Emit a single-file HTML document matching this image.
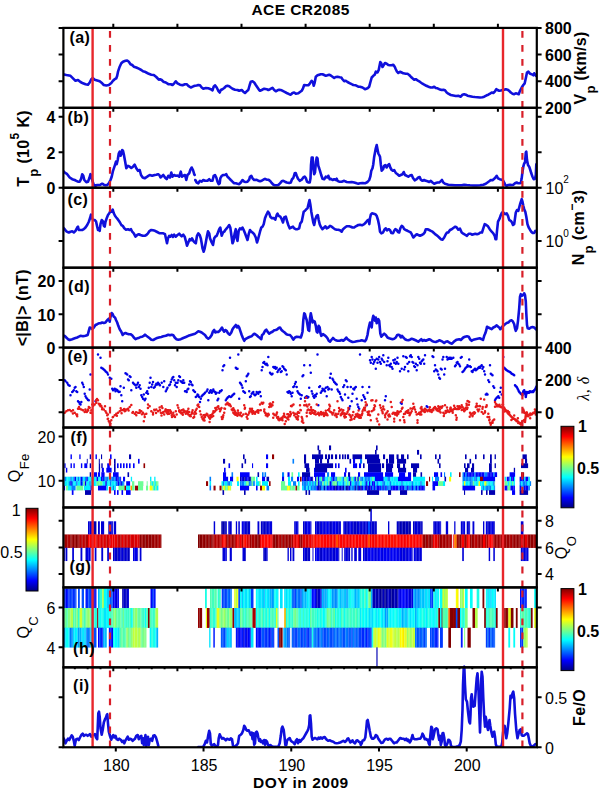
<!DOCTYPE html>
<html><head><meta charset="utf-8"><style>
html,body{margin:0;padding:0;background:#fff;width:600px;height:792px;overflow:hidden}
svg{display:block}
text{font-family:"Liberation Sans",sans-serif;fill:#000}
</style></head><body>
<svg width="600" height="792" viewBox="0 0 600 792">
<defs><linearGradient id="jet" x1="0" y1="0" x2="0" y2="1"><stop offset="0" stop-color="#800000"/><stop offset="0.125" stop-color="#ff0000"/><stop offset="0.375" stop-color="#ffff00"/><stop offset="0.625" stop-color="#00ffff"/><stop offset="0.875" stop-color="#0000ff"/><stop offset="1" stop-color="#000080"/></linearGradient>
<clipPath id="plot"><rect x="63.4" y="27.9" width="473.4" height="719.3700000000001"/></clipPath></defs>
<rect width="600" height="792" fill="#fff"/>
<g clip-path="url(#plot)"><rect x="370.30" y="508.20" width="1.55" height="13.35" fill="#0000d6"/><rect x="88.00" y="521.30" width="1.58" height="13.40" fill="#0000d4"/><rect x="89.46" y="521.30" width="1.58" height="13.40" fill="#0000d9"/><rect x="90.92" y="521.30" width="1.20" height="13.40" fill="#0000e8"/><rect x="92.00" y="521.30" width="1.58" height="13.40" fill="#0000b1"/><rect x="93.46" y="521.30" width="1.58" height="13.40" fill="#0000b3"/><rect x="94.92" y="521.30" width="1.50" height="13.40" fill="#0000b6"/><rect x="98.00" y="521.30" width="1.85" height="13.40" fill="#0000d6"/><rect x="101.00" y="521.30" width="3.15" height="13.40" fill="#0000d6"/><rect x="108.30" y="521.30" width="1.58" height="13.40" fill="#0000c9"/><rect x="109.76" y="521.30" width="1.58" height="13.40" fill="#0000d7"/><rect x="111.22" y="521.30" width="1.58" height="13.40" fill="#0000db"/><rect x="112.68" y="521.30" width="0.44" height="13.40" fill="#0000e2"/><rect x="113.80" y="521.30" width="2.35" height="13.40" fill="#0000d6"/><rect x="213.70" y="521.30" width="1.45" height="13.40" fill="#0000d6"/><rect x="221.30" y="521.30" width="1.58" height="13.40" fill="#0000ac"/><rect x="222.76" y="521.30" width="1.58" height="13.40" fill="#0000b5"/><rect x="224.22" y="521.30" width="1.58" height="13.40" fill="#0000ac"/><rect x="225.68" y="521.30" width="1.14" height="13.40" fill="#0000c9"/><rect x="228.30" y="521.30" width="1.58" height="13.40" fill="#0000de"/><rect x="229.76" y="521.30" width="1.58" height="13.40" fill="#0000c4"/><rect x="231.22" y="521.30" width="0.60" height="13.40" fill="#0000ea"/><rect x="235.80" y="521.30" width="1.35" height="13.40" fill="#0000d6"/><rect x="238.30" y="521.30" width="1.55" height="13.40" fill="#0000d6"/><rect x="241.70" y="521.30" width="1.58" height="13.40" fill="#0000e9"/><rect x="243.16" y="521.30" width="1.58" height="13.40" fill="#0000dc"/><rect x="244.62" y="521.30" width="1.58" height="13.40" fill="#0000db"/><rect x="246.08" y="521.30" width="1.58" height="13.40" fill="#0000c8"/><rect x="247.54" y="521.30" width="1.58" height="13.40" fill="#0000c2"/><rect x="249.00" y="521.30" width="1.12" height="13.40" fill="#0000d7"/><rect x="257.50" y="521.30" width="1.85" height="13.40" fill="#0000d6"/><rect x="260.80" y="521.30" width="1.58" height="13.40" fill="#0000c4"/><rect x="262.26" y="521.30" width="1.58" height="13.40" fill="#0000ca"/><rect x="263.72" y="521.30" width="1.58" height="13.40" fill="#0000cc"/><rect x="265.18" y="521.30" width="1.58" height="13.40" fill="#0000c3"/><rect x="266.64" y="521.30" width="1.58" height="13.40" fill="#0000d5"/><rect x="268.10" y="521.30" width="1.58" height="13.40" fill="#0000d4"/><rect x="269.56" y="521.30" width="1.58" height="13.40" fill="#0000e4"/><rect x="271.02" y="521.30" width="1.10" height="13.40" fill="#0000d7"/><rect x="294.20" y="521.30" width="1.58" height="13.40" fill="#0000dc"/><rect x="295.66" y="521.30" width="1.58" height="13.40" fill="#0000d6"/><rect x="297.12" y="521.30" width="1.30" height="13.40" fill="#0000dd"/><rect x="303.00" y="521.30" width="1.58" height="13.40" fill="#0000d4"/><rect x="304.46" y="521.30" width="1.58" height="13.40" fill="#0000cd"/><rect x="305.92" y="521.30" width="1.58" height="13.40" fill="#0000eb"/><rect x="307.38" y="521.30" width="1.58" height="13.40" fill="#0000ea"/><rect x="308.84" y="521.30" width="1.58" height="13.40" fill="#0000e4"/><rect x="310.30" y="521.30" width="1.12" height="13.40" fill="#0000df"/><rect x="315.00" y="521.30" width="1.58" height="13.40" fill="#0000d4"/><rect x="316.46" y="521.30" width="1.58" height="13.40" fill="#0000d0"/><rect x="317.92" y="521.30" width="1.58" height="13.40" fill="#0000d3"/><rect x="319.38" y="521.30" width="1.58" height="13.40" fill="#0000ca"/><rect x="320.84" y="521.30" width="1.58" height="13.40" fill="#0000e6"/><rect x="322.30" y="521.30" width="1.58" height="13.40" fill="#0000d7"/><rect x="323.76" y="521.30" width="1.58" height="13.40" fill="#0000e9"/><rect x="325.22" y="521.30" width="1.58" height="13.40" fill="#0000d7"/><rect x="326.68" y="521.30" width="1.58" height="13.40" fill="#0000ee"/><rect x="328.14" y="521.30" width="1.58" height="13.40" fill="#0000e9"/><rect x="329.60" y="521.30" width="1.58" height="13.40" fill="#0000c7"/><rect x="331.06" y="521.30" width="1.58" height="13.40" fill="#0000cf"/><rect x="332.52" y="521.30" width="1.58" height="13.40" fill="#0000ec"/><rect x="333.98" y="521.30" width="1.58" height="13.40" fill="#0000da"/><rect x="335.44" y="521.30" width="1.58" height="13.40" fill="#0000ef"/><rect x="336.90" y="521.30" width="1.58" height="13.40" fill="#0000d7"/><rect x="338.36" y="521.30" width="1.58" height="13.40" fill="#0000ca"/><rect x="339.82" y="521.30" width="1.10" height="13.40" fill="#0000e1"/><rect x="343.30" y="521.30" width="1.58" height="13.40" fill="#0000e2"/><rect x="344.76" y="521.30" width="1.58" height="13.40" fill="#0000cd"/><rect x="346.22" y="521.30" width="1.58" height="13.40" fill="#0000c5"/><rect x="347.68" y="521.30" width="1.58" height="13.40" fill="#0000cf"/><rect x="349.14" y="521.30" width="1.58" height="13.40" fill="#0000e9"/><rect x="350.60" y="521.30" width="1.58" height="13.40" fill="#0000e1"/><rect x="352.06" y="521.30" width="1.58" height="13.40" fill="#0000c7"/><rect x="353.52" y="521.30" width="1.58" height="13.40" fill="#0000cc"/><rect x="354.98" y="521.30" width="1.58" height="13.40" fill="#0000c6"/><rect x="356.44" y="521.30" width="1.58" height="13.40" fill="#0000c4"/><rect x="357.90" y="521.30" width="1.58" height="13.40" fill="#0000e2"/><rect x="359.36" y="521.30" width="1.58" height="13.40" fill="#0000c9"/><rect x="360.82" y="521.30" width="1.58" height="13.40" fill="#0000d9"/><rect x="362.28" y="521.30" width="1.58" height="13.40" fill="#0000d4"/><rect x="363.74" y="521.30" width="1.58" height="13.40" fill="#0000ca"/><rect x="365.20" y="521.30" width="1.58" height="13.40" fill="#0000e0"/><rect x="366.66" y="521.30" width="1.46" height="13.40" fill="#0000c7"/><rect x="368.00" y="521.30" width="2.15" height="13.40" fill="#004dff"/><rect x="370.00" y="521.30" width="1.58" height="13.40" fill="#0000dc"/><rect x="371.46" y="521.30" width="1.58" height="13.40" fill="#0000c7"/><rect x="372.92" y="521.30" width="1.58" height="13.40" fill="#0000d3"/><rect x="374.38" y="521.30" width="1.58" height="13.40" fill="#0000ca"/><rect x="375.84" y="521.30" width="0.98" height="13.40" fill="#0000cd"/><rect x="388.00" y="521.30" width="1.35" height="13.40" fill="#0000d6"/><rect x="396.70" y="521.30" width="1.58" height="13.40" fill="#0000c6"/><rect x="398.16" y="521.30" width="1.58" height="13.40" fill="#0000bf"/><rect x="399.62" y="521.30" width="1.58" height="13.40" fill="#0000ab"/><rect x="401.08" y="521.30" width="1.58" height="13.40" fill="#0000c2"/><rect x="402.54" y="521.30" width="1.58" height="13.40" fill="#0000a7"/><rect x="404.00" y="521.30" width="1.58" height="13.40" fill="#0000ae"/><rect x="405.46" y="521.30" width="1.58" height="13.40" fill="#0000c1"/><rect x="406.92" y="521.30" width="1.58" height="13.40" fill="#0000b8"/><rect x="408.38" y="521.30" width="1.58" height="13.40" fill="#0000a2"/><rect x="409.84" y="521.30" width="1.08" height="13.40" fill="#0000c6"/><rect x="413.00" y="521.30" width="1.58" height="13.40" fill="#0000cb"/><rect x="414.46" y="521.30" width="1.58" height="13.40" fill="#0000cc"/><rect x="415.92" y="521.30" width="1.58" height="13.40" fill="#0000e1"/><rect x="417.38" y="521.30" width="1.58" height="13.40" fill="#0000cf"/><rect x="418.84" y="521.30" width="1.58" height="13.40" fill="#0000ce"/><rect x="420.30" y="521.30" width="1.58" height="13.40" fill="#0000c5"/><rect x="421.76" y="521.30" width="0.86" height="13.40" fill="#0000c5"/><rect x="433.30" y="521.30" width="1.58" height="13.40" fill="#0000da"/><rect x="434.76" y="521.30" width="1.58" height="13.40" fill="#0000cc"/><rect x="436.22" y="521.30" width="1.58" height="13.40" fill="#0000da"/><rect x="437.68" y="521.30" width="1.58" height="13.40" fill="#0000d1"/><rect x="439.14" y="521.30" width="1.58" height="13.40" fill="#0000d4"/><rect x="440.60" y="521.30" width="0.52" height="13.40" fill="#0000e9"/><rect x="445.80" y="521.30" width="2.35" height="13.40" fill="#0000d6"/><rect x="454.20" y="521.30" width="1.25" height="13.40" fill="#0000d6"/><rect x="460.80" y="521.30" width="1.58" height="13.40" fill="#0000d6"/><rect x="462.26" y="521.30" width="1.58" height="13.40" fill="#0000d9"/><rect x="463.72" y="521.30" width="1.40" height="13.40" fill="#0000e5"/><rect x="466.70" y="521.30" width="1.58" height="13.40" fill="#0000c9"/><rect x="468.16" y="521.30" width="1.58" height="13.40" fill="#0000c8"/><rect x="469.62" y="521.30" width="0.50" height="13.40" fill="#0000e7"/><rect x="472.50" y="521.30" width="1.85" height="13.40" fill="#0000d6"/><rect x="483.00" y="521.30" width="1.35" height="13.40" fill="#0000d6"/><rect x="485.80" y="521.30" width="1.58" height="13.40" fill="#0000e3"/><rect x="487.26" y="521.30" width="1.58" height="13.40" fill="#0000cc"/><rect x="488.72" y="521.30" width="1.58" height="13.40" fill="#0000ca"/><rect x="490.18" y="521.30" width="1.58" height="13.40" fill="#0000e0"/><rect x="491.64" y="521.30" width="1.58" height="13.40" fill="#0000e8"/><rect x="493.10" y="521.30" width="1.58" height="13.40" fill="#0000ca"/><rect x="494.56" y="521.30" width="0.26" height="13.40" fill="#0000e9"/><rect x="520.80" y="521.30" width="2.65" height="13.40" fill="#0000d6"/><rect x="63.00" y="534.45" width="1.58" height="13.50" fill="#8f0000"/><rect x="64.46" y="534.45" width="1.58" height="13.50" fill="#9a0000"/><rect x="65.92" y="534.45" width="1.58" height="13.50" fill="#a10000"/><rect x="67.38" y="534.45" width="1.58" height="13.50" fill="#ae0000"/><rect x="68.84" y="534.45" width="1.58" height="13.50" fill="#b10000"/><rect x="70.30" y="534.45" width="1.12" height="13.50" fill="#8b0000"/><rect x="71.30" y="534.45" width="1.58" height="13.50" fill="#9f0000"/><rect x="72.76" y="534.45" width="1.58" height="13.50" fill="#8c0000"/><rect x="74.22" y="534.45" width="1.58" height="13.50" fill="#9e0000"/><rect x="75.68" y="534.45" width="1.58" height="13.50" fill="#870000"/><rect x="77.14" y="534.45" width="1.58" height="13.50" fill="#900000"/><rect x="78.60" y="534.45" width="1.22" height="13.50" fill="#9c0000"/><rect x="79.70" y="534.45" width="1.58" height="13.50" fill="#c00000"/><rect x="81.16" y="534.45" width="1.58" height="13.50" fill="#aa0000"/><rect x="82.62" y="534.45" width="1.58" height="13.50" fill="#c40000"/><rect x="84.08" y="534.45" width="1.58" height="13.50" fill="#be0000"/><rect x="85.54" y="534.45" width="1.58" height="13.50" fill="#b00000"/><rect x="87.00" y="534.45" width="1.12" height="13.50" fill="#a40000"/><rect x="88.00" y="534.45" width="1.58" height="13.50" fill="#f50000"/><rect x="89.46" y="534.45" width="1.58" height="13.50" fill="#ff0400"/><rect x="90.92" y="534.45" width="1.58" height="13.50" fill="#e90000"/><rect x="92.38" y="534.45" width="1.58" height="13.50" fill="#ff0700"/><rect x="93.84" y="534.45" width="1.58" height="13.50" fill="#ff0f00"/><rect x="95.30" y="534.45" width="1.12" height="13.50" fill="#ff0400"/><rect x="96.30" y="534.45" width="1.58" height="13.50" fill="#d30000"/><rect x="97.76" y="534.45" width="1.58" height="13.50" fill="#e30000"/><rect x="99.22" y="534.45" width="1.58" height="13.50" fill="#de0000"/><rect x="100.68" y="534.45" width="1.58" height="13.50" fill="#d60000"/><rect x="102.14" y="534.45" width="1.58" height="13.50" fill="#ce0000"/><rect x="103.60" y="534.45" width="1.58" height="13.50" fill="#e00000"/><rect x="105.06" y="534.45" width="1.58" height="13.50" fill="#d70000"/><rect x="106.52" y="534.45" width="1.58" height="13.50" fill="#c10000"/><rect x="108.00" y="534.45" width="1.58" height="13.50" fill="#e60000"/><rect x="109.46" y="534.45" width="1.58" height="13.50" fill="#f30000"/><rect x="110.92" y="534.45" width="1.58" height="13.50" fill="#f20000"/><rect x="112.38" y="534.45" width="0.74" height="13.50" fill="#f60000"/><rect x="113.00" y="534.45" width="1.58" height="13.50" fill="#e00000"/><rect x="114.46" y="534.45" width="1.58" height="13.50" fill="#e40000"/><rect x="115.92" y="534.45" width="1.58" height="13.50" fill="#e50000"/><rect x="117.38" y="534.45" width="1.58" height="13.50" fill="#c00000"/><rect x="118.84" y="534.45" width="1.58" height="13.50" fill="#c90000"/><rect x="120.30" y="534.45" width="1.58" height="13.50" fill="#be0000"/><rect x="121.76" y="534.45" width="1.58" height="13.50" fill="#e50000"/><rect x="123.22" y="534.45" width="1.58" height="13.50" fill="#cc0000"/><rect x="124.68" y="534.45" width="1.58" height="13.50" fill="#d20000"/><rect x="126.14" y="534.45" width="1.58" height="13.50" fill="#c80000"/><rect x="127.60" y="534.45" width="1.58" height="13.50" fill="#d80000"/><rect x="129.06" y="534.45" width="1.58" height="13.50" fill="#bd0000"/><rect x="130.52" y="534.45" width="1.58" height="13.50" fill="#e20000"/><rect x="131.98" y="534.45" width="1.14" height="13.50" fill="#cf0000"/><rect x="133.00" y="534.45" width="1.58" height="13.50" fill="#dc0000"/><rect x="134.46" y="534.45" width="1.58" height="13.50" fill="#d50000"/><rect x="135.92" y="534.45" width="1.58" height="13.50" fill="#dc0000"/><rect x="137.38" y="534.45" width="1.58" height="13.50" fill="#dd0000"/><rect x="138.84" y="534.45" width="0.98" height="13.50" fill="#da0000"/><rect x="139.70" y="534.45" width="1.58" height="13.50" fill="#8d0000"/><rect x="141.16" y="534.45" width="1.58" height="13.50" fill="#a40000"/><rect x="142.62" y="534.45" width="1.58" height="13.50" fill="#970000"/><rect x="144.08" y="534.45" width="1.58" height="13.50" fill="#8e0000"/><rect x="145.54" y="534.45" width="1.58" height="13.50" fill="#8f0000"/><rect x="147.00" y="534.45" width="1.58" height="13.50" fill="#a10000"/><rect x="148.46" y="534.45" width="1.58" height="13.50" fill="#920000"/><rect x="149.92" y="534.45" width="1.58" height="13.50" fill="#8f0000"/><rect x="151.38" y="534.45" width="1.58" height="13.50" fill="#9b0000"/><rect x="152.84" y="534.45" width="1.58" height="13.50" fill="#990000"/><rect x="154.30" y="534.45" width="1.58" height="13.50" fill="#a30000"/><rect x="155.76" y="534.45" width="1.58" height="13.50" fill="#9b0000"/><rect x="157.22" y="534.45" width="1.58" height="13.50" fill="#9a0000"/><rect x="158.68" y="534.45" width="1.58" height="13.50" fill="#af0000"/><rect x="160.14" y="534.45" width="1.28" height="13.50" fill="#980000"/><rect x="198.00" y="534.45" width="1.58" height="13.50" fill="#800000"/><rect x="199.46" y="534.45" width="1.58" height="13.50" fill="#840000"/><rect x="200.92" y="534.45" width="1.58" height="13.50" fill="#8b0000"/><rect x="202.38" y="534.45" width="1.58" height="13.50" fill="#980000"/><rect x="203.84" y="534.45" width="1.58" height="13.50" fill="#8a0000"/><rect x="205.30" y="534.45" width="1.58" height="13.50" fill="#910000"/><rect x="206.76" y="534.45" width="1.58" height="13.50" fill="#960000"/><rect x="208.22" y="534.45" width="1.58" height="13.50" fill="#860000"/><rect x="209.68" y="534.45" width="1.58" height="13.50" fill="#a50000"/><rect x="211.14" y="534.45" width="1.58" height="13.50" fill="#8a0000"/><rect x="212.60" y="534.45" width="0.82" height="13.50" fill="#a70000"/><rect x="213.30" y="534.45" width="1.58" height="13.50" fill="#ae0000"/><rect x="214.76" y="534.45" width="1.58" height="13.50" fill="#b30000"/><rect x="216.22" y="534.45" width="1.58" height="13.50" fill="#be0000"/><rect x="217.68" y="534.45" width="1.58" height="13.50" fill="#aa0000"/><rect x="219.14" y="534.45" width="1.58" height="13.50" fill="#b30000"/><rect x="220.60" y="534.45" width="1.22" height="13.50" fill="#ae0000"/><rect x="221.70" y="534.45" width="1.58" height="13.50" fill="#e90000"/><rect x="223.16" y="534.45" width="1.58" height="13.50" fill="#ff0500"/><rect x="224.62" y="534.45" width="1.30" height="13.50" fill="#ff0f00"/><rect x="225.80" y="534.45" width="1.58" height="13.50" fill="#b00000"/><rect x="227.26" y="534.45" width="1.58" height="13.50" fill="#a10000"/><rect x="228.72" y="534.45" width="1.58" height="13.50" fill="#b40000"/><rect x="230.18" y="534.45" width="1.58" height="13.50" fill="#b60000"/><rect x="231.64" y="534.45" width="1.58" height="13.50" fill="#980000"/><rect x="233.10" y="534.45" width="1.58" height="13.50" fill="#a20000"/><rect x="234.56" y="534.45" width="1.36" height="13.50" fill="#ab0000"/><rect x="235.80" y="534.45" width="1.58" height="13.50" fill="#d60000"/><rect x="237.26" y="534.45" width="1.58" height="13.50" fill="#ed0000"/><rect x="238.72" y="534.45" width="0.60" height="13.50" fill="#df0000"/><rect x="239.20" y="534.45" width="0.95" height="13.50" fill="#b30000"/><rect x="240.00" y="534.45" width="1.85" height="13.50" fill="#fa0000"/><rect x="241.70" y="534.45" width="1.75" height="13.50" fill="#b30000"/><rect x="243.30" y="534.45" width="1.58" height="13.50" fill="#ff1100"/><rect x="244.76" y="534.45" width="1.58" height="13.50" fill="#ff0800"/><rect x="246.22" y="534.45" width="0.60" height="13.50" fill="#f80000"/><rect x="246.70" y="534.45" width="1.58" height="13.50" fill="#d50000"/><rect x="248.16" y="534.45" width="1.58" height="13.50" fill="#d60000"/><rect x="249.62" y="534.45" width="0.50" height="13.50" fill="#ea0000"/><rect x="250.00" y="534.45" width="1.58" height="13.50" fill="#9b0000"/><rect x="251.46" y="534.45" width="1.58" height="13.50" fill="#a60000"/><rect x="252.92" y="534.45" width="1.58" height="13.50" fill="#ad0000"/><rect x="254.38" y="534.45" width="1.58" height="13.50" fill="#9e0000"/><rect x="255.84" y="534.45" width="1.58" height="13.50" fill="#900000"/><rect x="257.30" y="534.45" width="1.58" height="13.50" fill="#900000"/><rect x="258.76" y="534.45" width="1.36" height="13.50" fill="#950000"/><rect x="260.00" y="534.45" width="1.58" height="13.50" fill="#e80000"/><rect x="261.46" y="534.45" width="1.58" height="13.50" fill="#ff0400"/><rect x="262.92" y="534.45" width="1.58" height="13.50" fill="#ff0800"/><rect x="264.38" y="534.45" width="1.58" height="13.50" fill="#fc0000"/><rect x="265.84" y="534.45" width="1.58" height="13.50" fill="#ff0400"/><rect x="267.30" y="534.45" width="1.58" height="13.50" fill="#ff0700"/><rect x="268.76" y="534.45" width="1.58" height="13.50" fill="#fd0000"/><rect x="270.22" y="534.45" width="1.58" height="13.50" fill="#f50000"/><rect x="271.68" y="534.45" width="0.94" height="13.50" fill="#fa0000"/><rect x="272.50" y="534.45" width="1.58" height="13.50" fill="#a60000"/><rect x="273.96" y="534.45" width="1.58" height="13.50" fill="#900000"/><rect x="275.42" y="534.45" width="1.58" height="13.50" fill="#8a0000"/><rect x="276.88" y="534.45" width="1.58" height="13.50" fill="#a00000"/><rect x="278.34" y="534.45" width="1.58" height="13.50" fill="#af0000"/><rect x="279.80" y="534.45" width="1.58" height="13.50" fill="#b10000"/><rect x="281.26" y="534.45" width="1.58" height="13.50" fill="#8f0000"/><rect x="282.72" y="534.45" width="1.58" height="13.50" fill="#b10000"/><rect x="284.18" y="534.45" width="1.58" height="13.50" fill="#960000"/><rect x="285.64" y="534.45" width="1.58" height="13.50" fill="#9b0000"/><rect x="287.10" y="534.45" width="1.58" height="13.50" fill="#a60000"/><rect x="288.56" y="534.45" width="1.58" height="13.50" fill="#920000"/><rect x="290.02" y="534.45" width="1.58" height="13.50" fill="#b20000"/><rect x="291.48" y="534.45" width="1.58" height="13.50" fill="#ad0000"/><rect x="292.94" y="534.45" width="0.48" height="13.50" fill="#a00000"/><rect x="293.30" y="534.45" width="1.58" height="13.50" fill="#f90000"/><rect x="294.76" y="534.45" width="1.58" height="13.50" fill="#d80000"/><rect x="296.22" y="534.45" width="1.58" height="13.50" fill="#f00000"/><rect x="297.68" y="534.45" width="1.44" height="13.50" fill="#f40000"/><rect x="299.00" y="534.45" width="1.58" height="13.50" fill="#b10000"/><rect x="300.46" y="534.45" width="1.58" height="13.50" fill="#990000"/><rect x="301.92" y="534.45" width="0.70" height="13.50" fill="#a00000"/><rect x="302.50" y="534.45" width="1.58" height="13.50" fill="#e00000"/><rect x="303.96" y="534.45" width="1.58" height="13.50" fill="#df0000"/><rect x="305.42" y="534.45" width="1.58" height="13.50" fill="#d90000"/><rect x="306.88" y="534.45" width="1.58" height="13.50" fill="#d30000"/><rect x="308.34" y="534.45" width="1.58" height="13.50" fill="#de0000"/><rect x="309.80" y="534.45" width="1.58" height="13.50" fill="#f20000"/><rect x="311.26" y="534.45" width="1.58" height="13.50" fill="#e70000"/><rect x="312.72" y="534.45" width="0.70" height="13.50" fill="#f30000"/><rect x="313.30" y="534.45" width="1.58" height="13.50" fill="#ff1900"/><rect x="314.76" y="534.45" width="1.58" height="13.50" fill="#ff0600"/><rect x="316.22" y="534.45" width="1.58" height="13.50" fill="#fb0000"/><rect x="317.68" y="534.45" width="1.58" height="13.50" fill="#ff1200"/><rect x="319.14" y="534.45" width="1.58" height="13.50" fill="#ff0e00"/><rect x="320.60" y="534.45" width="1.58" height="13.50" fill="#ff0b00"/><rect x="322.06" y="534.45" width="1.58" height="13.50" fill="#fc0000"/><rect x="323.52" y="534.45" width="1.58" height="13.50" fill="#ff0400"/><rect x="324.98" y="534.45" width="1.58" height="13.50" fill="#ff0000"/><rect x="326.44" y="534.45" width="1.58" height="13.50" fill="#fa0000"/><rect x="327.90" y="534.45" width="1.58" height="13.50" fill="#ff0900"/><rect x="329.36" y="534.45" width="1.58" height="13.50" fill="#f80000"/><rect x="330.82" y="534.45" width="1.58" height="13.50" fill="#f40000"/><rect x="332.28" y="534.45" width="1.58" height="13.50" fill="#ff1600"/><rect x="333.74" y="534.45" width="1.58" height="13.50" fill="#f20000"/><rect x="335.20" y="534.45" width="0.92" height="13.50" fill="#fb0000"/><rect x="336.00" y="534.45" width="2.15" height="13.50" fill="#ff4c00"/><rect x="338.00" y="534.45" width="1.58" height="13.50" fill="#ff1400"/><rect x="339.46" y="534.45" width="1.58" height="13.50" fill="#ff0700"/><rect x="340.92" y="534.45" width="1.58" height="13.50" fill="#ff0000"/><rect x="342.38" y="534.45" width="1.58" height="13.50" fill="#f30000"/><rect x="343.84" y="534.45" width="1.58" height="13.50" fill="#ff0a00"/><rect x="345.30" y="534.45" width="1.58" height="13.50" fill="#ff0200"/><rect x="346.76" y="534.45" width="1.58" height="13.50" fill="#f50000"/><rect x="348.22" y="534.45" width="1.58" height="13.50" fill="#f80000"/><rect x="349.68" y="534.45" width="1.58" height="13.50" fill="#f20000"/><rect x="351.14" y="534.45" width="1.58" height="13.50" fill="#ff0700"/><rect x="352.60" y="534.45" width="1.58" height="13.50" fill="#fe0000"/><rect x="354.06" y="534.45" width="1.58" height="13.50" fill="#ff1100"/><rect x="355.52" y="534.45" width="1.58" height="13.50" fill="#fb0000"/><rect x="356.98" y="534.45" width="1.58" height="13.50" fill="#f70000"/><rect x="358.44" y="534.45" width="1.58" height="13.50" fill="#fe0000"/><rect x="359.90" y="534.45" width="1.58" height="13.50" fill="#fb0000"/><rect x="361.36" y="534.45" width="1.58" height="13.50" fill="#ff1100"/><rect x="362.82" y="534.45" width="1.58" height="13.50" fill="#f40000"/><rect x="364.28" y="534.45" width="1.58" height="13.50" fill="#f00000"/><rect x="365.74" y="534.45" width="1.58" height="13.50" fill="#f10000"/><rect x="367.20" y="534.45" width="0.92" height="13.50" fill="#ff0400"/><rect x="368.00" y="534.45" width="2.15" height="13.50" fill="#ff4c00"/><rect x="370.00" y="534.45" width="1.58" height="13.50" fill="#f80000"/><rect x="371.46" y="534.45" width="1.58" height="13.50" fill="#ff0c00"/><rect x="372.92" y="534.45" width="1.58" height="13.50" fill="#f30000"/><rect x="374.38" y="534.45" width="1.58" height="13.50" fill="#f60000"/><rect x="375.84" y="534.45" width="1.58" height="13.50" fill="#ff0b00"/><rect x="377.30" y="534.45" width="1.58" height="13.50" fill="#ff1600"/><rect x="378.76" y="534.45" width="1.58" height="13.50" fill="#ff0800"/><rect x="380.22" y="534.45" width="1.58" height="13.50" fill="#ff0300"/><rect x="381.68" y="534.45" width="1.58" height="13.50" fill="#f90000"/><rect x="383.14" y="534.45" width="1.58" height="13.50" fill="#ff0600"/><rect x="384.60" y="534.45" width="1.58" height="13.50" fill="#ff1800"/><rect x="386.06" y="534.45" width="1.58" height="13.50" fill="#f70000"/><rect x="387.52" y="534.45" width="1.58" height="13.50" fill="#ff1700"/><rect x="388.98" y="534.45" width="1.58" height="13.50" fill="#f80000"/><rect x="390.44" y="534.45" width="1.58" height="13.50" fill="#ff1200"/><rect x="391.90" y="534.45" width="1.58" height="13.50" fill="#ff0c00"/><rect x="393.36" y="534.45" width="1.58" height="13.50" fill="#f80000"/><rect x="394.82" y="534.45" width="1.58" height="13.50" fill="#ff1400"/><rect x="396.28" y="534.45" width="1.58" height="13.50" fill="#ff1300"/><rect x="397.74" y="534.45" width="1.58" height="13.50" fill="#ff0400"/><rect x="399.20" y="534.45" width="1.58" height="13.50" fill="#fb0000"/><rect x="400.66" y="534.45" width="1.58" height="13.50" fill="#f60000"/><rect x="402.12" y="534.45" width="1.58" height="13.50" fill="#fc0000"/><rect x="403.58" y="534.45" width="1.58" height="13.50" fill="#f20000"/><rect x="405.04" y="534.45" width="1.58" height="13.50" fill="#ff0500"/><rect x="406.50" y="534.45" width="1.58" height="13.50" fill="#f20000"/><rect x="407.96" y="534.45" width="1.58" height="13.50" fill="#ff1600"/><rect x="409.42" y="534.45" width="1.58" height="13.50" fill="#ff1000"/><rect x="410.88" y="534.45" width="1.58" height="13.50" fill="#ff0400"/><rect x="412.34" y="534.45" width="1.58" height="13.50" fill="#ff0e00"/><rect x="413.80" y="534.45" width="1.58" height="13.50" fill="#fb0000"/><rect x="415.26" y="534.45" width="1.58" height="13.50" fill="#fe0000"/><rect x="416.72" y="534.45" width="1.58" height="13.50" fill="#ff0400"/><rect x="418.18" y="534.45" width="1.58" height="13.50" fill="#f60000"/><rect x="419.64" y="534.45" width="1.58" height="13.50" fill="#ff0300"/><rect x="421.10" y="534.45" width="1.52" height="13.50" fill="#ff0d00"/><rect x="422.50" y="534.45" width="1.58" height="13.50" fill="#a30000"/><rect x="423.96" y="534.45" width="1.58" height="13.50" fill="#900000"/><rect x="425.42" y="534.45" width="1.58" height="13.50" fill="#8e0000"/><rect x="426.88" y="534.45" width="1.58" height="13.50" fill="#aa0000"/><rect x="428.34" y="534.45" width="1.58" height="13.50" fill="#900000"/><rect x="429.80" y="534.45" width="1.58" height="13.50" fill="#8b0000"/><rect x="431.26" y="534.45" width="1.58" height="13.50" fill="#9d0000"/><rect x="432.72" y="534.45" width="0.40" height="13.50" fill="#9b0000"/><rect x="433.00" y="534.45" width="1.58" height="13.50" fill="#f20000"/><rect x="434.46" y="534.45" width="1.58" height="13.50" fill="#e40000"/><rect x="435.92" y="534.45" width="1.58" height="13.50" fill="#e50000"/><rect x="437.38" y="534.45" width="0.74" height="13.50" fill="#e10000"/><rect x="438.00" y="534.45" width="1.58" height="13.50" fill="#bc0000"/><rect x="439.46" y="534.45" width="1.58" height="13.50" fill="#950000"/><rect x="440.92" y="534.45" width="1.58" height="13.50" fill="#a80000"/><rect x="442.38" y="534.45" width="1.58" height="13.50" fill="#ac0000"/><rect x="443.84" y="534.45" width="1.58" height="13.50" fill="#9c0000"/><rect x="445.30" y="534.45" width="1.58" height="13.50" fill="#a60000"/><rect x="446.76" y="534.45" width="1.58" height="13.50" fill="#a90000"/><rect x="448.22" y="534.45" width="1.58" height="13.50" fill="#a10000"/><rect x="449.68" y="534.45" width="1.58" height="13.50" fill="#ba0000"/><rect x="451.14" y="534.45" width="0.98" height="13.50" fill="#a70000"/><rect x="453.30" y="534.45" width="1.05" height="13.50" fill="#fa0000"/><rect x="454.20" y="534.45" width="2.65" height="13.50" fill="#ff8000"/><rect x="456.70" y="534.45" width="1.58" height="13.50" fill="#a20000"/><rect x="458.16" y="534.45" width="1.58" height="13.50" fill="#8b0000"/><rect x="459.62" y="534.45" width="1.58" height="13.50" fill="#8d0000"/><rect x="461.08" y="534.45" width="0.74" height="13.50" fill="#a80000"/><rect x="461.70" y="534.45" width="2.65" height="13.50" fill="#fa0000"/><rect x="464.20" y="534.45" width="2.65" height="13.50" fill="#9e0000"/><rect x="466.70" y="534.45" width="1.58" height="13.50" fill="#fb0000"/><rect x="468.16" y="534.45" width="1.58" height="13.50" fill="#ff0a00"/><rect x="469.62" y="534.45" width="0.50" height="13.50" fill="#fd0000"/><rect x="470.00" y="534.45" width="1.58" height="13.50" fill="#9b0000"/><rect x="471.46" y="534.45" width="1.58" height="13.50" fill="#980000"/><rect x="472.92" y="534.45" width="1.58" height="13.50" fill="#a90000"/><rect x="474.38" y="534.45" width="1.58" height="13.50" fill="#b00000"/><rect x="475.84" y="534.45" width="1.58" height="13.50" fill="#b50000"/><rect x="477.30" y="534.45" width="1.58" height="13.50" fill="#a30000"/><rect x="478.76" y="534.45" width="1.58" height="13.50" fill="#970000"/><rect x="480.22" y="534.45" width="1.58" height="13.50" fill="#b70000"/><rect x="481.68" y="534.45" width="1.44" height="13.50" fill="#9d0000"/><rect x="483.00" y="534.45" width="2.15" height="13.50" fill="#fa0000"/><rect x="485.00" y="534.45" width="1.58" height="13.50" fill="#bc0000"/><rect x="486.46" y="534.45" width="1.58" height="13.50" fill="#b50000"/><rect x="487.92" y="534.45" width="0.50" height="13.50" fill="#b30000"/><rect x="488.30" y="534.45" width="1.58" height="13.50" fill="#f20000"/><rect x="489.76" y="534.45" width="1.58" height="13.50" fill="#ff0200"/><rect x="491.22" y="534.45" width="1.58" height="13.50" fill="#ff0100"/><rect x="492.68" y="534.45" width="0.74" height="13.50" fill="#f50000"/><rect x="493.30" y="534.45" width="1.58" height="13.50" fill="#ae0000"/><rect x="494.76" y="534.45" width="1.58" height="13.50" fill="#950000"/><rect x="496.22" y="534.45" width="1.58" height="13.50" fill="#ad0000"/><rect x="497.68" y="534.45" width="1.58" height="13.50" fill="#9e0000"/><rect x="499.14" y="534.45" width="1.58" height="13.50" fill="#a80000"/><rect x="500.60" y="534.45" width="1.58" height="13.50" fill="#aa0000"/><rect x="502.06" y="534.45" width="1.58" height="13.50" fill="#9d0000"/><rect x="503.52" y="534.45" width="1.58" height="13.50" fill="#a10000"/><rect x="504.98" y="534.45" width="1.58" height="13.50" fill="#a30000"/><rect x="506.44" y="534.45" width="1.58" height="13.50" fill="#a20000"/><rect x="507.90" y="534.45" width="1.58" height="13.50" fill="#9d0000"/><rect x="509.36" y="534.45" width="1.58" height="13.50" fill="#ac0000"/><rect x="510.82" y="534.45" width="1.58" height="13.50" fill="#aa0000"/><rect x="512.28" y="534.45" width="1.58" height="13.50" fill="#990000"/><rect x="513.74" y="534.45" width="1.58" height="13.50" fill="#980000"/><rect x="515.20" y="534.45" width="1.58" height="13.50" fill="#9d0000"/><rect x="516.66" y="534.45" width="1.58" height="13.50" fill="#900000"/><rect x="518.12" y="534.45" width="1.58" height="13.50" fill="#9a0000"/><rect x="519.58" y="534.45" width="1.34" height="13.50" fill="#900000"/><rect x="520.80" y="534.45" width="2.65" height="13.50" fill="#fa0000"/><rect x="523.30" y="534.45" width="1.85" height="13.50" fill="#a80000"/><rect x="525.00" y="534.45" width="2.65" height="13.50" fill="#e50000"/><rect x="527.50" y="534.45" width="1.58" height="13.50" fill="#a90000"/><rect x="528.96" y="534.45" width="1.58" height="13.50" fill="#940000"/><rect x="530.42" y="534.45" width="1.58" height="13.50" fill="#910000"/><rect x="531.88" y="534.45" width="1.58" height="13.50" fill="#8e0000"/><rect x="533.34" y="534.45" width="1.58" height="13.50" fill="#a60000"/><rect x="534.80" y="534.45" width="1.58" height="13.50" fill="#a60000"/><rect x="536.26" y="534.45" width="0.86" height="13.50" fill="#8d0000"/><rect x="63.00" y="547.70" width="1.85" height="13.35" fill="#0000d6"/><rect x="65.50" y="547.70" width="1.85" height="13.35" fill="#0000d6"/><rect x="72.20" y="547.70" width="1.75" height="13.35" fill="#0000d6"/><rect x="80.50" y="547.70" width="1.85" height="13.35" fill="#0000d6"/><rect x="85.50" y="547.70" width="1.58" height="13.35" fill="#0000cb"/><rect x="86.96" y="547.70" width="1.58" height="13.35" fill="#0000eb"/><rect x="88.42" y="547.70" width="1.58" height="13.35" fill="#0000e6"/><rect x="89.88" y="547.70" width="0.74" height="13.35" fill="#0000c7"/><rect x="94.70" y="547.70" width="1.75" height="13.35" fill="#0000d6"/><rect x="101.30" y="547.70" width="1.85" height="13.35" fill="#0000d6"/><rect x="107.20" y="547.70" width="1.75" height="13.35" fill="#0000d6"/><rect x="113.00" y="547.70" width="1.58" height="13.35" fill="#0000c6"/><rect x="114.46" y="547.70" width="1.58" height="13.35" fill="#0000da"/><rect x="115.92" y="547.70" width="1.58" height="13.35" fill="#0000c7"/><rect x="117.38" y="547.70" width="1.58" height="13.35" fill="#0000c1"/><rect x="118.84" y="547.70" width="1.58" height="13.35" fill="#0000df"/><rect x="120.30" y="547.70" width="1.58" height="13.35" fill="#0000ce"/><rect x="121.76" y="547.70" width="1.58" height="13.35" fill="#0000dd"/><rect x="123.22" y="547.70" width="1.58" height="13.35" fill="#0000c2"/><rect x="124.68" y="547.70" width="1.58" height="13.35" fill="#0000cd"/><rect x="126.14" y="547.70" width="1.58" height="13.35" fill="#0000d9"/><rect x="127.60" y="547.70" width="1.58" height="13.35" fill="#0000bd"/><rect x="129.06" y="547.70" width="0.76" height="13.35" fill="#0000c5"/><rect x="133.00" y="547.70" width="1.58" height="13.35" fill="#0000de"/><rect x="134.46" y="547.70" width="1.58" height="13.35" fill="#0000e7"/><rect x="135.92" y="547.70" width="1.58" height="13.35" fill="#0000e9"/><rect x="137.38" y="547.70" width="0.74" height="13.35" fill="#0000c7"/><rect x="139.70" y="547.70" width="1.75" height="13.35" fill="#0000d6"/><rect x="222.50" y="547.70" width="1.58" height="13.35" fill="#0000d6"/><rect x="223.96" y="547.70" width="1.58" height="13.35" fill="#0000e1"/><rect x="225.42" y="547.70" width="1.40" height="13.35" fill="#0000d6"/><rect x="229.70" y="547.70" width="2.15" height="13.35" fill="#0000d6"/><rect x="242.50" y="547.70" width="1.58" height="13.35" fill="#0000de"/><rect x="243.96" y="547.70" width="1.58" height="13.35" fill="#0000ca"/><rect x="245.42" y="547.70" width="0.50" height="13.35" fill="#0000c5"/><rect x="263.30" y="547.70" width="1.58" height="13.35" fill="#0000c6"/><rect x="264.76" y="547.70" width="1.58" height="13.35" fill="#0000c3"/><rect x="266.22" y="547.70" width="1.40" height="13.35" fill="#0000d8"/><rect x="287.50" y="547.70" width="1.35" height="13.35" fill="#0000d6"/><rect x="290.00" y="547.70" width="1.45" height="13.35" fill="#0000d6"/><rect x="292.50" y="547.70" width="1.85" height="13.35" fill="#0000d6"/><rect x="303.00" y="547.70" width="1.58" height="13.35" fill="#0000d7"/><rect x="304.46" y="547.70" width="1.58" height="13.35" fill="#0000d9"/><rect x="305.92" y="547.70" width="1.58" height="13.35" fill="#0000c8"/><rect x="307.38" y="547.70" width="1.58" height="13.35" fill="#0000c9"/><rect x="308.84" y="547.70" width="1.28" height="13.35" fill="#0000ca"/><rect x="312.50" y="547.70" width="0.95" height="13.35" fill="#0000d6"/><rect x="315.00" y="547.70" width="1.58" height="13.35" fill="#0000e9"/><rect x="316.46" y="547.70" width="1.58" height="13.35" fill="#0000ef"/><rect x="317.92" y="547.70" width="1.58" height="13.35" fill="#0000ed"/><rect x="319.38" y="547.70" width="1.58" height="13.35" fill="#0000cb"/><rect x="320.84" y="547.70" width="1.58" height="13.35" fill="#0000c9"/><rect x="322.30" y="547.70" width="1.58" height="13.35" fill="#0000ee"/><rect x="323.76" y="547.70" width="1.58" height="13.35" fill="#0000da"/><rect x="325.22" y="547.70" width="1.58" height="13.35" fill="#0000e6"/><rect x="326.68" y="547.70" width="1.58" height="13.35" fill="#0000d4"/><rect x="328.14" y="547.70" width="1.58" height="13.35" fill="#0000da"/><rect x="329.60" y="547.70" width="1.58" height="13.35" fill="#0000dc"/><rect x="331.06" y="547.70" width="1.58" height="13.35" fill="#0000d8"/><rect x="332.52" y="547.70" width="1.58" height="13.35" fill="#0000df"/><rect x="333.98" y="547.70" width="1.58" height="13.35" fill="#0000c7"/><rect x="335.44" y="547.70" width="1.58" height="13.35" fill="#0000e4"/><rect x="336.90" y="547.70" width="1.58" height="13.35" fill="#0000e9"/><rect x="338.36" y="547.70" width="0.96" height="13.35" fill="#0000ce"/><rect x="341.70" y="547.70" width="0.95" height="13.35" fill="#0000d6"/><rect x="344.20" y="547.70" width="1.58" height="13.35" fill="#0000d4"/><rect x="345.66" y="547.70" width="1.58" height="13.35" fill="#0000e0"/><rect x="347.12" y="547.70" width="1.58" height="13.35" fill="#0000d2"/><rect x="348.58" y="547.70" width="1.54" height="13.35" fill="#0000ca"/><rect x="351.30" y="547.70" width="1.35" height="13.35" fill="#0000d6"/><rect x="354.20" y="547.70" width="2.65" height="13.35" fill="#0000d6"/><rect x="358.30" y="547.70" width="2.85" height="13.35" fill="#0000d6"/><rect x="363.00" y="547.70" width="1.58" height="13.35" fill="#0000d8"/><rect x="364.46" y="547.70" width="1.58" height="13.35" fill="#0000e6"/><rect x="365.92" y="547.70" width="1.58" height="13.35" fill="#0000d2"/><rect x="367.38" y="547.70" width="1.58" height="13.35" fill="#0000f6"/><rect x="368.84" y="547.70" width="1.58" height="13.35" fill="#0000f2"/><rect x="370.30" y="547.70" width="1.58" height="13.35" fill="#0000ee"/><rect x="371.76" y="547.70" width="1.58" height="13.35" fill="#0000f4"/><rect x="373.22" y="547.70" width="1.58" height="13.35" fill="#0000eb"/><rect x="374.68" y="547.70" width="1.58" height="13.35" fill="#0000e2"/><rect x="376.14" y="547.70" width="1.58" height="13.35" fill="#0000ea"/><rect x="377.60" y="547.70" width="1.58" height="13.35" fill="#0000e6"/><rect x="379.06" y="547.70" width="1.58" height="13.35" fill="#0000f9"/><rect x="380.52" y="547.70" width="1.58" height="13.35" fill="#0000f2"/><rect x="381.98" y="547.70" width="1.58" height="13.35" fill="#0000dc"/><rect x="383.44" y="547.70" width="1.58" height="13.35" fill="#0000f6"/><rect x="384.90" y="547.70" width="1.58" height="13.35" fill="#0000ef"/><rect x="386.36" y="547.70" width="1.58" height="13.35" fill="#0000f1"/><rect x="387.82" y="547.70" width="1.58" height="13.35" fill="#0000f2"/><rect x="389.28" y="547.70" width="1.58" height="13.35" fill="#0000e2"/><rect x="390.74" y="547.70" width="1.58" height="13.35" fill="#0000f6"/><rect x="392.20" y="547.70" width="1.58" height="13.35" fill="#0000f5"/><rect x="393.66" y="547.70" width="1.58" height="13.35" fill="#0000ed"/><rect x="395.12" y="547.70" width="1.58" height="13.35" fill="#0000f0"/><rect x="396.58" y="547.70" width="1.58" height="13.35" fill="#0000f0"/><rect x="398.04" y="547.70" width="1.58" height="13.35" fill="#0000e2"/><rect x="399.50" y="547.70" width="1.58" height="13.35" fill="#0000ef"/><rect x="400.96" y="547.70" width="1.58" height="13.35" fill="#0000d4"/><rect x="402.42" y="547.70" width="1.58" height="13.35" fill="#0000df"/><rect x="403.88" y="547.70" width="1.58" height="13.35" fill="#0000e4"/><rect x="405.34" y="547.70" width="1.58" height="13.35" fill="#0000d2"/><rect x="406.80" y="547.70" width="1.58" height="13.35" fill="#0000e0"/><rect x="408.26" y="547.70" width="1.58" height="13.35" fill="#0000eb"/><rect x="409.72" y="547.70" width="1.58" height="13.35" fill="#0000eb"/><rect x="411.18" y="547.70" width="1.44" height="13.35" fill="#0000db"/><rect x="413.70" y="547.70" width="1.58" height="13.35" fill="#0000e8"/><rect x="415.16" y="547.70" width="1.58" height="13.35" fill="#0000dd"/><rect x="416.62" y="547.70" width="1.58" height="13.35" fill="#0000d0"/><rect x="418.08" y="547.70" width="1.58" height="13.35" fill="#0000dd"/><rect x="419.54" y="547.70" width="1.58" height="13.35" fill="#0000d9"/><rect x="421.00" y="547.70" width="0.82" height="13.35" fill="#0000d8"/><rect x="462.20" y="547.70" width="1.65" height="13.35" fill="#0000d6"/><rect x="488.70" y="547.70" width="1.45" height="13.35" fill="#0000d6"/><rect x="493.30" y="547.70" width="1.55" height="13.35" fill="#0000d6"/><rect x="520.80" y="547.70" width="1.58" height="13.35" fill="#0000d2"/><rect x="522.26" y="547.70" width="1.58" height="13.35" fill="#0000eb"/><rect x="523.72" y="547.70" width="1.58" height="13.35" fill="#0000dc"/><rect x="525.18" y="547.70" width="1.58" height="13.35" fill="#0000de"/><rect x="526.64" y="547.70" width="1.58" height="13.35" fill="#0000e1"/><rect x="528.10" y="547.70" width="0.32" height="13.35" fill="#0000ea"/><rect x="63.00" y="588.40" width="2.65" height="19.85" fill="#0042ff"/><rect x="65.50" y="588.40" width="1.58" height="19.85" fill="#0000f6"/><rect x="66.96" y="588.40" width="1.58" height="19.85" fill="#0022ff"/><rect x="68.42" y="588.40" width="1.37" height="19.85" fill="#002bff"/><rect x="69.67" y="588.40" width="1.58" height="19.85" fill="#003bff"/><rect x="71.13" y="588.40" width="1.58" height="19.85" fill="#0045ff"/><rect x="72.59" y="588.40" width="1.58" height="19.85" fill="#002cff"/><rect x="74.05" y="588.40" width="1.58" height="19.85" fill="#0037ff"/><rect x="75.51" y="588.40" width="0.95" height="19.85" fill="#0044ff"/><rect x="78.00" y="588.40" width="1.82" height="19.85" fill="#004dff"/><rect x="81.67" y="588.40" width="2.32" height="19.85" fill="#004dff"/><rect x="85.50" y="588.40" width="1.58" height="19.85" fill="#001bff"/><rect x="86.96" y="588.40" width="1.58" height="19.85" fill="#0026ff"/><rect x="88.42" y="588.40" width="1.58" height="19.85" fill="#0055ff"/><rect x="89.88" y="588.40" width="1.57" height="19.85" fill="#003cff"/><rect x="91.33" y="588.40" width="1.58" height="19.85" fill="#0000e6"/><rect x="92.79" y="588.40" width="1.58" height="19.85" fill="#0008ff"/><rect x="94.25" y="588.40" width="1.58" height="19.85" fill="#0000ea"/><rect x="95.71" y="588.40" width="0.74" height="19.85" fill="#000aff"/><rect x="98.00" y="588.40" width="1.82" height="19.85" fill="#00b2ff"/><rect x="99.67" y="588.40" width="2.65" height="19.85" fill="#2effd1"/><rect x="102.17" y="588.40" width="1.82" height="19.85" fill="#b3ff4c"/><rect x="103.83" y="588.40" width="2.98" height="19.85" fill="#05fffa"/><rect x="106.67" y="588.40" width="3.15" height="19.85" fill="#00d1ff"/><rect x="109.67" y="588.40" width="1.58" height="19.85" fill="#0056ff"/><rect x="111.13" y="588.40" width="1.58" height="19.85" fill="#0063ff"/><rect x="112.59" y="588.40" width="0.53" height="19.85" fill="#002eff"/><rect x="113.00" y="588.40" width="1.58" height="19.85" fill="#0000ec"/><rect x="114.46" y="588.40" width="1.58" height="19.85" fill="#0000f8"/><rect x="115.92" y="588.40" width="1.58" height="19.85" fill="#0000c5"/><rect x="117.38" y="588.40" width="1.57" height="19.85" fill="#0005ff"/><rect x="122.17" y="588.40" width="1.58" height="19.85" fill="#0000b9"/><rect x="123.63" y="588.40" width="1.58" height="19.85" fill="#0000cf"/><rect x="125.09" y="588.40" width="1.58" height="19.85" fill="#0000b9"/><rect x="126.55" y="588.40" width="1.58" height="19.85" fill="#0000d1"/><rect x="128.01" y="588.40" width="0.95" height="19.85" fill="#0000d9"/><rect x="150.50" y="588.40" width="1.58" height="19.85" fill="#0000f9"/><rect x="151.96" y="588.40" width="1.58" height="19.85" fill="#0039ff"/><rect x="153.42" y="588.40" width="1.58" height="19.85" fill="#0014ff"/><rect x="154.88" y="588.40" width="0.74" height="19.85" fill="#001bff"/><rect x="205.00" y="588.40" width="1.82" height="19.85" fill="#1affe5"/><rect x="210.00" y="588.40" width="1.58" height="19.85" fill="#53ffac"/><rect x="211.46" y="588.40" width="1.58" height="19.85" fill="#43ffbc"/><rect x="212.92" y="588.40" width="1.58" height="19.85" fill="#3dffc2"/><rect x="214.38" y="588.40" width="1.58" height="19.85" fill="#58ffa7"/><rect x="215.84" y="588.40" width="0.95" height="19.85" fill="#51ffae"/><rect x="217.50" y="588.40" width="1.58" height="19.85" fill="#29ffd6"/><rect x="218.96" y="588.40" width="1.58" height="19.85" fill="#48ffb7"/><rect x="220.42" y="588.40" width="0.53" height="19.85" fill="#2affd5"/><rect x="221.67" y="588.40" width="1.58" height="19.85" fill="#003eff"/><rect x="223.13" y="588.40" width="1.58" height="19.85" fill="#004fff"/><rect x="224.59" y="588.40" width="1.58" height="19.85" fill="#0040ff"/><rect x="226.05" y="588.40" width="1.58" height="19.85" fill="#0048ff"/><rect x="227.51" y="588.40" width="1.58" height="19.85" fill="#0073ff"/><rect x="228.97" y="588.40" width="1.58" height="19.85" fill="#0059ff"/><rect x="230.43" y="588.40" width="1.36" height="19.85" fill="#007dff"/><rect x="234.17" y="588.40" width="1.58" height="19.85" fill="#e3ff1c"/><rect x="235.63" y="588.40" width="1.58" height="19.85" fill="#b1ff4e"/><rect x="237.09" y="588.40" width="1.37" height="19.85" fill="#f4ff0b"/><rect x="238.33" y="588.40" width="1.82" height="19.85" fill="#004dff"/><rect x="240.00" y="588.40" width="1.58" height="19.85" fill="#06fff9"/><rect x="241.46" y="588.40" width="1.58" height="19.85" fill="#00c7ff"/><rect x="242.92" y="588.40" width="1.58" height="19.85" fill="#03fffc"/><rect x="244.38" y="588.40" width="1.58" height="19.85" fill="#00e0ff"/><rect x="245.84" y="588.40" width="1.58" height="19.85" fill="#00e4ff"/><rect x="247.30" y="588.40" width="1.58" height="19.85" fill="#08fff7"/><rect x="248.76" y="588.40" width="1.58" height="19.85" fill="#00d3ff"/><rect x="250.22" y="588.40" width="0.73" height="19.85" fill="#00e7ff"/><rect x="250.83" y="588.40" width="2.65" height="19.85" fill="#0038ff"/><rect x="255.83" y="588.40" width="1.58" height="19.85" fill="#06fff9"/><rect x="257.29" y="588.40" width="1.58" height="19.85" fill="#00f5ff"/><rect x="258.75" y="588.40" width="1.37" height="19.85" fill="#00e3ff"/><rect x="260.00" y="588.40" width="1.58" height="19.85" fill="#00e9ff"/><rect x="261.46" y="588.40" width="1.58" height="19.85" fill="#00deff"/><rect x="262.92" y="588.40" width="1.58" height="19.85" fill="#00ceff"/><rect x="264.38" y="588.40" width="0.74" height="19.85" fill="#00abff"/><rect x="265.00" y="588.40" width="1.58" height="19.85" fill="#00f9ff"/><rect x="266.46" y="588.40" width="1.58" height="19.85" fill="#00edff"/><rect x="267.92" y="588.40" width="1.58" height="19.85" fill="#00dbff"/><rect x="269.38" y="588.40" width="0.74" height="19.85" fill="#00d0ff"/><rect x="270.00" y="588.40" width="1.58" height="19.85" fill="#00b5ff"/><rect x="271.46" y="588.40" width="1.58" height="19.85" fill="#0098ff"/><rect x="272.92" y="588.40" width="1.37" height="19.85" fill="#00aeff"/><rect x="274.17" y="588.40" width="1.58" height="19.85" fill="#11ffee"/><rect x="275.63" y="588.40" width="1.58" height="19.85" fill="#02fffd"/><rect x="277.09" y="588.40" width="1.37" height="19.85" fill="#00f3ff"/><rect x="280.00" y="588.40" width="2.65" height="19.85" fill="#00e5ff"/><rect x="284.17" y="588.40" width="1.58" height="19.85" fill="#00ebff"/><rect x="285.63" y="588.40" width="1.58" height="19.85" fill="#00e0ff"/><rect x="287.09" y="588.40" width="1.58" height="19.85" fill="#00f9ff"/><rect x="288.55" y="588.40" width="1.58" height="19.85" fill="#00e8ff"/><rect x="290.01" y="588.40" width="1.58" height="19.85" fill="#0afff5"/><rect x="291.47" y="588.40" width="0.32" height="19.85" fill="#07fff8"/><rect x="291.67" y="588.40" width="1.58" height="19.85" fill="#0072ff"/><rect x="293.13" y="588.40" width="1.58" height="19.85" fill="#004eff"/><rect x="294.59" y="588.40" width="1.58" height="19.85" fill="#0045ff"/><rect x="296.05" y="588.40" width="1.58" height="19.85" fill="#007dff"/><rect x="297.51" y="588.40" width="1.58" height="19.85" fill="#0075ff"/><rect x="298.97" y="588.40" width="1.58" height="19.85" fill="#006aff"/><rect x="300.43" y="588.40" width="1.36" height="19.85" fill="#0057ff"/><rect x="301.67" y="588.40" width="1.58" height="19.85" fill="#00a2ff"/><rect x="303.13" y="588.40" width="1.58" height="19.85" fill="#00c0ff"/><rect x="304.59" y="588.40" width="1.58" height="19.85" fill="#00b7ff"/><rect x="306.05" y="588.40" width="0.74" height="19.85" fill="#00b9ff"/><rect x="306.67" y="588.40" width="1.58" height="19.85" fill="#00e5ff"/><rect x="308.13" y="588.40" width="1.58" height="19.85" fill="#00edff"/><rect x="309.59" y="588.40" width="1.58" height="19.85" fill="#00c5ff"/><rect x="311.05" y="588.40" width="0.74" height="19.85" fill="#00c9ff"/><rect x="311.67" y="588.40" width="1.58" height="19.85" fill="#0009ff"/><rect x="313.13" y="588.40" width="1.58" height="19.85" fill="#0004ff"/><rect x="314.59" y="588.40" width="1.58" height="19.85" fill="#0002ff"/><rect x="316.05" y="588.40" width="1.58" height="19.85" fill="#0000c5"/><rect x="317.51" y="588.40" width="1.58" height="19.85" fill="#0000c6"/><rect x="318.97" y="588.40" width="1.58" height="19.85" fill="#0000d5"/><rect x="320.43" y="588.40" width="1.36" height="19.85" fill="#0000e0"/><rect x="321.67" y="588.40" width="1.58" height="19.85" fill="#00bbff"/><rect x="323.13" y="588.40" width="1.58" height="19.85" fill="#0096ff"/><rect x="324.59" y="588.40" width="1.58" height="19.85" fill="#00b5ff"/><rect x="326.05" y="588.40" width="0.74" height="19.85" fill="#0094ff"/><rect x="326.67" y="588.40" width="1.58" height="19.85" fill="#00d2ff"/><rect x="328.13" y="588.40" width="1.58" height="19.85" fill="#00fcff"/><rect x="329.59" y="588.40" width="1.58" height="19.85" fill="#00f3ff"/><rect x="331.05" y="588.40" width="0.74" height="19.85" fill="#00f9ff"/><rect x="331.67" y="588.40" width="1.58" height="19.85" fill="#0095ff"/><rect x="333.13" y="588.40" width="1.58" height="19.85" fill="#009dff"/><rect x="334.59" y="588.40" width="1.58" height="19.85" fill="#0089ff"/><rect x="336.05" y="588.40" width="1.58" height="19.85" fill="#0093ff"/><rect x="337.51" y="588.40" width="0.95" height="19.85" fill="#00b0ff"/><rect x="338.33" y="588.40" width="1.58" height="19.85" fill="#00f3ff"/><rect x="339.79" y="588.40" width="1.58" height="19.85" fill="#00bdff"/><rect x="341.25" y="588.40" width="1.58" height="19.85" fill="#00c0ff"/><rect x="342.71" y="588.40" width="0.74" height="19.85" fill="#00f1ff"/><rect x="343.33" y="588.40" width="1.58" height="19.85" fill="#00bbff"/><rect x="344.79" y="588.40" width="1.58" height="19.85" fill="#00c6ff"/><rect x="346.25" y="588.40" width="1.58" height="19.85" fill="#009eff"/><rect x="347.71" y="588.40" width="0.74" height="19.85" fill="#00adff"/><rect x="348.33" y="588.40" width="1.58" height="19.85" fill="#00e9ff"/><rect x="349.79" y="588.40" width="1.58" height="19.85" fill="#11ffee"/><rect x="351.25" y="588.40" width="1.58" height="19.85" fill="#00f1ff"/><rect x="352.71" y="588.40" width="0.74" height="19.85" fill="#06fff9"/><rect x="353.33" y="588.40" width="1.58" height="19.85" fill="#00e0ff"/><rect x="354.79" y="588.40" width="1.58" height="19.85" fill="#00b0ff"/><rect x="356.25" y="588.40" width="1.58" height="19.85" fill="#00c0ff"/><rect x="357.71" y="588.40" width="1.58" height="19.85" fill="#00ceff"/><rect x="359.17" y="588.40" width="0.95" height="19.85" fill="#00dbff"/><rect x="360.00" y="588.40" width="1.58" height="19.85" fill="#29ffd6"/><rect x="361.46" y="588.40" width="1.58" height="19.85" fill="#25ffda"/><rect x="362.92" y="588.40" width="1.58" height="19.85" fill="#11ffee"/><rect x="364.38" y="588.40" width="1.58" height="19.85" fill="#49ffb6"/><rect x="365.84" y="588.40" width="1.58" height="19.85" fill="#10ffef"/><rect x="367.30" y="588.40" width="1.15" height="19.85" fill="#10ffef"/><rect x="368.33" y="588.40" width="2.65" height="19.85" fill="#80ff80"/><rect x="370.83" y="588.40" width="1.82" height="19.85" fill="#00b2ff"/><rect x="372.50" y="588.40" width="1.58" height="19.85" fill="#0000b7"/><rect x="373.96" y="588.40" width="1.58" height="19.85" fill="#0000b1"/><rect x="375.42" y="588.40" width="1.58" height="19.85" fill="#0000c0"/><rect x="376.88" y="588.40" width="1.58" height="19.85" fill="#0000a4"/><rect x="378.34" y="588.40" width="1.58" height="19.85" fill="#0000c6"/><rect x="379.80" y="588.40" width="1.58" height="19.85" fill="#000094"/><rect x="381.26" y="588.40" width="1.58" height="19.85" fill="#00009e"/><rect x="382.72" y="588.40" width="1.58" height="19.85" fill="#0000be"/><rect x="384.18" y="588.40" width="1.58" height="19.85" fill="#000095"/><rect x="385.64" y="588.40" width="1.58" height="19.85" fill="#0000a4"/><rect x="387.10" y="588.40" width="1.58" height="19.85" fill="#0000c3"/><rect x="388.56" y="588.40" width="1.58" height="19.85" fill="#0000c0"/><rect x="390.02" y="588.40" width="1.58" height="19.85" fill="#0000a3"/><rect x="391.48" y="588.40" width="1.58" height="19.85" fill="#000099"/><rect x="392.94" y="588.40" width="1.58" height="19.85" fill="#0000a8"/><rect x="394.40" y="588.40" width="1.58" height="19.85" fill="#0000c3"/><rect x="395.86" y="588.40" width="1.58" height="19.85" fill="#0000a9"/><rect x="397.32" y="588.40" width="1.13" height="19.85" fill="#000097"/><rect x="398.33" y="588.40" width="1.58" height="19.85" fill="#0000f4"/><rect x="399.79" y="588.40" width="1.58" height="19.85" fill="#0000ea"/><rect x="401.25" y="588.40" width="1.58" height="19.85" fill="#0004ff"/><rect x="402.71" y="588.40" width="1.58" height="19.85" fill="#0006ff"/><rect x="404.17" y="588.40" width="1.58" height="19.85" fill="#0004ff"/><rect x="405.63" y="588.40" width="1.58" height="19.85" fill="#0000e1"/><rect x="407.09" y="588.40" width="1.58" height="19.85" fill="#0000fb"/><rect x="408.55" y="588.40" width="1.58" height="19.85" fill="#0000d8"/><rect x="410.01" y="588.40" width="1.58" height="19.85" fill="#0000d8"/><rect x="411.47" y="588.40" width="1.58" height="19.85" fill="#0000de"/><rect x="412.93" y="588.40" width="0.52" height="19.85" fill="#0006ff"/><rect x="413.33" y="588.40" width="1.58" height="19.85" fill="#00baff"/><rect x="414.79" y="588.40" width="1.58" height="19.85" fill="#008cff"/><rect x="416.25" y="588.40" width="1.58" height="19.85" fill="#0094ff"/><rect x="417.71" y="588.40" width="1.58" height="19.85" fill="#0095ff"/><rect x="419.17" y="588.40" width="0.95" height="19.85" fill="#0094ff"/><rect x="420.00" y="588.40" width="1.58" height="19.85" fill="#00caff"/><rect x="421.46" y="588.40" width="1.58" height="19.85" fill="#00c9ff"/><rect x="422.92" y="588.40" width="1.58" height="19.85" fill="#00bbff"/><rect x="424.38" y="588.40" width="1.58" height="19.85" fill="#00d6ff"/><rect x="425.84" y="588.40" width="1.58" height="19.85" fill="#00e6ff"/><rect x="427.30" y="588.40" width="1.58" height="19.85" fill="#00d4ff"/><rect x="428.76" y="588.40" width="1.36" height="19.85" fill="#00e9ff"/><rect x="430.00" y="588.40" width="1.58" height="19.85" fill="#0051ff"/><rect x="431.46" y="588.40" width="1.58" height="19.85" fill="#0035ff"/><rect x="432.92" y="588.40" width="0.53" height="19.85" fill="#005fff"/><rect x="433.33" y="588.40" width="1.58" height="19.85" fill="#20ffdf"/><rect x="434.79" y="588.40" width="1.58" height="19.85" fill="#00f4ff"/><rect x="436.25" y="588.40" width="1.58" height="19.85" fill="#00e2ff"/><rect x="437.71" y="588.40" width="1.57" height="19.85" fill="#06fff9"/><rect x="441.67" y="588.40" width="1.58" height="19.85" fill="#b6ff49"/><rect x="443.13" y="588.40" width="1.58" height="19.85" fill="#b7ff48"/><rect x="444.59" y="588.40" width="1.58" height="19.85" fill="#d4ff2b"/><rect x="446.05" y="588.40" width="1.57" height="19.85" fill="#bdff42"/><rect x="456.67" y="588.40" width="1.82" height="19.85" fill="#ffe500"/><rect x="440.00" y="588.40" width="2.65" height="19.85" fill="#05fffa"/><rect x="442.50" y="588.40" width="1.58" height="19.85" fill="#c8ff37"/><rect x="443.96" y="588.40" width="1.58" height="19.85" fill="#93ff6c"/><rect x="445.42" y="588.40" width="1.58" height="19.85" fill="#b6ff49"/><rect x="446.88" y="588.40" width="0.74" height="19.85" fill="#c7ff38"/><rect x="455.83" y="588.40" width="1.82" height="19.85" fill="#faff05"/><rect x="460.00" y="588.40" width="1.58" height="19.85" fill="#95ff6a"/><rect x="461.46" y="588.40" width="1.58" height="19.85" fill="#95ff6a"/><rect x="462.92" y="588.40" width="1.37" height="19.85" fill="#c3ff3c"/><rect x="465.00" y="588.40" width="2.65" height="19.85" fill="#05fffa"/><rect x="470.00" y="588.40" width="2.65" height="19.85" fill="#05fffa"/><rect x="476.67" y="588.40" width="2.65" height="19.85" fill="#1affe5"/><rect x="482.50" y="588.40" width="1.82" height="19.85" fill="#800000"/><rect x="485.83" y="588.40" width="1.58" height="19.85" fill="#0dfff2"/><rect x="487.29" y="588.40" width="1.58" height="19.85" fill="#00d2ff"/><rect x="488.75" y="588.40" width="1.58" height="19.85" fill="#00f9ff"/><rect x="490.21" y="588.40" width="1.58" height="19.85" fill="#00d6ff"/><rect x="491.67" y="588.40" width="1.58" height="19.85" fill="#02fffd"/><rect x="493.13" y="588.40" width="1.58" height="19.85" fill="#00faff"/><rect x="494.59" y="588.40" width="1.36" height="19.85" fill="#00deff"/><rect x="520.00" y="588.40" width="1.58" height="19.85" fill="#0006ff"/><rect x="521.46" y="588.40" width="1.58" height="19.85" fill="#002cff"/><rect x="522.92" y="588.40" width="1.58" height="19.85" fill="#001bff"/><rect x="524.38" y="588.40" width="1.58" height="19.85" fill="#002cff"/><rect x="525.84" y="588.40" width="0.95" height="19.85" fill="#0012ff"/><rect x="534.17" y="588.40" width="1.82" height="19.85" fill="#05fffa"/><rect x="63.00" y="608.00" width="1.58" height="19.95" fill="#41ffbe"/><rect x="64.46" y="608.00" width="1.58" height="19.95" fill="#6eff91"/><rect x="65.92" y="608.00" width="1.58" height="19.95" fill="#59ffa6"/><rect x="67.38" y="608.00" width="0.74" height="19.95" fill="#4cffb3"/><rect x="68.00" y="608.00" width="2.65" height="19.95" fill="#80ff80"/><rect x="70.50" y="608.00" width="2.65" height="19.95" fill="#b3ff4c"/><rect x="73.00" y="608.00" width="1.58" height="19.95" fill="#4fffb0"/><rect x="74.46" y="608.00" width="1.58" height="19.95" fill="#5cffa3"/><rect x="75.92" y="608.00" width="0.53" height="19.95" fill="#5bffa4"/><rect x="76.33" y="608.00" width="1.82" height="19.95" fill="#80ff80"/><rect x="78.00" y="608.00" width="1.82" height="19.95" fill="#2effd1"/><rect x="79.67" y="608.00" width="2.65" height="19.95" fill="#d1ff2e"/><rect x="82.17" y="608.00" width="1.58" height="19.95" fill="#6aff95"/><rect x="83.63" y="608.00" width="1.58" height="19.95" fill="#46ffb9"/><rect x="85.09" y="608.00" width="1.37" height="19.95" fill="#64ff9b"/><rect x="86.33" y="608.00" width="1.58" height="19.95" fill="#8bff74"/><rect x="87.79" y="608.00" width="1.58" height="19.95" fill="#99ff66"/><rect x="89.25" y="608.00" width="1.37" height="19.95" fill="#95ff6a"/><rect x="90.50" y="608.00" width="2.65" height="19.95" fill="#2effd1"/><rect x="93.00" y="608.00" width="1.58" height="19.95" fill="#1dffe2"/><rect x="94.46" y="608.00" width="1.58" height="19.95" fill="#21ffde"/><rect x="95.92" y="608.00" width="1.37" height="19.95" fill="#26ffd9"/><rect x="97.17" y="608.00" width="1.32" height="19.95" fill="#800000"/><rect x="98.33" y="608.00" width="1.58" height="19.95" fill="#0ffff0"/><rect x="99.79" y="608.00" width="1.58" height="19.95" fill="#07fff8"/><rect x="101.25" y="608.00" width="1.58" height="19.95" fill="#14ffeb"/><rect x="102.71" y="608.00" width="1.24" height="19.95" fill="#1bffe4"/><rect x="103.83" y="608.00" width="2.98" height="19.95" fill="#00e5ff"/><rect x="106.67" y="608.00" width="3.15" height="19.95" fill="#05fffa"/><rect x="109.67" y="608.00" width="1.58" height="19.95" fill="#47ffb8"/><rect x="111.13" y="608.00" width="1.58" height="19.95" fill="#47ffb8"/><rect x="112.59" y="608.00" width="0.53" height="19.95" fill="#33ffcc"/><rect x="113.00" y="608.00" width="1.58" height="19.95" fill="#7cff83"/><rect x="114.46" y="608.00" width="1.58" height="19.95" fill="#8eff71"/><rect x="115.92" y="608.00" width="1.58" height="19.95" fill="#62ff9d"/><rect x="117.38" y="608.00" width="1.58" height="19.95" fill="#53ffac"/><rect x="118.84" y="608.00" width="1.58" height="19.95" fill="#56ffa9"/><rect x="120.30" y="608.00" width="1.15" height="19.95" fill="#66ff99"/><rect x="121.33" y="608.00" width="1.58" height="19.95" fill="#3effc1"/><rect x="122.79" y="608.00" width="1.58" height="19.95" fill="#6eff91"/><rect x="124.25" y="608.00" width="1.58" height="19.95" fill="#2dffd2"/><rect x="125.71" y="608.00" width="1.58" height="19.95" fill="#3fffc0"/><rect x="127.17" y="608.00" width="0.95" height="19.95" fill="#31ffce"/><rect x="128.00" y="608.00" width="1.58" height="19.95" fill="#38ffc7"/><rect x="129.46" y="608.00" width="1.58" height="19.95" fill="#42ffbd"/><rect x="130.92" y="608.00" width="1.58" height="19.95" fill="#17ffe8"/><rect x="132.38" y="608.00" width="0.74" height="19.95" fill="#0ffff0"/><rect x="133.00" y="608.00" width="1.58" height="19.95" fill="#7dff82"/><rect x="134.46" y="608.00" width="1.58" height="19.95" fill="#86ff79"/><rect x="135.92" y="608.00" width="1.58" height="19.95" fill="#9dff62"/><rect x="137.38" y="608.00" width="1.58" height="19.95" fill="#5effa1"/><rect x="138.84" y="608.00" width="1.58" height="19.95" fill="#64ff9b"/><rect x="140.30" y="608.00" width="1.15" height="19.95" fill="#69ff96"/><rect x="141.33" y="608.00" width="1.58" height="19.95" fill="#38ffc7"/><rect x="142.79" y="608.00" width="1.58" height="19.95" fill="#3affc5"/><rect x="144.25" y="608.00" width="0.53" height="19.95" fill="#5cffa3"/><rect x="144.67" y="608.00" width="1.82" height="19.95" fill="#05fffa"/><rect x="146.33" y="608.00" width="1.82" height="19.95" fill="#4dffb2"/><rect x="148.00" y="608.00" width="1.82" height="19.95" fill="#800000"/><rect x="149.67" y="608.00" width="1.58" height="19.95" fill="#53ffac"/><rect x="151.13" y="608.00" width="1.58" height="19.95" fill="#39ffc6"/><rect x="152.59" y="608.00" width="1.58" height="19.95" fill="#36ffc9"/><rect x="154.05" y="608.00" width="1.57" height="19.95" fill="#3dffc2"/><rect x="155.50" y="608.00" width="2.65" height="19.95" fill="#b3ff4c"/><rect x="198.00" y="608.00" width="1.58" height="19.95" fill="#970000"/><rect x="199.46" y="608.00" width="1.58" height="19.95" fill="#800000"/><rect x="200.92" y="608.00" width="1.20" height="19.95" fill="#8d0000"/><rect x="205.83" y="608.00" width="1.32" height="19.95" fill="#e5ff1a"/><rect x="207.00" y="608.00" width="2.82" height="19.95" fill="#9e0000"/><rect x="209.67" y="608.00" width="1.58" height="19.95" fill="#31ffce"/><rect x="211.13" y="608.00" width="1.58" height="19.95" fill="#45ffba"/><rect x="212.59" y="608.00" width="1.58" height="19.95" fill="#2cffd3"/><rect x="214.05" y="608.00" width="1.58" height="19.95" fill="#1dffe2"/><rect x="215.51" y="608.00" width="1.28" height="19.95" fill="#4affb5"/><rect x="216.67" y="608.00" width="2.65" height="19.95" fill="#e5ff1a"/><rect x="219.17" y="608.00" width="1.58" height="19.95" fill="#9dff62"/><rect x="220.63" y="608.00" width="1.58" height="19.95" fill="#74ff8b"/><rect x="222.09" y="608.00" width="1.58" height="19.95" fill="#83ff7c"/><rect x="223.55" y="608.00" width="1.58" height="19.95" fill="#a0ff5f"/><rect x="225.01" y="608.00" width="1.58" height="19.95" fill="#7eff81"/><rect x="226.47" y="608.00" width="1.58" height="19.95" fill="#6cff93"/><rect x="227.93" y="608.00" width="1.58" height="19.95" fill="#5fffa0"/><rect x="229.39" y="608.00" width="1.58" height="19.95" fill="#9fff60"/><rect x="230.85" y="608.00" width="1.58" height="19.95" fill="#95ff6a"/><rect x="232.31" y="608.00" width="0.31" height="19.95" fill="#77ff88"/><rect x="232.50" y="608.00" width="1.82" height="19.95" fill="#940000"/><rect x="234.17" y="608.00" width="1.82" height="19.95" fill="#00b2ff"/><rect x="235.83" y="608.00" width="1.58" height="19.95" fill="#00d3ff"/><rect x="237.29" y="608.00" width="1.58" height="19.95" fill="#00d2ff"/><rect x="238.75" y="608.00" width="1.37" height="19.95" fill="#00c1ff"/><rect x="240.00" y="608.00" width="1.58" height="19.95" fill="#70ff8f"/><rect x="241.46" y="608.00" width="1.58" height="19.95" fill="#58ffa7"/><rect x="242.92" y="608.00" width="1.58" height="19.95" fill="#3affc5"/><rect x="244.38" y="608.00" width="1.58" height="19.95" fill="#2affd5"/><rect x="245.84" y="608.00" width="1.58" height="19.95" fill="#4bffb4"/><rect x="247.30" y="608.00" width="1.58" height="19.95" fill="#43ffbc"/><rect x="248.76" y="608.00" width="1.58" height="19.95" fill="#62ff9d"/><rect x="250.22" y="608.00" width="1.58" height="19.95" fill="#5cffa3"/><rect x="251.68" y="608.00" width="0.94" height="19.95" fill="#54ffab"/><rect x="252.50" y="608.00" width="1.58" height="19.95" fill="#ac0000"/><rect x="253.96" y="608.00" width="1.58" height="19.95" fill="#ac0000"/><rect x="255.42" y="608.00" width="0.53" height="19.95" fill="#a10000"/><rect x="255.83" y="608.00" width="1.58" height="19.95" fill="#08fff7"/><rect x="257.29" y="608.00" width="1.58" height="19.95" fill="#34ffcb"/><rect x="258.75" y="608.00" width="1.37" height="19.95" fill="#1bffe4"/><rect x="260.00" y="608.00" width="1.58" height="19.95" fill="#38ffc7"/><rect x="261.46" y="608.00" width="1.58" height="19.95" fill="#51ffae"/><rect x="262.92" y="608.00" width="1.58" height="19.95" fill="#1dffe2"/><rect x="264.38" y="608.00" width="1.58" height="19.95" fill="#30ffcf"/><rect x="265.84" y="608.00" width="1.58" height="19.95" fill="#15ffea"/><rect x="267.30" y="608.00" width="1.58" height="19.95" fill="#41ffbe"/><rect x="268.76" y="608.00" width="1.58" height="19.95" fill="#0afff5"/><rect x="270.22" y="608.00" width="1.58" height="19.95" fill="#45ffba"/><rect x="271.68" y="608.00" width="1.58" height="19.95" fill="#47ffb8"/><rect x="273.14" y="608.00" width="1.58" height="19.95" fill="#45ffba"/><rect x="274.60" y="608.00" width="1.35" height="19.95" fill="#10ffef"/><rect x="275.83" y="608.00" width="1.82" height="19.95" fill="#e5ff1a"/><rect x="277.50" y="608.00" width="0.98" height="19.95" fill="#4dffb2"/><rect x="284.17" y="608.00" width="1.82" height="19.95" fill="#ffb300"/><rect x="285.83" y="608.00" width="1.58" height="19.95" fill="#1dffe2"/><rect x="287.29" y="608.00" width="1.58" height="19.95" fill="#3dffc2"/><rect x="288.75" y="608.00" width="1.58" height="19.95" fill="#11ffee"/><rect x="290.21" y="608.00" width="1.58" height="19.95" fill="#2cffd3"/><rect x="291.67" y="608.00" width="1.58" height="19.95" fill="#2cffd3"/><rect x="293.13" y="608.00" width="0.32" height="19.95" fill="#4effb1"/><rect x="293.33" y="608.00" width="1.58" height="19.95" fill="#67ff98"/><rect x="294.79" y="608.00" width="1.58" height="19.95" fill="#7aff85"/><rect x="296.25" y="608.00" width="1.58" height="19.95" fill="#53ffac"/><rect x="297.71" y="608.00" width="0.74" height="19.95" fill="#76ff89"/><rect x="298.33" y="608.00" width="1.58" height="19.95" fill="#1effe1"/><rect x="299.79" y="608.00" width="1.58" height="19.95" fill="#41ffbe"/><rect x="301.25" y="608.00" width="1.58" height="19.95" fill="#06fff9"/><rect x="302.71" y="608.00" width="1.58" height="19.95" fill="#3bffc4"/><rect x="304.17" y="608.00" width="1.58" height="19.95" fill="#0ffff0"/><rect x="305.63" y="608.00" width="1.58" height="19.95" fill="#27ffd8"/><rect x="307.09" y="608.00" width="1.58" height="19.95" fill="#26ffd9"/><rect x="308.55" y="608.00" width="1.57" height="19.95" fill="#0bfff4"/><rect x="310.00" y="608.00" width="1.58" height="19.95" fill="#64ff9b"/><rect x="311.46" y="608.00" width="1.58" height="19.95" fill="#3fffc0"/><rect x="312.92" y="608.00" width="1.58" height="19.95" fill="#3fffc0"/><rect x="314.38" y="608.00" width="1.58" height="19.95" fill="#2effd1"/><rect x="315.84" y="608.00" width="0.95" height="19.95" fill="#3fffc0"/><rect x="316.67" y="608.00" width="1.58" height="19.95" fill="#17ffe8"/><rect x="318.13" y="608.00" width="1.58" height="19.95" fill="#29ffd6"/><rect x="319.59" y="608.00" width="1.58" height="19.95" fill="#0ffff0"/><rect x="321.05" y="608.00" width="1.58" height="19.95" fill="#27ffd8"/><rect x="322.51" y="608.00" width="1.58" height="19.95" fill="#00fcff"/><rect x="323.97" y="608.00" width="1.58" height="19.95" fill="#12ffed"/><rect x="325.43" y="608.00" width="1.36" height="19.95" fill="#17ffe8"/><rect x="326.67" y="608.00" width="1.58" height="19.95" fill="#78ff87"/><rect x="328.13" y="608.00" width="1.58" height="19.95" fill="#6eff91"/><rect x="329.59" y="608.00" width="1.58" height="19.95" fill="#62ff9d"/><rect x="331.05" y="608.00" width="1.58" height="19.95" fill="#34ffcb"/><rect x="332.51" y="608.00" width="1.58" height="19.95" fill="#4effb1"/><rect x="333.97" y="608.00" width="1.15" height="19.95" fill="#66ff99"/><rect x="335.00" y="608.00" width="1.58" height="19.95" fill="#11ffee"/><rect x="336.46" y="608.00" width="1.58" height="19.95" fill="#28ffd7"/><rect x="337.92" y="608.00" width="1.58" height="19.95" fill="#21ffde"/><rect x="339.38" y="608.00" width="1.58" height="19.95" fill="#01fffe"/><rect x="340.84" y="608.00" width="1.58" height="19.95" fill="#47ffb8"/><rect x="342.30" y="608.00" width="1.58" height="19.95" fill="#39ffc6"/><rect x="343.76" y="608.00" width="1.58" height="19.95" fill="#0ffff0"/><rect x="345.22" y="608.00" width="1.57" height="19.95" fill="#2cffd3"/><rect x="346.67" y="608.00" width="1.58" height="19.95" fill="#33ffcc"/><rect x="348.13" y="608.00" width="1.58" height="19.95" fill="#39ffc6"/><rect x="349.59" y="608.00" width="1.58" height="19.95" fill="#45ffba"/><rect x="351.05" y="608.00" width="1.58" height="19.95" fill="#34ffcb"/><rect x="352.51" y="608.00" width="1.58" height="19.95" fill="#37ffc8"/><rect x="353.97" y="608.00" width="1.58" height="19.95" fill="#3bffc4"/><rect x="355.43" y="608.00" width="1.58" height="19.95" fill="#4effb1"/><rect x="356.89" y="608.00" width="1.58" height="19.95" fill="#31ffce"/><rect x="358.35" y="608.00" width="1.58" height="19.95" fill="#2dffd2"/><rect x="359.81" y="608.00" width="0.31" height="19.95" fill="#53ffac"/><rect x="360.00" y="608.00" width="1.58" height="19.95" fill="#00eeff"/><rect x="361.46" y="608.00" width="1.58" height="19.95" fill="#1bffe4"/><rect x="362.92" y="608.00" width="1.58" height="19.95" fill="#00feff"/><rect x="364.38" y="608.00" width="1.58" height="19.95" fill="#0bfff4"/><rect x="365.84" y="608.00" width="1.58" height="19.95" fill="#00eeff"/><rect x="367.30" y="608.00" width="1.58" height="19.95" fill="#12ffed"/><rect x="368.76" y="608.00" width="1.58" height="19.95" fill="#00ddff"/><rect x="370.22" y="608.00" width="1.58" height="19.95" fill="#00e0ff"/><rect x="371.68" y="608.00" width="1.58" height="19.95" fill="#00ddff"/><rect x="373.14" y="608.00" width="1.58" height="19.95" fill="#08fff7"/><rect x="374.60" y="608.00" width="1.58" height="19.95" fill="#0afff5"/><rect x="376.06" y="608.00" width="1.58" height="19.95" fill="#00e3ff"/><rect x="377.52" y="608.00" width="1.58" height="19.95" fill="#00f3ff"/><rect x="378.98" y="608.00" width="1.58" height="19.95" fill="#13ffec"/><rect x="380.44" y="608.00" width="1.58" height="19.95" fill="#02fffd"/><rect x="381.90" y="608.00" width="1.58" height="19.95" fill="#00ddff"/><rect x="383.36" y="608.00" width="1.58" height="19.95" fill="#00e6ff"/><rect x="384.82" y="608.00" width="0.30" height="19.95" fill="#00e1ff"/><rect x="385.00" y="608.00" width="1.58" height="19.95" fill="#0098ff"/><rect x="386.46" y="608.00" width="1.58" height="19.95" fill="#00acff"/><rect x="387.92" y="608.00" width="0.53" height="19.95" fill="#0094ff"/><rect x="388.33" y="608.00" width="1.58" height="19.95" fill="#19ffe6"/><rect x="389.79" y="608.00" width="1.58" height="19.95" fill="#00f5ff"/><rect x="391.25" y="608.00" width="1.58" height="19.95" fill="#00fbff"/><rect x="392.71" y="608.00" width="1.58" height="19.95" fill="#05fffa"/><rect x="394.17" y="608.00" width="1.58" height="19.95" fill="#0efff1"/><rect x="395.63" y="608.00" width="1.58" height="19.95" fill="#12ffed"/><rect x="397.09" y="608.00" width="1.58" height="19.95" fill="#00f2ff"/><rect x="398.55" y="608.00" width="1.58" height="19.95" fill="#00eeff"/><rect x="400.01" y="608.00" width="1.58" height="19.95" fill="#00f4ff"/><rect x="401.47" y="608.00" width="0.31" height="19.95" fill="#00d7ff"/><rect x="401.67" y="608.00" width="1.58" height="19.95" fill="#00abff"/><rect x="403.13" y="608.00" width="1.58" height="19.95" fill="#00c1ff"/><rect x="404.59" y="608.00" width="1.58" height="19.95" fill="#00d5ff"/><rect x="406.05" y="608.00" width="1.58" height="19.95" fill="#00c7ff"/><rect x="407.51" y="608.00" width="0.95" height="19.95" fill="#00beff"/><rect x="408.33" y="608.00" width="1.58" height="19.95" fill="#0dfff2"/><rect x="409.79" y="608.00" width="1.58" height="19.95" fill="#00e2ff"/><rect x="411.25" y="608.00" width="1.58" height="19.95" fill="#00f8ff"/><rect x="412.71" y="608.00" width="1.58" height="19.95" fill="#00f9ff"/><rect x="414.17" y="608.00" width="0.95" height="19.95" fill="#10ffef"/><rect x="415.00" y="608.00" width="1.82" height="19.95" fill="#00b2ff"/><rect x="416.67" y="608.00" width="1.58" height="19.95" fill="#00e8ff"/><rect x="418.13" y="608.00" width="1.58" height="19.95" fill="#00fbff"/><rect x="419.59" y="608.00" width="1.58" height="19.95" fill="#06fff9"/><rect x="421.05" y="608.00" width="1.58" height="19.95" fill="#1affe5"/><rect x="422.51" y="608.00" width="1.58" height="19.95" fill="#1cffe3"/><rect x="423.97" y="608.00" width="1.58" height="19.95" fill="#0dfff2"/><rect x="425.43" y="608.00" width="1.58" height="19.95" fill="#00ecff"/><rect x="426.89" y="608.00" width="1.58" height="19.95" fill="#18ffe7"/><rect x="428.35" y="608.00" width="1.58" height="19.95" fill="#22ffdd"/><rect x="429.81" y="608.00" width="1.58" height="19.95" fill="#09fff6"/><rect x="431.27" y="608.00" width="1.58" height="19.95" fill="#00faff"/><rect x="432.73" y="608.00" width="1.58" height="19.95" fill="#05fffa"/><rect x="434.19" y="608.00" width="1.58" height="19.95" fill="#00ebff"/><rect x="435.65" y="608.00" width="1.58" height="19.95" fill="#14ffeb"/><rect x="437.11" y="608.00" width="1.35" height="19.95" fill="#28ffd7"/><rect x="438.33" y="608.00" width="1.82" height="19.95" fill="#800000"/><rect x="440.00" y="608.00" width="1.82" height="19.95" fill="#004dff"/><rect x="441.67" y="608.00" width="1.58" height="19.95" fill="#4effb1"/><rect x="443.13" y="608.00" width="1.58" height="19.95" fill="#5cffa3"/><rect x="444.59" y="608.00" width="1.58" height="19.95" fill="#64ff9b"/><rect x="446.05" y="608.00" width="1.58" height="19.95" fill="#37ffc8"/><rect x="447.51" y="608.00" width="0.95" height="19.95" fill="#6cff93"/><rect x="448.33" y="608.00" width="2.65" height="19.95" fill="#ff6100"/><rect x="450.83" y="608.00" width="1.58" height="19.95" fill="#800000"/><rect x="452.29" y="608.00" width="1.58" height="19.95" fill="#950000"/><rect x="453.75" y="608.00" width="1.58" height="19.95" fill="#9d0000"/><rect x="455.21" y="608.00" width="0.74" height="19.95" fill="#920000"/><rect x="455.83" y="608.00" width="1.82" height="19.95" fill="#004dff"/><rect x="457.50" y="608.00" width="2.65" height="19.95" fill="#800000"/><rect x="440.00" y="608.00" width="1.82" height="19.95" fill="#05fffa"/><rect x="441.67" y="608.00" width="0.98" height="19.95" fill="#800000"/><rect x="442.50" y="608.00" width="1.58" height="19.95" fill="#52ffad"/><rect x="443.96" y="608.00" width="1.58" height="19.95" fill="#5bffa4"/><rect x="445.42" y="608.00" width="1.58" height="19.95" fill="#40ffbf"/><rect x="446.88" y="608.00" width="0.74" height="19.95" fill="#6bff94"/><rect x="450.00" y="608.00" width="1.58" height="19.95" fill="#890000"/><rect x="451.46" y="608.00" width="1.58" height="19.95" fill="#820000"/><rect x="452.92" y="608.00" width="1.58" height="19.95" fill="#9a0000"/><rect x="454.38" y="608.00" width="1.57" height="19.95" fill="#800000"/><rect x="455.83" y="608.00" width="1.82" height="19.95" fill="#004dff"/><rect x="457.50" y="608.00" width="2.65" height="19.95" fill="#800000"/><rect x="460.00" y="608.00" width="1.58" height="19.95" fill="#00feff"/><rect x="461.46" y="608.00" width="1.58" height="19.95" fill="#36ffc9"/><rect x="462.92" y="608.00" width="1.58" height="19.95" fill="#1dffe2"/><rect x="464.38" y="608.00" width="0.74" height="19.95" fill="#1effe1"/><rect x="465.00" y="608.00" width="2.65" height="19.95" fill="#80ff80"/><rect x="472.50" y="608.00" width="2.65" height="19.95" fill="#800000"/><rect x="475.00" y="608.00" width="2.65" height="19.95" fill="#b3ff4c"/><rect x="484.17" y="608.00" width="1.82" height="19.95" fill="#800000"/><rect x="485.83" y="608.00" width="1.58" height="19.95" fill="#32ffcd"/><rect x="487.29" y="608.00" width="1.58" height="19.95" fill="#1dffe2"/><rect x="488.75" y="608.00" width="1.58" height="19.95" fill="#4bffb4"/><rect x="490.21" y="608.00" width="1.58" height="19.95" fill="#51ffae"/><rect x="491.67" y="608.00" width="1.58" height="19.95" fill="#45ffba"/><rect x="493.13" y="608.00" width="1.58" height="19.95" fill="#35ffca"/><rect x="494.59" y="608.00" width="1.36" height="19.95" fill="#13ffec"/><rect x="495.83" y="608.00" width="1.82" height="19.95" fill="#800000"/><rect x="504.17" y="608.00" width="1.58" height="19.95" fill="#800000"/><rect x="505.63" y="608.00" width="1.58" height="19.95" fill="#8f0000"/><rect x="507.09" y="608.00" width="1.37" height="19.95" fill="#800000"/><rect x="508.33" y="608.00" width="2.65" height="19.95" fill="#e5ff1a"/><rect x="510.83" y="608.00" width="2.65" height="19.95" fill="#800000"/><rect x="515.83" y="608.00" width="1.82" height="19.95" fill="#800000"/><rect x="520.00" y="608.00" width="1.58" height="19.95" fill="#3affc5"/><rect x="521.46" y="608.00" width="1.58" height="19.95" fill="#52ffad"/><rect x="522.92" y="608.00" width="1.58" height="19.95" fill="#64ff9b"/><rect x="524.38" y="608.00" width="1.58" height="19.95" fill="#36ffc9"/><rect x="525.84" y="608.00" width="1.58" height="19.95" fill="#50ffaf"/><rect x="527.30" y="608.00" width="1.58" height="19.95" fill="#2effd1"/><rect x="528.76" y="608.00" width="1.58" height="19.95" fill="#2bffd4"/><rect x="530.22" y="608.00" width="0.73" height="19.95" fill="#36ffc9"/><rect x="530.83" y="608.00" width="1.82" height="19.95" fill="#800000"/><rect x="534.17" y="608.00" width="1.82" height="19.95" fill="#e5ff1a"/><rect x="63.00" y="627.70" width="2.65" height="19.85" fill="#00b2ff"/><rect x="65.50" y="627.70" width="1.58" height="19.85" fill="#09fff6"/><rect x="66.96" y="627.70" width="1.58" height="19.85" fill="#06fff9"/><rect x="68.42" y="627.70" width="1.37" height="19.85" fill="#00f1ff"/><rect x="69.67" y="627.70" width="1.58" height="19.85" fill="#0072ff"/><rect x="71.13" y="627.70" width="1.58" height="19.85" fill="#008cff"/><rect x="72.59" y="627.70" width="0.53" height="19.85" fill="#0090ff"/><rect x="73.00" y="627.70" width="1.58" height="19.85" fill="#00ddff"/><rect x="74.46" y="627.70" width="1.58" height="19.85" fill="#00ecff"/><rect x="75.92" y="627.70" width="1.58" height="19.85" fill="#00fbff"/><rect x="77.38" y="627.70" width="0.74" height="19.85" fill="#00c3ff"/><rect x="78.00" y="627.70" width="1.58" height="19.85" fill="#009dff"/><rect x="79.46" y="627.70" width="1.58" height="19.85" fill="#00b0ff"/><rect x="80.92" y="627.70" width="0.53" height="19.85" fill="#0099ff"/><rect x="81.33" y="627.70" width="1.58" height="19.85" fill="#00ddff"/><rect x="82.79" y="627.70" width="1.58" height="19.85" fill="#00eaff"/><rect x="84.25" y="627.70" width="1.58" height="19.85" fill="#00ceff"/><rect x="85.71" y="627.70" width="0.74" height="19.85" fill="#00e7ff"/><rect x="86.33" y="627.70" width="1.58" height="19.85" fill="#006fff"/><rect x="87.79" y="627.70" width="1.58" height="19.85" fill="#0084ff"/><rect x="89.25" y="627.70" width="1.37" height="19.85" fill="#0074ff"/><rect x="90.50" y="627.70" width="1.58" height="19.85" fill="#00f0ff"/><rect x="91.96" y="627.70" width="1.58" height="19.85" fill="#00c5ff"/><rect x="93.42" y="627.70" width="0.53" height="19.85" fill="#00f2ff"/><rect x="93.83" y="627.70" width="2.65" height="19.85" fill="#004dff"/><rect x="98.00" y="627.70" width="1.58" height="19.85" fill="#0000ff"/><rect x="99.46" y="627.70" width="1.58" height="19.85" fill="#003aff"/><rect x="100.92" y="627.70" width="1.58" height="19.85" fill="#0021ff"/><rect x="102.38" y="627.70" width="0.74" height="19.85" fill="#0017ff"/><rect x="103.00" y="627.70" width="1.58" height="19.85" fill="#00acff"/><rect x="104.46" y="627.70" width="1.58" height="19.85" fill="#00bbff"/><rect x="105.92" y="627.70" width="0.87" height="19.85" fill="#00c0ff"/><rect x="108.83" y="627.70" width="1.58" height="19.85" fill="#000dff"/><rect x="110.29" y="627.70" width="1.58" height="19.85" fill="#000dff"/><rect x="111.75" y="627.70" width="1.37" height="19.85" fill="#0000f9"/><rect x="113.00" y="627.70" width="1.58" height="19.85" fill="#0afff5"/><rect x="114.46" y="627.70" width="1.58" height="19.85" fill="#00feff"/><rect x="115.92" y="627.70" width="1.58" height="19.85" fill="#00ffff"/><rect x="117.38" y="627.70" width="1.58" height="19.85" fill="#00dfff"/><rect x="118.84" y="627.70" width="0.95" height="19.85" fill="#00e1ff"/><rect x="119.67" y="627.70" width="1.58" height="19.85" fill="#51ffae"/><rect x="121.13" y="627.70" width="1.58" height="19.85" fill="#69ff96"/><rect x="122.59" y="627.70" width="1.58" height="19.85" fill="#4effb1"/><rect x="124.05" y="627.70" width="1.58" height="19.85" fill="#4effb1"/><rect x="125.51" y="627.70" width="0.95" height="19.85" fill="#48ffb7"/><rect x="126.33" y="627.70" width="1.58" height="19.85" fill="#9cff63"/><rect x="127.79" y="627.70" width="1.58" height="19.85" fill="#73ff8c"/><rect x="129.25" y="627.70" width="1.58" height="19.85" fill="#60ff9f"/><rect x="130.71" y="627.70" width="1.58" height="19.85" fill="#90ff6f"/><rect x="132.17" y="627.70" width="0.95" height="19.85" fill="#9cff63"/><rect x="133.00" y="627.70" width="1.58" height="19.85" fill="#c3ff3c"/><rect x="134.46" y="627.70" width="1.58" height="19.85" fill="#b9ff46"/><rect x="135.92" y="627.70" width="1.58" height="19.85" fill="#c4ff3b"/><rect x="137.38" y="627.70" width="1.58" height="19.85" fill="#a5ff5a"/><rect x="138.84" y="627.70" width="1.58" height="19.85" fill="#b9ff46"/><rect x="140.30" y="627.70" width="1.15" height="19.85" fill="#94ff6b"/><rect x="141.33" y="627.70" width="1.58" height="19.85" fill="#65ff9a"/><rect x="142.79" y="627.70" width="1.58" height="19.85" fill="#7cff83"/><rect x="144.25" y="627.70" width="1.58" height="19.85" fill="#80ff7f"/><rect x="145.71" y="627.70" width="0.74" height="19.85" fill="#78ff87"/><rect x="149.67" y="627.70" width="1.58" height="19.85" fill="#00f9ff"/><rect x="151.13" y="627.70" width="1.58" height="19.85" fill="#27ffd8"/><rect x="152.59" y="627.70" width="1.58" height="19.85" fill="#1bffe4"/><rect x="154.05" y="627.70" width="1.58" height="19.85" fill="#07fff8"/><rect x="155.51" y="627.70" width="0.95" height="19.85" fill="#0cfff3"/><rect x="156.33" y="627.70" width="1.82" height="19.85" fill="#00b2ff"/><rect x="209.17" y="627.70" width="1.32" height="19.85" fill="#00e5ff"/><rect x="213.33" y="627.70" width="1.48" height="19.85" fill="#001aff"/><rect x="220.83" y="627.70" width="1.58" height="19.85" fill="#0059ff"/><rect x="222.29" y="627.70" width="1.58" height="19.85" fill="#004eff"/><rect x="223.75" y="627.70" width="1.58" height="19.85" fill="#0042ff"/><rect x="225.21" y="627.70" width="1.57" height="19.85" fill="#007eff"/><rect x="226.67" y="627.70" width="1.58" height="19.85" fill="#00d4ff"/><rect x="228.13" y="627.70" width="1.58" height="19.85" fill="#00beff"/><rect x="229.59" y="627.70" width="1.58" height="19.85" fill="#00cdff"/><rect x="231.05" y="627.70" width="0.74" height="19.85" fill="#00adff"/><rect x="235.83" y="627.70" width="1.58" height="19.85" fill="#0011ff"/><rect x="237.29" y="627.70" width="1.58" height="19.85" fill="#0000e6"/><rect x="238.75" y="627.70" width="1.58" height="19.85" fill="#000dff"/><rect x="240.21" y="627.70" width="1.58" height="19.85" fill="#0000ff"/><rect x="241.67" y="627.70" width="1.58" height="19.85" fill="#0018ff"/><rect x="243.13" y="627.70" width="1.58" height="19.85" fill="#0000dd"/><rect x="244.59" y="627.70" width="1.58" height="19.85" fill="#0010ff"/><rect x="246.05" y="627.70" width="1.58" height="19.85" fill="#0000df"/><rect x="247.51" y="627.70" width="1.58" height="19.85" fill="#0000fd"/><rect x="248.97" y="627.70" width="1.58" height="19.85" fill="#001bff"/><rect x="250.43" y="627.70" width="0.52" height="19.85" fill="#0000d6"/><rect x="250.83" y="627.70" width="2.65" height="19.85" fill="#00e5ff"/><rect x="255.83" y="627.70" width="1.58" height="19.85" fill="#0007ff"/><rect x="257.29" y="627.70" width="1.58" height="19.85" fill="#000bff"/><rect x="258.75" y="627.70" width="1.37" height="19.85" fill="#000dff"/><rect x="260.00" y="627.70" width="1.58" height="19.85" fill="#0019ff"/><rect x="261.46" y="627.70" width="1.58" height="19.85" fill="#0054ff"/><rect x="262.92" y="627.70" width="1.58" height="19.85" fill="#004fff"/><rect x="264.38" y="627.70" width="1.58" height="19.85" fill="#0031ff"/><rect x="265.84" y="627.70" width="1.58" height="19.85" fill="#002eff"/><rect x="267.30" y="627.70" width="1.58" height="19.85" fill="#003eff"/><rect x="268.76" y="627.70" width="1.58" height="19.85" fill="#0018ff"/><rect x="270.22" y="627.70" width="1.58" height="19.85" fill="#0017ff"/><rect x="271.68" y="627.70" width="1.58" height="19.85" fill="#0055ff"/><rect x="273.14" y="627.70" width="1.15" height="19.85" fill="#002aff"/><rect x="277.50" y="627.70" width="1.82" height="19.85" fill="#004dff"/><rect x="279.17" y="627.70" width="1.58" height="19.85" fill="#800000"/><rect x="280.63" y="627.70" width="1.58" height="19.85" fill="#800000"/><rect x="282.09" y="627.70" width="0.53" height="19.85" fill="#800000"/><rect x="283.33" y="627.70" width="1.58" height="19.85" fill="#00b1ff"/><rect x="284.79" y="627.70" width="1.58" height="19.85" fill="#009eff"/><rect x="286.25" y="627.70" width="0.53" height="19.85" fill="#00a4ff"/><rect x="286.67" y="627.70" width="1.58" height="19.85" fill="#006bff"/><rect x="288.13" y="627.70" width="1.58" height="19.85" fill="#0069ff"/><rect x="289.59" y="627.70" width="0.53" height="19.85" fill="#0037ff"/><rect x="291.67" y="627.70" width="1.58" height="19.85" fill="#0065ff"/><rect x="293.13" y="627.70" width="1.58" height="19.85" fill="#0042ff"/><rect x="294.59" y="627.70" width="1.58" height="19.85" fill="#004bff"/><rect x="296.05" y="627.70" width="1.58" height="19.85" fill="#0035ff"/><rect x="297.51" y="627.70" width="1.58" height="19.85" fill="#0068ff"/><rect x="298.97" y="627.70" width="1.58" height="19.85" fill="#0070ff"/><rect x="300.43" y="627.70" width="1.58" height="19.85" fill="#0037ff"/><rect x="301.89" y="627.70" width="1.58" height="19.85" fill="#0056ff"/><rect x="303.35" y="627.70" width="1.58" height="19.85" fill="#0036ff"/><rect x="304.81" y="627.70" width="1.58" height="19.85" fill="#0068ff"/><rect x="306.27" y="627.70" width="1.58" height="19.85" fill="#002cff"/><rect x="307.73" y="627.70" width="1.58" height="19.85" fill="#0030ff"/><rect x="309.19" y="627.70" width="1.58" height="19.85" fill="#005dff"/><rect x="310.65" y="627.70" width="1.14" height="19.85" fill="#003fff"/><rect x="311.67" y="627.70" width="1.82" height="19.85" fill="#1affe5"/><rect x="313.33" y="627.70" width="1.58" height="19.85" fill="#007dff"/><rect x="314.79" y="627.70" width="1.58" height="19.85" fill="#007bff"/><rect x="316.25" y="627.70" width="1.58" height="19.85" fill="#0070ff"/><rect x="317.71" y="627.70" width="1.58" height="19.85" fill="#0047ff"/><rect x="319.17" y="627.70" width="1.58" height="19.85" fill="#006fff"/><rect x="320.63" y="627.70" width="1.58" height="19.85" fill="#0080ff"/><rect x="322.09" y="627.70" width="1.58" height="19.85" fill="#005dff"/><rect x="323.55" y="627.70" width="1.58" height="19.85" fill="#0043ff"/><rect x="325.01" y="627.70" width="1.58" height="19.85" fill="#004dff"/><rect x="326.47" y="627.70" width="1.58" height="19.85" fill="#0053ff"/><rect x="327.93" y="627.70" width="1.58" height="19.85" fill="#0070ff"/><rect x="329.39" y="627.70" width="1.58" height="19.85" fill="#004bff"/><rect x="330.85" y="627.70" width="1.58" height="19.85" fill="#004aff"/><rect x="332.31" y="627.70" width="1.58" height="19.85" fill="#004eff"/><rect x="333.77" y="627.70" width="1.58" height="19.85" fill="#006dff"/><rect x="335.23" y="627.70" width="1.58" height="19.85" fill="#0076ff"/><rect x="336.69" y="627.70" width="1.58" height="19.85" fill="#0058ff"/><rect x="338.15" y="627.70" width="1.58" height="19.85" fill="#006cff"/><rect x="339.61" y="627.70" width="1.58" height="19.85" fill="#007cff"/><rect x="341.07" y="627.70" width="1.58" height="19.85" fill="#0067ff"/><rect x="342.53" y="627.70" width="1.58" height="19.85" fill="#004eff"/><rect x="343.99" y="627.70" width="1.58" height="19.85" fill="#0053ff"/><rect x="345.45" y="627.70" width="1.58" height="19.85" fill="#007fff"/><rect x="346.91" y="627.70" width="1.58" height="19.85" fill="#006dff"/><rect x="348.37" y="627.70" width="1.58" height="19.85" fill="#0051ff"/><rect x="349.83" y="627.70" width="1.58" height="19.85" fill="#006bff"/><rect x="351.29" y="627.70" width="1.58" height="19.85" fill="#0044ff"/><rect x="352.75" y="627.70" width="1.58" height="19.85" fill="#0083ff"/><rect x="354.21" y="627.70" width="1.58" height="19.85" fill="#005dff"/><rect x="355.67" y="627.70" width="1.58" height="19.85" fill="#0063ff"/><rect x="357.13" y="627.70" width="1.58" height="19.85" fill="#0063ff"/><rect x="358.59" y="627.70" width="1.53" height="19.85" fill="#0040ff"/><rect x="360.00" y="627.70" width="1.58" height="19.85" fill="#003fff"/><rect x="361.46" y="627.70" width="1.58" height="19.85" fill="#0029ff"/><rect x="362.92" y="627.70" width="1.58" height="19.85" fill="#0026ff"/><rect x="364.38" y="627.70" width="1.58" height="19.85" fill="#004eff"/><rect x="365.84" y="627.70" width="1.58" height="19.85" fill="#001bff"/><rect x="367.30" y="627.70" width="1.58" height="19.85" fill="#0029ff"/><rect x="368.76" y="627.70" width="1.58" height="19.85" fill="#004aff"/><rect x="370.22" y="627.70" width="1.57" height="19.85" fill="#0026ff"/><rect x="371.67" y="627.70" width="1.82" height="19.85" fill="#1affe5"/><rect x="373.33" y="627.70" width="1.58" height="19.85" fill="#c1ff3e"/><rect x="374.79" y="627.70" width="1.58" height="19.85" fill="#d5ff2a"/><rect x="376.25" y="627.70" width="1.58" height="19.85" fill="#bbff44"/><rect x="377.71" y="627.70" width="1.58" height="19.85" fill="#edff12"/><rect x="379.17" y="627.70" width="1.58" height="19.85" fill="#f4ff0b"/><rect x="380.63" y="627.70" width="1.15" height="19.85" fill="#b0ff4f"/><rect x="381.67" y="627.70" width="1.58" height="19.85" fill="#7dff82"/><rect x="383.13" y="627.70" width="1.58" height="19.85" fill="#91ff6e"/><rect x="384.59" y="627.70" width="1.58" height="19.85" fill="#77ff88"/><rect x="386.05" y="627.70" width="0.74" height="19.85" fill="#9eff61"/><rect x="386.67" y="627.70" width="1.58" height="19.85" fill="#e5ff1a"/><rect x="388.13" y="627.70" width="1.58" height="19.85" fill="#cfff30"/><rect x="389.59" y="627.70" width="1.58" height="19.85" fill="#e9ff16"/><rect x="391.05" y="627.70" width="1.58" height="19.85" fill="#f0ff0f"/><rect x="392.51" y="627.70" width="0.95" height="19.85" fill="#dbff24"/><rect x="393.33" y="627.70" width="1.58" height="19.85" fill="#beff41"/><rect x="394.79" y="627.70" width="1.58" height="19.85" fill="#c7ff38"/><rect x="396.25" y="627.70" width="1.58" height="19.85" fill="#b4ff4b"/><rect x="397.71" y="627.70" width="1.58" height="19.85" fill="#b3ff4c"/><rect x="399.17" y="627.70" width="0.95" height="19.85" fill="#cbff34"/><rect x="400.00" y="627.70" width="1.58" height="19.85" fill="#fff700"/><rect x="401.46" y="627.70" width="1.58" height="19.85" fill="#fbff04"/><rect x="402.92" y="627.70" width="1.58" height="19.85" fill="#ffe400"/><rect x="404.38" y="627.70" width="1.58" height="19.85" fill="#e3ff1c"/><rect x="405.84" y="627.70" width="0.95" height="19.85" fill="#fff000"/><rect x="406.67" y="627.70" width="1.58" height="19.85" fill="#9bff64"/><rect x="408.13" y="627.70" width="1.58" height="19.85" fill="#baff45"/><rect x="409.59" y="627.70" width="1.58" height="19.85" fill="#a0ff5f"/><rect x="411.05" y="627.70" width="1.58" height="19.85" fill="#aeff51"/><rect x="412.51" y="627.70" width="1.58" height="19.85" fill="#c6ff39"/><rect x="413.97" y="627.70" width="1.15" height="19.85" fill="#c7ff38"/><rect x="415.00" y="627.70" width="1.58" height="19.85" fill="#0076ff"/><rect x="416.46" y="627.70" width="1.58" height="19.85" fill="#004eff"/><rect x="417.92" y="627.70" width="1.58" height="19.85" fill="#0060ff"/><rect x="419.38" y="627.70" width="1.58" height="19.85" fill="#004dff"/><rect x="420.84" y="627.70" width="1.58" height="19.85" fill="#0067ff"/><rect x="422.30" y="627.70" width="1.58" height="19.85" fill="#0061ff"/><rect x="423.76" y="627.70" width="1.58" height="19.85" fill="#0040ff"/><rect x="425.22" y="627.70" width="1.57" height="19.85" fill="#0068ff"/><rect x="430.00" y="627.70" width="1.58" height="19.85" fill="#0047ff"/><rect x="431.46" y="627.70" width="1.58" height="19.85" fill="#003dff"/><rect x="432.92" y="627.70" width="1.58" height="19.85" fill="#0053ff"/><rect x="434.38" y="627.70" width="1.58" height="19.85" fill="#0021ff"/><rect x="435.84" y="627.70" width="1.58" height="19.85" fill="#001fff"/><rect x="437.30" y="627.70" width="1.15" height="19.85" fill="#0016ff"/><rect x="440.00" y="627.70" width="2.65" height="19.85" fill="#0038ff"/><rect x="448.33" y="627.70" width="2.65" height="19.85" fill="#800000"/><rect x="440.00" y="627.70" width="2.65" height="19.85" fill="#0038ff"/><rect x="449.17" y="627.70" width="1.82" height="19.85" fill="#800000"/><rect x="460.83" y="627.70" width="1.82" height="19.85" fill="#001aff"/><rect x="464.17" y="627.70" width="0.98" height="19.85" fill="#80ff80"/><rect x="467.50" y="627.70" width="1.58" height="19.85" fill="#800000"/><rect x="468.96" y="627.70" width="1.58" height="19.85" fill="#840000"/><rect x="470.42" y="627.70" width="0.53" height="19.85" fill="#840000"/><rect x="485.83" y="627.70" width="1.58" height="19.85" fill="#003cff"/><rect x="487.29" y="627.70" width="1.58" height="19.85" fill="#0062ff"/><rect x="488.75" y="627.70" width="1.58" height="19.85" fill="#002eff"/><rect x="490.21" y="627.70" width="1.58" height="19.85" fill="#006aff"/><rect x="491.67" y="627.70" width="1.58" height="19.85" fill="#0051ff"/><rect x="493.13" y="627.70" width="1.58" height="19.85" fill="#0050ff"/><rect x="494.59" y="627.70" width="0.53" height="19.85" fill="#0061ff"/><rect x="508.33" y="627.70" width="1.82" height="19.85" fill="#05fffa"/><rect x="513.33" y="627.70" width="1.82" height="19.85" fill="#05fffa"/><rect x="520.00" y="627.70" width="1.58" height="19.85" fill="#003aff"/><rect x="521.46" y="627.70" width="1.58" height="19.85" fill="#0033ff"/><rect x="522.92" y="627.70" width="0.53" height="19.85" fill="#003fff"/><rect x="523.33" y="627.70" width="1.58" height="19.85" fill="#92ff6d"/><rect x="524.79" y="627.70" width="1.58" height="19.85" fill="#a5ff5a"/><rect x="526.25" y="627.70" width="1.37" height="19.85" fill="#bbff44"/><rect x="376.40" y="647.30" width="1.15" height="20.35" fill="#0000b2"/><rect x="317.50" y="445.44" width="1.60" height="4.77" fill="#0000b2"/><rect x="329.00" y="445.44" width="2.10" height="4.77" fill="#0000b2"/><rect x="376.00" y="445.44" width="1.60" height="4.77" fill="#0000b2"/><rect x="318.50" y="449.91" width="2.10" height="4.77" fill="#0000b2"/><rect x="375.00" y="449.91" width="1.60" height="4.77" fill="#0000b2"/><rect x="417.00" y="449.91" width="2.10" height="4.77" fill="#0000b2"/><rect x="70.50" y="454.38" width="1.40" height="4.77" fill="#0000fa"/><rect x="79.30" y="454.38" width="1.30" height="4.77" fill="#0000fa"/><rect x="89.70" y="454.38" width="1.40" height="4.77" fill="#0000b2"/><rect x="95.50" y="454.38" width="1.40" height="4.77" fill="#0000fa"/><rect x="101.00" y="454.38" width="1.10" height="4.77" fill="#0000b2"/><rect x="110.00" y="454.38" width="1.60" height="4.77" fill="#0000fa"/><rect x="129.00" y="454.38" width="2.10" height="4.77" fill="#0000b2"/><rect x="243.00" y="454.38" width="1.60" height="4.77" fill="#0000b2"/><rect x="266.00" y="454.38" width="2.10" height="4.77" fill="#0000fa"/><rect x="272.00" y="454.38" width="2.10" height="4.77" fill="#940000"/><rect x="304.00" y="454.38" width="2.10" height="4.77" fill="#0000b2"/><rect x="312.00" y="454.38" width="11.10" height="4.77" fill="#0000b2"/><rect x="325.00" y="454.38" width="2.10" height="4.77" fill="#0000b2"/><rect x="328.00" y="454.38" width="2.10" height="4.77" fill="#0000b2"/><rect x="331.00" y="454.38" width="2.10" height="4.77" fill="#0000b2"/><rect x="335.00" y="454.38" width="2.10" height="4.77" fill="#0000b2"/><rect x="339.00" y="454.38" width="1.60" height="4.77" fill="#0000b2"/><rect x="342.00" y="454.38" width="1.60" height="4.77" fill="#0000b2"/><rect x="344.50" y="454.38" width="1.60" height="4.77" fill="#0000b2"/><rect x="347.00" y="454.38" width="2.10" height="4.77" fill="#0000b2"/><rect x="352.50" y="454.38" width="9.60" height="4.77" fill="#0000b2"/><rect x="365.00" y="454.38" width="14.10" height="4.77" fill="#0000b2"/><rect x="383.00" y="454.38" width="2.10" height="4.77" fill="#0000b2"/><rect x="389.00" y="454.38" width="5.10" height="4.77" fill="#0000b2"/><rect x="396.50" y="454.38" width="2.10" height="4.77" fill="#0000b2"/><rect x="401.00" y="454.38" width="3.10" height="4.77" fill="#0000b2"/><rect x="407.00" y="454.38" width="1.60" height="4.77" fill="#0000b2"/><rect x="420.00" y="454.38" width="1.60" height="4.77" fill="#0000b2"/><rect x="435.00" y="454.38" width="1.60" height="4.77" fill="#0000b2"/><rect x="439.00" y="454.38" width="1.60" height="4.77" fill="#0000b2"/><rect x="465.00" y="454.38" width="1.60" height="4.77" fill="#0000b2"/><rect x="475.00" y="454.38" width="1.60" height="4.77" fill="#0000b2"/><rect x="483.00" y="454.38" width="1.60" height="4.77" fill="#0000b2"/><rect x="490.00" y="454.38" width="1.80" height="4.77" fill="#0000b2"/><rect x="494.60" y="454.38" width="1.30" height="4.77" fill="#0000b2"/><rect x="522.50" y="454.38" width="4.30" height="4.77" fill="#0000b2"/><rect x="86.80" y="458.85" width="0.90" height="4.77" fill="#0000b2"/><rect x="98.80" y="458.85" width="1.00" height="4.77" fill="#0000b2"/><rect x="114.00" y="458.85" width="1.60" height="4.77" fill="#0000b2"/><rect x="138.00" y="458.85" width="1.60" height="4.77" fill="#0000fa"/><rect x="223.00" y="458.85" width="2.10" height="4.77" fill="#0000b2"/><rect x="244.50" y="458.85" width="1.60" height="4.77" fill="#0000b2"/><rect x="292.50" y="458.85" width="1.60" height="4.77" fill="#0080ff"/><rect x="304.00" y="458.85" width="2.10" height="4.77" fill="#0000b2"/><rect x="315.00" y="458.85" width="4.10" height="4.77" fill="#0000b2"/><rect x="320.00" y="458.85" width="2.10" height="4.77" fill="#0000b2"/><rect x="327.00" y="458.85" width="2.10" height="4.77" fill="#0000b2"/><rect x="349.50" y="458.85" width="1.60" height="4.77" fill="#0000b2"/><rect x="353.00" y="458.85" width="2.10" height="4.77" fill="#0000fa"/><rect x="360.00" y="458.85" width="2.10" height="4.77" fill="#0080ff"/><rect x="367.00" y="458.85" width="13.10" height="4.77" fill="#0000b2"/><rect x="386.00" y="458.85" width="2.10" height="4.77" fill="#0000b2"/><rect x="389.00" y="458.85" width="5.10" height="4.77" fill="#0000b2"/><rect x="397.00" y="458.85" width="9.10" height="4.77" fill="#0000b2"/><rect x="437.50" y="458.85" width="1.60" height="4.77" fill="#0000b2"/><rect x="469.50" y="458.85" width="1.60" height="4.77" fill="#0000b2"/><rect x="490.00" y="458.85" width="1.80" height="4.77" fill="#0000b2"/><rect x="525.00" y="458.85" width="2.10" height="4.77" fill="#0000b2"/><rect x="64.30" y="463.32" width="1.30" height="4.77" fill="#0000fa"/><rect x="70.50" y="463.32" width="1.40" height="4.77" fill="#0000fa"/><rect x="73.40" y="463.32" width="1.40" height="4.77" fill="#0000fa"/><rect x="80.90" y="463.32" width="1.40" height="4.77" fill="#0000fa"/><rect x="84.30" y="463.32" width="3.00" height="4.77" fill="#0000fa"/><rect x="89.70" y="463.32" width="1.40" height="4.77" fill="#0000b2"/><rect x="98.80" y="463.32" width="1.30" height="4.77" fill="#0000b2"/><rect x="101.30" y="463.32" width="1.40" height="4.77" fill="#0000b2"/><rect x="107.20" y="463.32" width="2.60" height="4.77" fill="#0000fa"/><rect x="114.00" y="463.32" width="1.60" height="4.77" fill="#0000b2"/><rect x="117.00" y="463.32" width="1.60" height="4.77" fill="#0000fa"/><rect x="120.00" y="463.32" width="1.60" height="4.77" fill="#0000fa"/><rect x="123.00" y="463.32" width="1.60" height="4.77" fill="#0000fa"/><rect x="126.00" y="463.32" width="1.60" height="4.77" fill="#0000fa"/><rect x="129.00" y="463.32" width="1.60" height="4.77" fill="#0000fa"/><rect x="133.00" y="463.32" width="1.60" height="4.77" fill="#0000fa"/><rect x="143.50" y="463.32" width="1.60" height="4.77" fill="#940000"/><rect x="228.50" y="463.32" width="1.60" height="4.77" fill="#0000fa"/><rect x="241.50" y="463.32" width="1.60" height="4.77" fill="#0000b2"/><rect x="252.00" y="463.32" width="1.10" height="4.77" fill="#0000fa"/><rect x="266.00" y="463.32" width="2.10" height="4.77" fill="#0000fa"/><rect x="304.50" y="463.32" width="4.60" height="4.77" fill="#0000b2"/><rect x="315.00" y="463.32" width="18.10" height="4.77" fill="#0000b2"/><rect x="335.00" y="463.32" width="1.60" height="4.77" fill="#0000fa"/><rect x="338.00" y="463.32" width="1.60" height="4.77" fill="#0000fa"/><rect x="353.00" y="463.32" width="4.10" height="4.77" fill="#0000fa"/><rect x="359.00" y="463.32" width="2.10" height="4.77" fill="#0000fa"/><rect x="363.00" y="463.32" width="1.60" height="4.77" fill="#0000b2"/><rect x="368.00" y="463.32" width="13.10" height="4.77" fill="#0000b2"/><rect x="382.00" y="463.32" width="2.10" height="4.77" fill="#0000b2"/><rect x="386.00" y="463.32" width="7.10" height="4.77" fill="#0000b2"/><rect x="397.00" y="463.32" width="3.10" height="4.77" fill="#0000b2"/><rect x="403.00" y="463.32" width="2.10" height="4.77" fill="#0000b2"/><rect x="411.00" y="463.32" width="8.10" height="4.77" fill="#0000b2"/><rect x="439.00" y="463.32" width="1.60" height="4.77" fill="#0000b2"/><rect x="464.00" y="463.32" width="1.60" height="4.77" fill="#0000b2"/><rect x="467.00" y="463.32" width="2.60" height="4.77" fill="#0000b2"/><rect x="472.00" y="463.32" width="2.10" height="4.77" fill="#0000b2"/><rect x="489.00" y="463.32" width="2.80" height="4.77" fill="#0000b2"/><rect x="494.60" y="463.32" width="1.30" height="4.77" fill="#0000b2"/><rect x="521.00" y="463.32" width="7.10" height="4.77" fill="#0000b2"/><rect x="65.90" y="467.79" width="1.40" height="4.77" fill="#0000fa"/><rect x="98.80" y="467.79" width="1.30" height="4.77" fill="#0000b2"/><rect x="101.80" y="467.79" width="2.10" height="4.77" fill="#0000fa"/><rect x="106.30" y="467.79" width="5.30" height="4.77" fill="#0000fa"/><rect x="114.00" y="467.79" width="1.60" height="4.77" fill="#0000b2"/><rect x="224.00" y="467.79" width="1.60" height="4.77" fill="#0000fa"/><rect x="306.00" y="467.79" width="3.60" height="4.77" fill="#0000b2"/><rect x="314.00" y="467.79" width="1.10" height="4.77" fill="#0000fa"/><rect x="315.00" y="467.79" width="12.10" height="4.77" fill="#0000b2"/><rect x="345.00" y="467.79" width="1.60" height="4.77" fill="#0000fa"/><rect x="368.00" y="467.79" width="13.10" height="4.77" fill="#0000b2"/><rect x="386.00" y="467.79" width="6.10" height="4.77" fill="#0000b2"/><rect x="398.00" y="467.79" width="8.10" height="4.77" fill="#0000b2"/><rect x="413.00" y="467.79" width="4.10" height="4.77" fill="#0000b2"/><rect x="465.00" y="467.79" width="3.10" height="4.77" fill="#0000b2"/><rect x="471.00" y="467.79" width="3.10" height="4.77" fill="#0000b2"/><rect x="489.00" y="467.79" width="2.80" height="4.77" fill="#0000b2"/><rect x="513.80" y="467.79" width="1.30" height="4.77" fill="#0000b2"/><rect x="89.70" y="472.26" width="1.40" height="4.77" fill="#0000b2"/><rect x="94.00" y="472.26" width="3.10" height="4.77" fill="#0000fa"/><rect x="98.00" y="472.26" width="2.10" height="4.77" fill="#0000fa"/><rect x="101.30" y="472.26" width="3.30" height="4.77" fill="#0000fa"/><rect x="113.00" y="472.26" width="5.60" height="4.77" fill="#0000fa"/><rect x="127.50" y="472.26" width="1.60" height="4.77" fill="#0000b2"/><rect x="223.00" y="472.26" width="3.10" height="4.77" fill="#0000fa"/><rect x="231.50" y="472.26" width="1.60" height="4.77" fill="#0080ff"/><rect x="240.00" y="472.26" width="9.60" height="4.77" fill="#0000fa"/><rect x="257.50" y="472.26" width="1.60" height="4.77" fill="#0000b2"/><rect x="262.00" y="472.26" width="1.60" height="4.77" fill="#0080ff"/><rect x="264.50" y="472.26" width="1.60" height="4.77" fill="#0080ff"/><rect x="282.00" y="472.26" width="2.10" height="4.77" fill="#0080ff"/><rect x="287.50" y="472.26" width="2.10" height="4.77" fill="#0000fa"/><rect x="291.50" y="472.26" width="1.60" height="4.77" fill="#6bff94"/><rect x="298.00" y="472.26" width="1.60" height="4.77" fill="#00f0ff"/><rect x="302.00" y="472.26" width="8.10" height="4.77" fill="#0000b2"/><rect x="314.00" y="472.26" width="11.10" height="4.77" fill="#0000fa"/><rect x="327.00" y="472.26" width="2.10" height="4.77" fill="#0080ff"/><rect x="331.00" y="472.26" width="4.10" height="4.77" fill="#0000fa"/><rect x="344.00" y="472.26" width="2.10" height="4.77" fill="#0000fa"/><rect x="348.00" y="472.26" width="2.10" height="4.77" fill="#0000b2"/><rect x="358.00" y="472.26" width="2.10" height="4.77" fill="#0000fa"/><rect x="364.00" y="472.26" width="19.10" height="4.77" fill="#0000fa"/><rect x="385.00" y="472.26" width="8.10" height="4.77" fill="#0000fa"/><rect x="399.00" y="472.26" width="6.10" height="4.77" fill="#0000fa"/><rect x="408.00" y="472.26" width="3.10" height="4.77" fill="#0000fa"/><rect x="413.00" y="472.26" width="3.10" height="4.77" fill="#0000b2"/><rect x="420.50" y="472.26" width="1.60" height="4.77" fill="#0000b2"/><rect x="434.00" y="472.26" width="4.10" height="4.77" fill="#0000fa"/><rect x="440.50" y="472.26" width="1.60" height="4.77" fill="#0000fa"/><rect x="444.00" y="472.26" width="1.10" height="4.77" fill="#0080ff"/><rect x="450.00" y="472.26" width="1.60" height="4.77" fill="#00f0ff"/><rect x="459.00" y="472.26" width="1.60" height="4.77" fill="#940000"/><rect x="462.50" y="472.26" width="1.56" height="4.77" fill="#0080ff"/><rect x="463.96" y="472.26" width="1.56" height="4.77" fill="#0000fa"/><rect x="465.42" y="472.26" width="1.56" height="4.77" fill="#0080ff"/><rect x="466.88" y="472.26" width="1.56" height="4.77" fill="#0000fa"/><rect x="468.34" y="472.26" width="1.56" height="4.77" fill="#0000fa"/><rect x="469.80" y="472.26" width="1.56" height="4.77" fill="#0000fa"/><rect x="471.26" y="472.26" width="1.56" height="4.77" fill="#0000fa"/><rect x="472.72" y="472.26" width="1.56" height="4.77" fill="#0000fa"/><rect x="474.18" y="472.26" width="1.56" height="4.77" fill="#0080ff"/><rect x="475.64" y="472.26" width="1.56" height="4.77" fill="#0000fa"/><rect x="477.10" y="472.26" width="1.56" height="4.77" fill="#0000fa"/><rect x="478.56" y="472.26" width="1.56" height="4.77" fill="#0000fa"/><rect x="480.02" y="472.26" width="1.56" height="4.77" fill="#0000fa"/><rect x="481.48" y="472.26" width="1.56" height="4.77" fill="#0000fa"/><rect x="482.94" y="472.26" width="1.56" height="4.77" fill="#0000fa"/><rect x="484.40" y="472.26" width="1.56" height="4.77" fill="#0080ff"/><rect x="485.86" y="472.26" width="1.56" height="4.77" fill="#0080ff"/><rect x="487.32" y="472.26" width="1.56" height="4.77" fill="#0000fa"/><rect x="488.78" y="472.26" width="1.56" height="4.77" fill="#0000fa"/><rect x="490.24" y="472.26" width="1.56" height="4.77" fill="#0000fa"/><rect x="491.70" y="472.26" width="1.56" height="4.77" fill="#0000fa"/><rect x="493.16" y="472.26" width="1.56" height="4.77" fill="#0080ff"/><rect x="494.62" y="472.26" width="0.48" height="4.77" fill="#0000fa"/><rect x="495.00" y="472.26" width="2.10" height="4.77" fill="#0000fa"/><rect x="509.60" y="472.26" width="5.50" height="4.77" fill="#0000fa"/><rect x="521.00" y="472.26" width="3.10" height="4.77" fill="#940000"/><rect x="63.00" y="476.73" width="1.56" height="4.77" fill="#00f0ff"/><rect x="64.46" y="476.73" width="1.56" height="4.77" fill="#0080ff"/><rect x="65.92" y="476.73" width="1.56" height="4.77" fill="#00f0ff"/><rect x="67.38" y="476.73" width="1.56" height="4.77" fill="#00f0ff"/><rect x="68.84" y="476.73" width="1.56" height="4.77" fill="#00f0ff"/><rect x="70.30" y="476.73" width="1.56" height="4.77" fill="#0080ff"/><rect x="71.76" y="476.73" width="1.56" height="4.77" fill="#00f0ff"/><rect x="73.22" y="476.73" width="1.56" height="4.77" fill="#0080ff"/><rect x="74.68" y="476.73" width="1.56" height="4.77" fill="#0000fa"/><rect x="76.14" y="476.73" width="1.56" height="4.77" fill="#00f0ff"/><rect x="77.60" y="476.73" width="1.56" height="4.77" fill="#0080ff"/><rect x="79.06" y="476.73" width="1.56" height="4.77" fill="#00f0ff"/><rect x="80.52" y="476.73" width="1.56" height="4.77" fill="#0000fa"/><rect x="81.98" y="476.73" width="1.56" height="4.77" fill="#0080ff"/><rect x="83.44" y="476.73" width="1.56" height="4.77" fill="#00f0ff"/><rect x="84.90" y="476.73" width="1.56" height="4.77" fill="#0080ff"/><rect x="86.36" y="476.73" width="1.56" height="4.77" fill="#0000fa"/><rect x="87.82" y="476.73" width="1.56" height="4.77" fill="#00f0ff"/><rect x="89.28" y="476.73" width="1.56" height="4.77" fill="#00f0ff"/><rect x="90.74" y="476.73" width="1.56" height="4.77" fill="#00f0ff"/><rect x="92.20" y="476.73" width="1.56" height="4.77" fill="#0080ff"/><rect x="93.66" y="476.73" width="1.56" height="4.77" fill="#00f0ff"/><rect x="95.12" y="476.73" width="1.56" height="4.77" fill="#00f0ff"/><rect x="96.58" y="476.73" width="1.56" height="4.77" fill="#0000fa"/><rect x="98.04" y="476.73" width="1.56" height="4.77" fill="#00f0ff"/><rect x="99.50" y="476.73" width="1.56" height="4.77" fill="#00f0ff"/><rect x="100.96" y="476.73" width="1.56" height="4.77" fill="#0000fa"/><rect x="102.42" y="476.73" width="1.56" height="4.77" fill="#0000fa"/><rect x="103.88" y="476.73" width="1.56" height="4.77" fill="#0080ff"/><rect x="105.34" y="476.73" width="1.56" height="4.77" fill="#0080ff"/><rect x="106.80" y="476.73" width="1.56" height="4.77" fill="#0080ff"/><rect x="108.26" y="476.73" width="1.56" height="4.77" fill="#00f0ff"/><rect x="109.72" y="476.73" width="0.38" height="4.77" fill="#0000fa"/><rect x="110.00" y="476.73" width="1.56" height="4.77" fill="#0080ff"/><rect x="111.46" y="476.73" width="1.56" height="4.77" fill="#0080ff"/><rect x="112.92" y="476.73" width="1.56" height="4.77" fill="#0080ff"/><rect x="114.38" y="476.73" width="1.56" height="4.77" fill="#0080ff"/><rect x="115.84" y="476.73" width="1.56" height="4.77" fill="#0000fa"/><rect x="117.30" y="476.73" width="1.56" height="4.77" fill="#0000fa"/><rect x="118.76" y="476.73" width="1.56" height="4.77" fill="#0080ff"/><rect x="120.22" y="476.73" width="0.88" height="4.77" fill="#0000fa"/><rect x="123.00" y="476.73" width="2.10" height="4.77" fill="#0000fa"/><rect x="130.80" y="476.73" width="1.30" height="4.77" fill="#00f0ff"/><rect x="150.00" y="476.73" width="1.40" height="4.77" fill="#00f0ff"/><rect x="154.20" y="476.73" width="1.30" height="4.77" fill="#00f0ff"/><rect x="209.50" y="476.73" width="1.60" height="4.77" fill="#0080ff"/><rect x="223.00" y="476.73" width="5.10" height="4.77" fill="#0000fa"/><rect x="230.00" y="476.73" width="3.10" height="4.77" fill="#0000fa"/><rect x="236.50" y="476.73" width="2.10" height="4.77" fill="#faff05"/><rect x="240.00" y="476.73" width="1.56" height="4.77" fill="#0000b2"/><rect x="241.46" y="476.73" width="1.56" height="4.77" fill="#0000fa"/><rect x="242.92" y="476.73" width="1.56" height="4.77" fill="#0000b2"/><rect x="244.38" y="476.73" width="1.56" height="4.77" fill="#0000b2"/><rect x="245.84" y="476.73" width="1.56" height="4.77" fill="#0000fa"/><rect x="247.30" y="476.73" width="1.56" height="4.77" fill="#0000fa"/><rect x="248.76" y="476.73" width="1.56" height="4.77" fill="#0000b2"/><rect x="250.22" y="476.73" width="0.88" height="4.77" fill="#0000b2"/><rect x="251.00" y="476.73" width="1.56" height="4.77" fill="#6bff94"/><rect x="252.46" y="476.73" width="1.56" height="4.77" fill="#6bff94"/><rect x="253.92" y="476.73" width="1.18" height="4.77" fill="#6bff94"/><rect x="256.00" y="476.73" width="1.60" height="4.77" fill="#00f0ff"/><rect x="262.00" y="476.73" width="3.10" height="4.77" fill="#0000fa"/><rect x="266.50" y="476.73" width="2.60" height="4.77" fill="#0000b2"/><rect x="282.00" y="476.73" width="2.10" height="4.77" fill="#0000fa"/><rect x="288.00" y="476.73" width="2.10" height="4.77" fill="#00f0ff"/><rect x="291.00" y="476.73" width="2.10" height="4.77" fill="#0080ff"/><rect x="297.00" y="476.73" width="2.10" height="4.77" fill="#0000fa"/><rect x="300.00" y="476.73" width="1.60" height="4.77" fill="#940000"/><rect x="302.00" y="476.73" width="1.56" height="4.77" fill="#0000fa"/><rect x="303.46" y="476.73" width="1.56" height="4.77" fill="#0000fa"/><rect x="304.92" y="476.73" width="1.56" height="4.77" fill="#0000b2"/><rect x="306.38" y="476.73" width="1.56" height="4.77" fill="#0000b2"/><rect x="307.84" y="476.73" width="1.56" height="4.77" fill="#0000fa"/><rect x="309.30" y="476.73" width="1.56" height="4.77" fill="#0000fa"/><rect x="310.76" y="476.73" width="1.56" height="4.77" fill="#0000b2"/><rect x="312.22" y="476.73" width="0.88" height="4.77" fill="#0000b2"/><rect x="315.00" y="476.73" width="1.56" height="4.77" fill="#0000fa"/><rect x="316.46" y="476.73" width="1.56" height="4.77" fill="#6bff94"/><rect x="317.92" y="476.73" width="1.56" height="4.77" fill="#0000fa"/><rect x="319.38" y="476.73" width="1.56" height="4.77" fill="#00f0ff"/><rect x="320.84" y="476.73" width="1.56" height="4.77" fill="#6bff94"/><rect x="322.30" y="476.73" width="1.56" height="4.77" fill="#0000fa"/><rect x="323.76" y="476.73" width="1.56" height="4.77" fill="#0080ff"/><rect x="325.22" y="476.73" width="1.56" height="4.77" fill="#00f0ff"/><rect x="326.68" y="476.73" width="1.56" height="4.77" fill="#00f0ff"/><rect x="328.14" y="476.73" width="1.56" height="4.77" fill="#6bff94"/><rect x="329.60" y="476.73" width="1.56" height="4.77" fill="#00f0ff"/><rect x="331.06" y="476.73" width="1.56" height="4.77" fill="#0080ff"/><rect x="332.52" y="476.73" width="1.56" height="4.77" fill="#0000fa"/><rect x="333.98" y="476.73" width="1.56" height="4.77" fill="#0080ff"/><rect x="335.44" y="476.73" width="1.56" height="4.77" fill="#0080ff"/><rect x="336.90" y="476.73" width="1.56" height="4.77" fill="#6bff94"/><rect x="338.36" y="476.73" width="1.56" height="4.77" fill="#6bff94"/><rect x="339.82" y="476.73" width="1.56" height="4.77" fill="#6bff94"/><rect x="341.28" y="476.73" width="1.56" height="4.77" fill="#00f0ff"/><rect x="342.74" y="476.73" width="1.56" height="4.77" fill="#0080ff"/><rect x="344.20" y="476.73" width="1.56" height="4.77" fill="#6bff94"/><rect x="345.66" y="476.73" width="1.56" height="4.77" fill="#6bff94"/><rect x="347.12" y="476.73" width="1.56" height="4.77" fill="#00f0ff"/><rect x="348.58" y="476.73" width="1.56" height="4.77" fill="#0000fa"/><rect x="350.04" y="476.73" width="1.56" height="4.77" fill="#0080ff"/><rect x="351.50" y="476.73" width="1.56" height="4.77" fill="#6bff94"/><rect x="352.96" y="476.73" width="1.56" height="4.77" fill="#00f0ff"/><rect x="354.42" y="476.73" width="1.56" height="4.77" fill="#0000fa"/><rect x="355.88" y="476.73" width="1.56" height="4.77" fill="#6bff94"/><rect x="357.34" y="476.73" width="1.56" height="4.77" fill="#0000fa"/><rect x="358.80" y="476.73" width="1.56" height="4.77" fill="#6bff94"/><rect x="360.26" y="476.73" width="1.56" height="4.77" fill="#0080ff"/><rect x="361.72" y="476.73" width="1.56" height="4.77" fill="#0080ff"/><rect x="363.18" y="476.73" width="1.56" height="4.77" fill="#00f0ff"/><rect x="364.64" y="476.73" width="1.56" height="4.77" fill="#0080ff"/><rect x="366.10" y="476.73" width="1.56" height="4.77" fill="#0080ff"/><rect x="367.56" y="476.73" width="1.56" height="4.77" fill="#0080ff"/><rect x="369.02" y="476.73" width="1.56" height="4.77" fill="#0080ff"/><rect x="370.48" y="476.73" width="1.56" height="4.77" fill="#00f0ff"/><rect x="371.94" y="476.73" width="1.56" height="4.77" fill="#6bff94"/><rect x="373.40" y="476.73" width="1.56" height="4.77" fill="#00f0ff"/><rect x="375.00" y="476.73" width="8.10" height="4.77" fill="#0000fa"/><rect x="383.00" y="476.73" width="1.56" height="4.77" fill="#0080ff"/><rect x="384.46" y="476.73" width="1.56" height="4.77" fill="#00f0ff"/><rect x="385.92" y="476.73" width="1.56" height="4.77" fill="#00f0ff"/><rect x="387.38" y="476.73" width="1.56" height="4.77" fill="#0080ff"/><rect x="388.84" y="476.73" width="1.56" height="4.77" fill="#0080ff"/><rect x="390.30" y="476.73" width="1.56" height="4.77" fill="#00f0ff"/><rect x="391.76" y="476.73" width="1.56" height="4.77" fill="#00f0ff"/><rect x="393.22" y="476.73" width="1.56" height="4.77" fill="#00f0ff"/><rect x="394.68" y="476.73" width="0.42" height="4.77" fill="#0080ff"/><rect x="395.00" y="476.73" width="3.10" height="4.77" fill="#00f0ff"/><rect x="398.00" y="476.73" width="13.10" height="4.77" fill="#0000fa"/><rect x="413.00" y="476.73" width="12.10" height="4.77" fill="#00f0ff"/><rect x="429.00" y="476.73" width="1.10" height="4.77" fill="#940000"/><rect x="432.00" y="476.73" width="1.10" height="4.77" fill="#00f0ff"/><rect x="435.00" y="476.73" width="4.10" height="4.77" fill="#0080ff"/><rect x="444.50" y="476.73" width="1.60" height="4.77" fill="#0000b2"/><rect x="449.00" y="476.73" width="2.10" height="4.77" fill="#faff05"/><rect x="462.50" y="476.73" width="1.56" height="4.77" fill="#0080ff"/><rect x="463.96" y="476.73" width="1.56" height="4.77" fill="#0080ff"/><rect x="465.42" y="476.73" width="1.56" height="4.77" fill="#0080ff"/><rect x="466.88" y="476.73" width="1.56" height="4.77" fill="#0080ff"/><rect x="468.34" y="476.73" width="1.56" height="4.77" fill="#0080ff"/><rect x="469.80" y="476.73" width="1.56" height="4.77" fill="#0080ff"/><rect x="471.26" y="476.73" width="1.56" height="4.77" fill="#0080ff"/><rect x="472.72" y="476.73" width="1.56" height="4.77" fill="#00f0ff"/><rect x="474.18" y="476.73" width="1.56" height="4.77" fill="#0080ff"/><rect x="475.64" y="476.73" width="1.56" height="4.77" fill="#0080ff"/><rect x="477.10" y="476.73" width="1.56" height="4.77" fill="#00f0ff"/><rect x="478.56" y="476.73" width="1.54" height="4.77" fill="#00f0ff"/><rect x="480.00" y="476.73" width="3.10" height="4.77" fill="#940000"/><rect x="483.00" y="476.73" width="12.10" height="4.77" fill="#0000fa"/><rect x="504.60" y="476.73" width="1.50" height="4.77" fill="#00f0ff"/><rect x="506.70" y="476.73" width="1.56" height="4.77" fill="#0000fa"/><rect x="508.16" y="476.73" width="1.56" height="4.77" fill="#0000fa"/><rect x="509.62" y="476.73" width="1.56" height="4.77" fill="#00f0ff"/><rect x="511.08" y="476.73" width="1.56" height="4.77" fill="#0000fa"/><rect x="512.54" y="476.73" width="1.56" height="4.77" fill="#0000fa"/><rect x="514.00" y="476.73" width="1.10" height="4.77" fill="#00f0ff"/><rect x="519.60" y="476.73" width="1.56" height="4.77" fill="#0000fa"/><rect x="521.06" y="476.73" width="1.56" height="4.77" fill="#0000fa"/><rect x="522.52" y="476.73" width="1.56" height="4.77" fill="#0000fa"/><rect x="523.98" y="476.73" width="1.56" height="4.77" fill="#00f0ff"/><rect x="525.44" y="476.73" width="1.56" height="4.77" fill="#0000fa"/><rect x="526.90" y="476.73" width="1.56" height="4.77" fill="#0000fa"/><rect x="528.36" y="476.73" width="1.56" height="4.77" fill="#00f0ff"/><rect x="63.00" y="481.20" width="1.56" height="4.77" fill="#0080ff"/><rect x="64.46" y="481.20" width="1.56" height="4.77" fill="#00f0ff"/><rect x="65.92" y="481.20" width="1.56" height="4.77" fill="#00f0ff"/><rect x="67.38" y="481.20" width="1.56" height="4.77" fill="#00f0ff"/><rect x="68.84" y="481.20" width="1.56" height="4.77" fill="#0080ff"/><rect x="70.30" y="481.20" width="1.56" height="4.77" fill="#0000fa"/><rect x="71.76" y="481.20" width="1.56" height="4.77" fill="#0080ff"/><rect x="73.22" y="481.20" width="1.56" height="4.77" fill="#00f0ff"/><rect x="74.68" y="481.20" width="1.56" height="4.77" fill="#00f0ff"/><rect x="76.14" y="481.20" width="1.56" height="4.77" fill="#0080ff"/><rect x="77.60" y="481.20" width="1.56" height="4.77" fill="#00f0ff"/><rect x="79.06" y="481.20" width="1.56" height="4.77" fill="#00f0ff"/><rect x="80.52" y="481.20" width="1.56" height="4.77" fill="#0000fa"/><rect x="81.98" y="481.20" width="1.56" height="4.77" fill="#0080ff"/><rect x="83.44" y="481.20" width="1.56" height="4.77" fill="#6bff94"/><rect x="84.90" y="481.20" width="1.56" height="4.77" fill="#0000fa"/><rect x="86.36" y="481.20" width="1.56" height="4.77" fill="#00f0ff"/><rect x="87.82" y="481.20" width="1.56" height="4.77" fill="#00f0ff"/><rect x="89.28" y="481.20" width="1.56" height="4.77" fill="#0080ff"/><rect x="90.74" y="481.20" width="1.56" height="4.77" fill="#00f0ff"/><rect x="92.20" y="481.20" width="1.56" height="4.77" fill="#6bff94"/><rect x="93.66" y="481.20" width="1.56" height="4.77" fill="#00f0ff"/><rect x="95.12" y="481.20" width="1.56" height="4.77" fill="#00f0ff"/><rect x="96.58" y="481.20" width="1.56" height="4.77" fill="#6bff94"/><rect x="98.04" y="481.20" width="1.56" height="4.77" fill="#6bff94"/><rect x="99.50" y="481.20" width="1.56" height="4.77" fill="#6bff94"/><rect x="100.96" y="481.20" width="1.56" height="4.77" fill="#6bff94"/><rect x="102.42" y="481.20" width="1.56" height="4.77" fill="#00f0ff"/><rect x="103.88" y="481.20" width="1.56" height="4.77" fill="#00f0ff"/><rect x="105.34" y="481.20" width="1.56" height="4.77" fill="#0000fa"/><rect x="106.80" y="481.20" width="1.56" height="4.77" fill="#00f0ff"/><rect x="108.26" y="481.20" width="1.56" height="4.77" fill="#00f0ff"/><rect x="109.72" y="481.20" width="0.38" height="4.77" fill="#00f0ff"/><rect x="110.00" y="481.20" width="1.56" height="4.77" fill="#0080ff"/><rect x="111.46" y="481.20" width="1.56" height="4.77" fill="#00f0ff"/><rect x="112.92" y="481.20" width="1.56" height="4.77" fill="#00f0ff"/><rect x="114.38" y="481.20" width="1.56" height="4.77" fill="#00f0ff"/><rect x="115.84" y="481.20" width="1.56" height="4.77" fill="#0080ff"/><rect x="117.30" y="481.20" width="0.30" height="4.77" fill="#00f0ff"/><rect x="117.50" y="481.20" width="1.56" height="4.77" fill="#0000fa"/><rect x="118.96" y="481.20" width="1.56" height="4.77" fill="#0080ff"/><rect x="120.42" y="481.20" width="1.56" height="4.77" fill="#0000fa"/><rect x="121.88" y="481.20" width="1.56" height="4.77" fill="#0080ff"/><rect x="123.34" y="481.20" width="0.96" height="4.77" fill="#0080ff"/><rect x="126.20" y="481.20" width="3.90" height="4.77" fill="#0000fa"/><rect x="132.00" y="481.20" width="2.30" height="4.77" fill="#6bff94"/><rect x="138.00" y="481.20" width="5.40" height="4.77" fill="#6bff94"/><rect x="146.70" y="481.20" width="0.90" height="4.77" fill="#6bff94"/><rect x="150.00" y="481.20" width="1.56" height="4.77" fill="#6bff94"/><rect x="151.46" y="481.20" width="1.56" height="4.77" fill="#00f0ff"/><rect x="152.92" y="481.20" width="1.56" height="4.77" fill="#6bff94"/><rect x="154.38" y="481.20" width="1.56" height="4.77" fill="#00f0ff"/><rect x="155.84" y="481.20" width="1.56" height="4.77" fill="#6bff94"/><rect x="157.30" y="481.20" width="1.10" height="4.77" fill="#6bff94"/><rect x="206.00" y="481.20" width="2.10" height="4.77" fill="#940000"/><rect x="209.50" y="481.20" width="1.60" height="4.77" fill="#00f0ff"/><rect x="221.50" y="481.20" width="1.56" height="4.77" fill="#00f0ff"/><rect x="222.96" y="481.20" width="1.56" height="4.77" fill="#0080ff"/><rect x="224.42" y="481.20" width="1.56" height="4.77" fill="#00f0ff"/><rect x="225.88" y="481.20" width="1.56" height="4.77" fill="#00f0ff"/><rect x="227.34" y="481.20" width="1.56" height="4.77" fill="#0080ff"/><rect x="228.80" y="481.20" width="1.56" height="4.77" fill="#0080ff"/><rect x="230.26" y="481.20" width="1.56" height="4.77" fill="#00f0ff"/><rect x="231.72" y="481.20" width="0.38" height="4.77" fill="#00f0ff"/><rect x="237.00" y="481.20" width="2.10" height="4.77" fill="#00f0ff"/><rect x="240.00" y="481.20" width="1.56" height="4.77" fill="#0080ff"/><rect x="241.46" y="481.20" width="1.56" height="4.77" fill="#0080ff"/><rect x="242.92" y="481.20" width="1.56" height="4.77" fill="#0080ff"/><rect x="244.38" y="481.20" width="1.56" height="4.77" fill="#00f0ff"/><rect x="245.84" y="481.20" width="1.56" height="4.77" fill="#6bff94"/><rect x="247.30" y="481.20" width="1.56" height="4.77" fill="#6bff94"/><rect x="248.76" y="481.20" width="1.56" height="4.77" fill="#0080ff"/><rect x="250.22" y="481.20" width="1.56" height="4.77" fill="#0080ff"/><rect x="251.68" y="481.20" width="1.56" height="4.77" fill="#6bff94"/><rect x="253.14" y="481.20" width="1.56" height="4.77" fill="#0080ff"/><rect x="254.60" y="481.20" width="0.50" height="4.77" fill="#0080ff"/><rect x="256.00" y="481.20" width="3.10" height="4.77" fill="#00f0ff"/><rect x="259.00" y="481.20" width="1.60" height="4.77" fill="#6bff94"/><rect x="262.00" y="481.20" width="6.10" height="4.77" fill="#00f0ff"/><rect x="269.00" y="481.20" width="1.60" height="4.77" fill="#940000"/><rect x="281.00" y="481.20" width="4.10" height="4.77" fill="#6bff94"/><rect x="288.00" y="481.20" width="3.10" height="4.77" fill="#00f0ff"/><rect x="293.00" y="481.20" width="3.10" height="4.77" fill="#0080ff"/><rect x="298.00" y="481.20" width="1.60" height="4.77" fill="#00f0ff"/><rect x="302.00" y="481.20" width="1.56" height="4.77" fill="#0080ff"/><rect x="303.46" y="481.20" width="1.56" height="4.77" fill="#0080ff"/><rect x="304.92" y="481.20" width="1.56" height="4.77" fill="#0080ff"/><rect x="306.38" y="481.20" width="1.56" height="4.77" fill="#0080ff"/><rect x="307.84" y="481.20" width="1.56" height="4.77" fill="#00f0ff"/><rect x="309.30" y="481.20" width="1.56" height="4.77" fill="#0080ff"/><rect x="310.76" y="481.20" width="1.56" height="4.77" fill="#00f0ff"/><rect x="312.22" y="481.20" width="1.56" height="4.77" fill="#0080ff"/><rect x="313.68" y="481.20" width="1.42" height="4.77" fill="#00f0ff"/><rect x="315.00" y="481.20" width="1.56" height="4.77" fill="#0080ff"/><rect x="316.46" y="481.20" width="1.56" height="4.77" fill="#6bff94"/><rect x="317.92" y="481.20" width="1.56" height="4.77" fill="#0000fa"/><rect x="319.38" y="481.20" width="1.56" height="4.77" fill="#0080ff"/><rect x="320.84" y="481.20" width="1.56" height="4.77" fill="#0080ff"/><rect x="322.30" y="481.20" width="1.56" height="4.77" fill="#6bff94"/><rect x="323.76" y="481.20" width="1.56" height="4.77" fill="#00f0ff"/><rect x="325.22" y="481.20" width="1.56" height="4.77" fill="#6bff94"/><rect x="326.68" y="481.20" width="1.56" height="4.77" fill="#00f0ff"/><rect x="328.14" y="481.20" width="1.56" height="4.77" fill="#6bff94"/><rect x="329.60" y="481.20" width="1.56" height="4.77" fill="#0000fa"/><rect x="331.06" y="481.20" width="1.56" height="4.77" fill="#0080ff"/><rect x="332.52" y="481.20" width="1.56" height="4.77" fill="#6bff94"/><rect x="333.98" y="481.20" width="1.56" height="4.77" fill="#6bff94"/><rect x="335.44" y="481.20" width="1.56" height="4.77" fill="#6bff94"/><rect x="336.90" y="481.20" width="1.56" height="4.77" fill="#0080ff"/><rect x="338.36" y="481.20" width="1.56" height="4.77" fill="#00f0ff"/><rect x="339.82" y="481.20" width="1.56" height="4.77" fill="#00f0ff"/><rect x="341.28" y="481.20" width="1.56" height="4.77" fill="#00f0ff"/><rect x="342.74" y="481.20" width="1.56" height="4.77" fill="#0080ff"/><rect x="344.20" y="481.20" width="1.56" height="4.77" fill="#00f0ff"/><rect x="345.66" y="481.20" width="1.56" height="4.77" fill="#6bff94"/><rect x="347.12" y="481.20" width="1.56" height="4.77" fill="#00f0ff"/><rect x="348.58" y="481.20" width="1.56" height="4.77" fill="#6bff94"/><rect x="350.04" y="481.20" width="1.56" height="4.77" fill="#0000fa"/><rect x="351.50" y="481.20" width="1.56" height="4.77" fill="#00f0ff"/><rect x="352.96" y="481.20" width="1.56" height="4.77" fill="#00f0ff"/><rect x="354.42" y="481.20" width="1.56" height="4.77" fill="#0080ff"/><rect x="355.88" y="481.20" width="1.56" height="4.77" fill="#0080ff"/><rect x="357.34" y="481.20" width="1.56" height="4.77" fill="#0080ff"/><rect x="358.80" y="481.20" width="1.56" height="4.77" fill="#00f0ff"/><rect x="360.26" y="481.20" width="1.56" height="4.77" fill="#6bff94"/><rect x="361.72" y="481.20" width="1.56" height="4.77" fill="#00f0ff"/><rect x="363.18" y="481.20" width="1.56" height="4.77" fill="#00f0ff"/><rect x="364.64" y="481.20" width="1.56" height="4.77" fill="#0080ff"/><rect x="366.10" y="481.20" width="1.56" height="4.77" fill="#0000fa"/><rect x="367.56" y="481.20" width="1.56" height="4.77" fill="#00f0ff"/><rect x="369.02" y="481.20" width="1.56" height="4.77" fill="#0000fa"/><rect x="370.48" y="481.20" width="1.56" height="4.77" fill="#00f0ff"/><rect x="371.94" y="481.20" width="1.56" height="4.77" fill="#0000fa"/><rect x="373.40" y="481.20" width="1.56" height="4.77" fill="#0000fa"/><rect x="375.00" y="481.20" width="1.56" height="4.77" fill="#00f0ff"/><rect x="376.46" y="481.20" width="1.56" height="4.77" fill="#0080ff"/><rect x="377.92" y="481.20" width="1.56" height="4.77" fill="#00f0ff"/><rect x="379.38" y="481.20" width="1.56" height="4.77" fill="#00f0ff"/><rect x="380.84" y="481.20" width="1.56" height="4.77" fill="#00f0ff"/><rect x="382.30" y="481.20" width="1.56" height="4.77" fill="#0080ff"/><rect x="383.76" y="481.20" width="1.56" height="4.77" fill="#0080ff"/><rect x="385.22" y="481.20" width="1.56" height="4.77" fill="#00f0ff"/><rect x="386.68" y="481.20" width="1.56" height="4.77" fill="#00f0ff"/><rect x="388.14" y="481.20" width="1.56" height="4.77" fill="#00f0ff"/><rect x="389.60" y="481.20" width="1.56" height="4.77" fill="#0080ff"/><rect x="391.06" y="481.20" width="1.56" height="4.77" fill="#00f0ff"/><rect x="392.52" y="481.20" width="1.56" height="4.77" fill="#00f0ff"/><rect x="393.98" y="481.20" width="1.56" height="4.77" fill="#00f0ff"/><rect x="395.44" y="481.20" width="1.56" height="4.77" fill="#00f0ff"/><rect x="396.90" y="481.20" width="1.56" height="4.77" fill="#00f0ff"/><rect x="398.36" y="481.20" width="1.56" height="4.77" fill="#00f0ff"/><rect x="399.82" y="481.20" width="1.56" height="4.77" fill="#00f0ff"/><rect x="401.28" y="481.20" width="1.56" height="4.77" fill="#0080ff"/><rect x="402.74" y="481.20" width="1.56" height="4.77" fill="#00f0ff"/><rect x="404.20" y="481.20" width="1.56" height="4.77" fill="#00f0ff"/><rect x="405.66" y="481.20" width="1.56" height="4.77" fill="#00f0ff"/><rect x="407.12" y="481.20" width="1.56" height="4.77" fill="#00f0ff"/><rect x="408.58" y="481.20" width="1.56" height="4.77" fill="#00f0ff"/><rect x="410.04" y="481.20" width="1.56" height="4.77" fill="#00f0ff"/><rect x="411.50" y="481.20" width="1.56" height="4.77" fill="#0080ff"/><rect x="412.96" y="481.20" width="1.56" height="4.77" fill="#00f0ff"/><rect x="414.42" y="481.20" width="1.56" height="4.77" fill="#00f0ff"/><rect x="415.88" y="481.20" width="1.56" height="4.77" fill="#00f0ff"/><rect x="417.34" y="481.20" width="1.56" height="4.77" fill="#00f0ff"/><rect x="418.80" y="481.20" width="1.56" height="4.77" fill="#00f0ff"/><rect x="420.26" y="481.20" width="1.56" height="4.77" fill="#0080ff"/><rect x="421.72" y="481.20" width="1.56" height="4.77" fill="#00f0ff"/><rect x="423.18" y="481.20" width="1.56" height="4.77" fill="#00f0ff"/><rect x="424.64" y="481.20" width="0.46" height="4.77" fill="#00f0ff"/><rect x="426.00" y="481.20" width="2.10" height="4.77" fill="#940000"/><rect x="432.50" y="481.20" width="5.60" height="4.77" fill="#0000fa"/><rect x="438.00" y="481.20" width="5.10" height="4.77" fill="#6bff94"/><rect x="443.00" y="481.20" width="2.10" height="4.77" fill="#00f0ff"/><rect x="462.50" y="481.20" width="1.56" height="4.77" fill="#00f0ff"/><rect x="463.96" y="481.20" width="1.56" height="4.77" fill="#faff05"/><rect x="465.42" y="481.20" width="1.56" height="4.77" fill="#00f0ff"/><rect x="466.88" y="481.20" width="1.56" height="4.77" fill="#00f0ff"/><rect x="468.34" y="481.20" width="1.56" height="4.77" fill="#00f0ff"/><rect x="469.80" y="481.20" width="1.56" height="4.77" fill="#0080ff"/><rect x="471.26" y="481.20" width="1.56" height="4.77" fill="#0080ff"/><rect x="472.72" y="481.20" width="1.56" height="4.77" fill="#6bff94"/><rect x="474.18" y="481.20" width="1.56" height="4.77" fill="#00f0ff"/><rect x="475.64" y="481.20" width="1.56" height="4.77" fill="#00f0ff"/><rect x="477.10" y="481.20" width="1.56" height="4.77" fill="#00f0ff"/><rect x="478.56" y="481.20" width="1.56" height="4.77" fill="#faff05"/><rect x="480.02" y="481.20" width="1.56" height="4.77" fill="#00f0ff"/><rect x="481.48" y="481.20" width="1.56" height="4.77" fill="#00f0ff"/><rect x="482.94" y="481.20" width="1.56" height="4.77" fill="#00f0ff"/><rect x="484.40" y="481.20" width="1.56" height="4.77" fill="#faff05"/><rect x="485.86" y="481.20" width="1.56" height="4.77" fill="#6bff94"/><rect x="487.32" y="481.20" width="1.56" height="4.77" fill="#00f0ff"/><rect x="488.78" y="481.20" width="1.56" height="4.77" fill="#00f0ff"/><rect x="490.24" y="481.20" width="1.56" height="4.77" fill="#00f0ff"/><rect x="491.70" y="481.20" width="1.56" height="4.77" fill="#00f0ff"/><rect x="493.16" y="481.20" width="1.56" height="4.77" fill="#0080ff"/><rect x="494.62" y="481.20" width="0.48" height="4.77" fill="#6bff94"/><rect x="504.60" y="481.20" width="1.56" height="4.77" fill="#6bff94"/><rect x="506.06" y="481.20" width="1.56" height="4.77" fill="#6bff94"/><rect x="507.52" y="481.20" width="1.56" height="4.77" fill="#00f0ff"/><rect x="508.98" y="481.20" width="1.56" height="4.77" fill="#6bff94"/><rect x="510.44" y="481.20" width="1.56" height="4.77" fill="#00f0ff"/><rect x="511.90" y="481.20" width="1.56" height="4.77" fill="#6bff94"/><rect x="513.36" y="481.20" width="1.56" height="4.77" fill="#00f0ff"/><rect x="519.60" y="481.20" width="1.56" height="4.77" fill="#0080ff"/><rect x="521.06" y="481.20" width="1.56" height="4.77" fill="#00f0ff"/><rect x="522.52" y="481.20" width="1.56" height="4.77" fill="#0080ff"/><rect x="523.98" y="481.20" width="1.56" height="4.77" fill="#0080ff"/><rect x="525.44" y="481.20" width="1.56" height="4.77" fill="#0080ff"/><rect x="526.90" y="481.20" width="1.56" height="4.77" fill="#00f0ff"/><rect x="528.36" y="481.20" width="1.56" height="4.77" fill="#00f0ff"/><rect x="529.82" y="481.20" width="1.28" height="4.77" fill="#0080ff"/><rect x="63.00" y="485.67" width="2.10" height="4.77" fill="#0000fa"/><rect x="66.00" y="485.67" width="2.10" height="4.77" fill="#6bff94"/><rect x="68.00" y="485.67" width="3.40" height="4.77" fill="#00f0ff"/><rect x="71.30" y="485.67" width="4.30" height="4.77" fill="#0080ff"/><rect x="76.30" y="485.67" width="6.80" height="4.77" fill="#6bff94"/><rect x="83.80" y="485.67" width="6.80" height="4.77" fill="#00f0ff"/><rect x="90.50" y="485.67" width="1.30" height="4.77" fill="#0000fa"/><rect x="98.00" y="485.67" width="8.60" height="4.77" fill="#0000fa"/><rect x="106.50" y="485.67" width="1.60" height="4.77" fill="#00f0ff"/><rect x="110.00" y="485.67" width="1.56" height="4.77" fill="#00f0ff"/><rect x="111.46" y="485.67" width="1.56" height="4.77" fill="#00f0ff"/><rect x="112.92" y="485.67" width="1.56" height="4.77" fill="#0080ff"/><rect x="114.38" y="485.67" width="1.56" height="4.77" fill="#00f0ff"/><rect x="118.50" y="485.67" width="6.10" height="4.77" fill="#6bff94"/><rect x="124.50" y="485.67" width="1.60" height="4.77" fill="#940000"/><rect x="126.00" y="485.67" width="4.10" height="4.77" fill="#00f0ff"/><rect x="130.50" y="485.67" width="1.60" height="4.77" fill="#ff9e00"/><rect x="132.00" y="485.67" width="2.60" height="4.77" fill="#6bff94"/><rect x="135.00" y="485.67" width="3.10" height="4.77" fill="#940000"/><rect x="138.00" y="485.67" width="5.10" height="4.77" fill="#6bff94"/><rect x="146.00" y="485.67" width="2.10" height="4.77" fill="#6bff94"/><rect x="149.60" y="485.67" width="3.00" height="4.77" fill="#faff05"/><rect x="152.50" y="485.67" width="1.56" height="4.77" fill="#6bff94"/><rect x="153.96" y="485.67" width="1.56" height="4.77" fill="#00f0ff"/><rect x="155.42" y="485.67" width="1.56" height="4.77" fill="#6bff94"/><rect x="156.88" y="485.67" width="1.52" height="4.77" fill="#00f0ff"/><rect x="209.50" y="485.67" width="1.60" height="4.77" fill="#0080ff"/><rect x="213.50" y="485.67" width="2.10" height="4.77" fill="#940000"/><rect x="219.50" y="485.67" width="2.10" height="4.77" fill="#940000"/><rect x="222.00" y="485.67" width="1.56" height="4.77" fill="#6bff94"/><rect x="223.46" y="485.67" width="1.56" height="4.77" fill="#faff05"/><rect x="224.92" y="485.67" width="1.56" height="4.77" fill="#6bff94"/><rect x="226.38" y="485.67" width="1.56" height="4.77" fill="#6bff94"/><rect x="227.84" y="485.67" width="1.56" height="4.77" fill="#faff05"/><rect x="229.30" y="485.67" width="1.56" height="4.77" fill="#faff05"/><rect x="230.76" y="485.67" width="0.34" height="4.77" fill="#6bff94"/><rect x="240.00" y="485.67" width="9.10" height="4.77" fill="#0000fa"/><rect x="256.00" y="485.67" width="1.60" height="4.77" fill="#0000fa"/><rect x="260.00" y="485.67" width="2.10" height="4.77" fill="#940000"/><rect x="262.00" y="485.67" width="3.10" height="4.77" fill="#faff05"/><rect x="266.50" y="485.67" width="2.60" height="4.77" fill="#0080ff"/><rect x="281.00" y="485.67" width="6.10" height="4.77" fill="#6bff94"/><rect x="287.00" y="485.67" width="1.56" height="4.77" fill="#faff05"/><rect x="288.46" y="485.67" width="1.56" height="4.77" fill="#faff05"/><rect x="289.92" y="485.67" width="1.56" height="4.77" fill="#6bff94"/><rect x="291.38" y="485.67" width="1.56" height="4.77" fill="#6bff94"/><rect x="292.84" y="485.67" width="1.56" height="4.77" fill="#6bff94"/><rect x="294.30" y="485.67" width="0.80" height="4.77" fill="#6bff94"/><rect x="295.50" y="485.67" width="1.60" height="4.77" fill="#940000"/><rect x="297.00" y="485.67" width="2.60" height="4.77" fill="#6bff94"/><rect x="302.00" y="485.67" width="1.56" height="4.77" fill="#00f0ff"/><rect x="303.46" y="485.67" width="1.56" height="4.77" fill="#0080ff"/><rect x="304.92" y="485.67" width="1.56" height="4.77" fill="#0080ff"/><rect x="306.38" y="485.67" width="1.56" height="4.77" fill="#00f0ff"/><rect x="307.84" y="485.67" width="1.56" height="4.77" fill="#0080ff"/><rect x="309.30" y="485.67" width="1.56" height="4.77" fill="#00f0ff"/><rect x="310.76" y="485.67" width="1.56" height="4.77" fill="#0080ff"/><rect x="312.22" y="485.67" width="1.56" height="4.77" fill="#0080ff"/><rect x="313.68" y="485.67" width="1.42" height="4.77" fill="#0080ff"/><rect x="315.00" y="485.67" width="1.56" height="4.77" fill="#0080ff"/><rect x="316.46" y="485.67" width="1.56" height="4.77" fill="#0000fa"/><rect x="317.92" y="485.67" width="1.56" height="4.77" fill="#0000b2"/><rect x="319.38" y="485.67" width="1.56" height="4.77" fill="#0000b2"/><rect x="320.84" y="485.67" width="1.56" height="4.77" fill="#0080ff"/><rect x="322.30" y="485.67" width="1.56" height="4.77" fill="#0080ff"/><rect x="323.76" y="485.67" width="1.56" height="4.77" fill="#0000b2"/><rect x="325.22" y="485.67" width="1.56" height="4.77" fill="#0080ff"/><rect x="326.68" y="485.67" width="1.56" height="4.77" fill="#0000fa"/><rect x="328.14" y="485.67" width="1.56" height="4.77" fill="#0000fa"/><rect x="329.60" y="485.67" width="1.56" height="4.77" fill="#0000fa"/><rect x="331.06" y="485.67" width="1.56" height="4.77" fill="#0000fa"/><rect x="332.52" y="485.67" width="1.56" height="4.77" fill="#0000fa"/><rect x="333.98" y="485.67" width="1.56" height="4.77" fill="#0000b2"/><rect x="335.44" y="485.67" width="1.56" height="4.77" fill="#0000b2"/><rect x="336.90" y="485.67" width="1.56" height="4.77" fill="#0000fa"/><rect x="338.36" y="485.67" width="1.56" height="4.77" fill="#0000fa"/><rect x="339.82" y="485.67" width="1.56" height="4.77" fill="#0000b2"/><rect x="341.28" y="485.67" width="1.56" height="4.77" fill="#0000fa"/><rect x="342.74" y="485.67" width="1.56" height="4.77" fill="#0000b2"/><rect x="344.20" y="485.67" width="1.56" height="4.77" fill="#0080ff"/><rect x="345.66" y="485.67" width="1.56" height="4.77" fill="#0000b2"/><rect x="347.12" y="485.67" width="1.56" height="4.77" fill="#0000b2"/><rect x="348.58" y="485.67" width="1.56" height="4.77" fill="#0000fa"/><rect x="350.04" y="485.67" width="1.56" height="4.77" fill="#0080ff"/><rect x="351.50" y="485.67" width="1.56" height="4.77" fill="#0080ff"/><rect x="352.96" y="485.67" width="1.56" height="4.77" fill="#0080ff"/><rect x="354.42" y="485.67" width="1.56" height="4.77" fill="#0000b2"/><rect x="355.88" y="485.67" width="1.56" height="4.77" fill="#0080ff"/><rect x="357.34" y="485.67" width="1.56" height="4.77" fill="#0000b2"/><rect x="358.80" y="485.67" width="1.56" height="4.77" fill="#0000fa"/><rect x="360.26" y="485.67" width="1.56" height="4.77" fill="#0000b2"/><rect x="361.72" y="485.67" width="1.56" height="4.77" fill="#0000fa"/><rect x="363.18" y="485.67" width="1.56" height="4.77" fill="#0080ff"/><rect x="364.64" y="485.67" width="1.56" height="4.77" fill="#0000fa"/><rect x="366.10" y="485.67" width="1.56" height="4.77" fill="#0000b2"/><rect x="367.56" y="485.67" width="1.56" height="4.77" fill="#0000fa"/><rect x="369.02" y="485.67" width="1.56" height="4.77" fill="#0000b2"/><rect x="370.48" y="485.67" width="1.56" height="4.77" fill="#0000fa"/><rect x="371.94" y="485.67" width="1.56" height="4.77" fill="#0080ff"/><rect x="373.40" y="485.67" width="1.56" height="4.77" fill="#0000fa"/><rect x="375.00" y="485.67" width="1.56" height="4.77" fill="#0080ff"/><rect x="376.46" y="485.67" width="1.56" height="4.77" fill="#0000fa"/><rect x="377.92" y="485.67" width="1.56" height="4.77" fill="#0000fa"/><rect x="379.38" y="485.67" width="1.56" height="4.77" fill="#0000fa"/><rect x="380.84" y="485.67" width="1.56" height="4.77" fill="#0080ff"/><rect x="382.30" y="485.67" width="1.56" height="4.77" fill="#0000fa"/><rect x="383.76" y="485.67" width="1.56" height="4.77" fill="#0080ff"/><rect x="385.22" y="485.67" width="1.56" height="4.77" fill="#0000fa"/><rect x="386.68" y="485.67" width="1.56" height="4.77" fill="#0080ff"/><rect x="388.14" y="485.67" width="1.56" height="4.77" fill="#0080ff"/><rect x="389.60" y="485.67" width="1.56" height="4.77" fill="#0080ff"/><rect x="391.06" y="485.67" width="1.56" height="4.77" fill="#0000fa"/><rect x="392.52" y="485.67" width="1.56" height="4.77" fill="#0000fa"/><rect x="393.98" y="485.67" width="1.56" height="4.77" fill="#0000fa"/><rect x="395.44" y="485.67" width="1.56" height="4.77" fill="#0000fa"/><rect x="396.90" y="485.67" width="1.56" height="4.77" fill="#0000fa"/><rect x="398.36" y="485.67" width="1.56" height="4.77" fill="#0080ff"/><rect x="399.82" y="485.67" width="1.56" height="4.77" fill="#0000fa"/><rect x="401.28" y="485.67" width="1.56" height="4.77" fill="#0000fa"/><rect x="402.74" y="485.67" width="1.56" height="4.77" fill="#0000fa"/><rect x="404.20" y="485.67" width="1.56" height="4.77" fill="#0080ff"/><rect x="405.66" y="485.67" width="1.56" height="4.77" fill="#0080ff"/><rect x="407.12" y="485.67" width="1.56" height="4.77" fill="#0000fa"/><rect x="408.58" y="485.67" width="1.56" height="4.77" fill="#0080ff"/><rect x="410.04" y="485.67" width="1.56" height="4.77" fill="#0080ff"/><rect x="411.50" y="485.67" width="1.56" height="4.77" fill="#0000fa"/><rect x="412.96" y="485.67" width="1.56" height="4.77" fill="#0080ff"/><rect x="414.42" y="485.67" width="1.56" height="4.77" fill="#0080ff"/><rect x="415.88" y="485.67" width="1.56" height="4.77" fill="#0000fa"/><rect x="417.34" y="485.67" width="1.56" height="4.77" fill="#0080ff"/><rect x="418.80" y="485.67" width="1.56" height="4.77" fill="#0000fa"/><rect x="420.26" y="485.67" width="1.56" height="4.77" fill="#0000fa"/><rect x="421.72" y="485.67" width="1.56" height="4.77" fill="#0000fa"/><rect x="423.18" y="485.67" width="1.56" height="4.77" fill="#0000fa"/><rect x="424.64" y="485.67" width="0.46" height="4.77" fill="#0080ff"/><rect x="432.50" y="485.67" width="2.60" height="4.77" fill="#0000fa"/><rect x="462.50" y="485.67" width="12.60" height="4.77" fill="#0000fa"/><rect x="481.00" y="485.67" width="1.56" height="4.77" fill="#00f0ff"/><rect x="482.46" y="485.67" width="1.56" height="4.77" fill="#0080ff"/><rect x="483.92" y="485.67" width="1.56" height="4.77" fill="#00f0ff"/><rect x="485.38" y="485.67" width="1.56" height="4.77" fill="#0080ff"/><rect x="486.84" y="485.67" width="1.56" height="4.77" fill="#0080ff"/><rect x="488.30" y="485.67" width="1.56" height="4.77" fill="#0080ff"/><rect x="489.76" y="485.67" width="1.56" height="4.77" fill="#0080ff"/><rect x="491.22" y="485.67" width="1.56" height="4.77" fill="#00f0ff"/><rect x="492.68" y="485.67" width="1.56" height="4.77" fill="#00f0ff"/><rect x="494.14" y="485.67" width="0.96" height="4.77" fill="#0080ff"/><rect x="504.60" y="485.67" width="1.56" height="4.77" fill="#0000fa"/><rect x="506.06" y="485.67" width="1.56" height="4.77" fill="#0000fa"/><rect x="507.52" y="485.67" width="1.56" height="4.77" fill="#6bff94"/><rect x="508.98" y="485.67" width="1.56" height="4.77" fill="#6bff94"/><rect x="510.44" y="485.67" width="1.56" height="4.77" fill="#0000fa"/><rect x="511.90" y="485.67" width="1.56" height="4.77" fill="#0000fa"/><rect x="513.36" y="485.67" width="1.56" height="4.77" fill="#0000fa"/><rect x="519.60" y="485.67" width="1.56" height="4.77" fill="#0000fa"/><rect x="521.06" y="485.67" width="1.56" height="4.77" fill="#0080ff"/><rect x="522.52" y="485.67" width="1.56" height="4.77" fill="#0080ff"/><rect x="523.98" y="485.67" width="1.56" height="4.77" fill="#0000fa"/><rect x="525.44" y="485.67" width="1.56" height="4.77" fill="#0000fa"/><rect x="526.90" y="485.67" width="1.56" height="4.77" fill="#0000fa"/><rect x="528.36" y="485.67" width="1.56" height="4.77" fill="#0080ff"/><rect x="71.80" y="490.14" width="1.70" height="4.77" fill="#0000fa"/><rect x="85.00" y="490.14" width="6.10" height="4.77" fill="#0000b2"/><rect x="114.00" y="490.14" width="1.60" height="4.77" fill="#0000fa"/><rect x="117.00" y="490.14" width="1.60" height="4.77" fill="#0000fa"/><rect x="121.50" y="490.14" width="1.60" height="4.77" fill="#0000fa"/><rect x="126.00" y="490.14" width="4.60" height="4.77" fill="#0000fa"/><rect x="222.50" y="490.14" width="1.60" height="4.77" fill="#0000b2"/><rect x="244.00" y="490.14" width="1.60" height="4.77" fill="#0000b2"/><rect x="305.50" y="490.14" width="1.60" height="4.77" fill="#0000b2"/><rect x="308.50" y="490.14" width="1.60" height="4.77" fill="#0000b2"/><rect x="367.00" y="490.14" width="12.10" height="4.77" fill="#0000b2"/><rect x="388.00" y="490.14" width="3.10" height="4.77" fill="#0000b2"/><rect x="400.00" y="490.14" width="7.10" height="4.77" fill="#0000b2"/><rect x="464.00" y="490.14" width="1.10" height="4.77" fill="#0000b2"/><rect x="481.00" y="490.14" width="1.60" height="4.77" fill="#0000b2"/><rect x="486.00" y="490.14" width="1.60" height="4.77" fill="#0000b2"/><rect x="489.00" y="490.14" width="6.10" height="4.77" fill="#0000b2"/><rect x="512.00" y="490.14" width="3.10" height="4.77" fill="#0000fa"/><rect x="519.60" y="490.14" width="8.50" height="4.77" fill="#0000b2"/><path d="M64.7 380.3h0.01M65.5 381.2h0.01M67.2 382.8h0.01M68.0 384.5h0.01M68.8 385.3h0.01M69.7 385.7h0.01M70.5 395.3h0.01M72.2 392.0h0.01M73.0 391.2h0.01M73.8 390.3h0.01M74.7 387.8h0.01M75.5 387.0h0.01M76.3 391.2h0.01M77.2 392.0h0.01M78.0 401.2h0.01M78.8 402.0h0.01M79.7 403.7h0.01M80.5 404.5h0.01M81.3 402.0h0.01M82.2 382.8h0.01M83.0 384.5h0.01M83.8 387.0h0.01M84.7 393.7h0.01M85.5 396.2h0.01M86.3 397.8h0.01M87.2 398.7h0.01M88.0 400.0h0.01M88.8 400.3h0.01M89.7 389.5h0.01M90.5 374.5h0.01M95.5 401.2h0.01M96.3 400.3h0.01M98.0 354.5h0.01M100.5 357.8h0.01M101.3 367.8h0.01M102.2 368.3h0.01M103.0 368.7h0.01M103.8 369.5h0.01M104.7 370.3h0.01M105.5 371.2h0.01M106.3 372.0h0.01M107.2 372.8h0.01M108.0 374.5h0.01M109.7 377.8h0.01M111.3 378.7h0.01M112.2 388.7h0.01M113.0 390.3h0.01M113.8 389.5h0.01M114.7 388.7h0.01M115.5 391.2h0.01M116.3 389.5h0.01M117.2 390.0h0.01M118.0 391.2h0.01M118.8 392.0h0.01M119.7 391.7h0.01M120.5 386.2h0.01M121.3 395.3h0.01M122.2 401.2h0.01M123.8 387.8h0.01M125.5 373.3h0.01M126.3 373.7h0.01M127.2 374.5h0.01M128.0 379.5h0.01M128.8 380.3h0.01M129.7 376.2h0.01M130.5 377.0h0.01M131.3 390.3h0.01M133.0 382.8h0.01M133.8 383.7h0.01M134.7 384.5h0.01M135.5 385.3h0.01M136.3 387.8h0.01M137.2 384.5h0.01M138.0 382.8h0.01M138.8 387.0h0.01M139.7 385.3h0.01M140.5 388.7h0.01M141.3 395.3h0.01M142.2 397.0h0.01M143.0 398.7h0.01M143.8 394.5h0.01M144.7 400.3h0.01M145.5 398.7h0.01M146.3 392.8h0.01M147.2 391.2h0.01M148.0 393.7h0.01M148.8 387.8h0.01M149.7 382.8h0.01M150.5 377.8h0.01M151.3 387.0h0.01M152.2 384.5h0.01M153.0 382.0h0.01M153.8 387.8h0.01M154.7 387.0h0.01M155.5 385.3h0.01M156.3 383.7h0.01M157.2 384.5h0.01M158.0 382.8h0.01M158.8 383.7h0.01M159.7 385.3h0.01M160.0 385.3h0.01M161.7 382.8h0.01M163.3 387.0h0.01M164.2 381.2h0.01M165.8 391.2h0.01M166.7 389.5h0.01M167.5 387.8h0.01M169.2 385.3h0.01M170.0 384.5h0.01M170.8 382.0h0.01M171.7 379.5h0.01M172.5 377.8h0.01M173.3 377.0h0.01M174.2 380.3h0.01M175.0 385.3h0.01M175.8 382.8h0.01M176.7 387.0h0.01M177.5 382.8h0.01M178.3 380.3h0.01M179.2 376.2h0.01M180.0 377.0h0.01M180.8 381.2h0.01M181.7 382.0h0.01M182.5 382.8h0.01M183.3 380.3h0.01M184.2 382.8h0.01M185.0 391.2h0.01M185.8 391.2h0.01M186.7 392.0h0.01M187.5 389.5h0.01M188.3 388.7h0.01M189.2 384.5h0.01M190.0 381.2h0.01M190.8 382.0h0.01M191.7 384.5h0.01M192.5 385.3h0.01M193.3 390.3h0.01M194.2 391.2h0.01M195.0 392.0h0.01M195.8 397.0h0.01M196.7 396.2h0.01M197.5 394.5h0.01M198.3 395.3h0.01M199.2 397.0h0.01M200.0 402.0h0.01M200.8 398.7h0.01M201.7 396.2h0.01M202.5 395.3h0.01M203.3 394.5h0.01M204.2 393.7h0.01M205.0 392.8h0.01M206.7 391.2h0.01M207.5 389.5h0.01M208.3 400.3h0.01M209.2 392.8h0.01M210.0 391.2h0.01M210.8 390.3h0.01M211.7 392.8h0.01M212.5 391.2h0.01M213.3 389.5h0.01M214.2 391.2h0.01M215.0 392.0h0.01M215.8 393.7h0.01M216.7 392.8h0.01M217.5 400.3h0.01M218.3 398.7h0.01M219.2 392.8h0.01M220.0 391.2h0.01M220.8 391.2h0.01M221.7 390.3h0.01M222.5 370.3h0.01M223.3 366.2h0.01M224.2 365.3h0.01M225.8 400.3h0.01M226.7 398.7h0.01M227.5 397.8h0.01M228.3 397.0h0.01M229.2 396.2h0.01M230.0 357.8h0.01M230.8 397.0h0.01M231.7 396.2h0.01M232.5 395.3h0.01M233.3 394.5h0.01M234.2 393.7h0.01M235.8 367.8h0.01M236.7 368.7h0.01M237.5 368.7h0.01M238.3 354.5h0.01M239.2 398.7h0.01M240.0 382.8h0.01M240.8 383.7h0.01M241.7 385.3h0.01M242.5 387.8h0.01M243.3 391.2h0.01M244.2 392.0h0.01M245.0 392.8h0.01M245.8 381.2h0.01M246.7 376.2h0.01M247.5 375.3h0.01M248.3 373.7h0.01M249.2 391.2h0.01M250.0 397.0h0.01M250.8 396.2h0.01M251.7 393.7h0.01M252.5 392.8h0.01M253.3 392.0h0.01M254.2 394.5h0.01M255.0 395.3h0.01M255.8 394.5h0.01M256.7 392.0h0.01M257.5 392.8h0.01M258.3 393.7h0.01M259.2 392.0h0.01M260.0 392.0h0.01M260.8 396.2h0.01M261.7 370.3h0.01M262.5 367.0h0.01M263.3 362.8h0.01M264.2 362.0h0.01M265.0 363.7h0.01M265.8 364.5h0.01M266.7 363.7h0.01M267.5 365.3h0.01M268.3 357.0h0.01M270.0 372.8h0.01M270.8 373.7h0.01M271.7 374.5h0.01M272.5 373.7h0.01M273.3 367.0h0.01M274.2 367.8h0.01M275.0 367.0h0.01M275.8 368.7h0.01M276.7 367.8h0.01M277.5 372.0h0.01M278.3 370.3h0.01M279.2 369.5h0.01M280.0 368.7h0.01M280.8 372.0h0.01M281.7 371.2h0.01M282.5 366.2h0.01M283.3 367.0h0.01M284.2 368.7h0.01M285.0 369.5h0.01M285.8 370.3h0.01M286.7 374.5h0.01M287.5 392.0h0.01M288.3 392.8h0.01M289.2 391.2h0.01M290.0 392.0h0.01M290.8 393.7h0.01M291.7 396.2h0.01M292.5 392.8h0.01M293.3 387.0h0.01M294.2 386.2h0.01M295.0 383.7h0.01M295.8 382.0h0.01M296.7 387.0h0.01M297.5 391.2h0.01M298.3 392.8h0.01M299.2 393.7h0.01M300.0 394.5h0.01M300.8 398.7h0.01M301.7 395.3h0.01M302.5 376.2h0.01M303.3 375.3h0.01M304.2 365.3h0.01M305.0 397.8h0.01M305.8 397.0h0.01M306.7 396.2h0.01M307.5 397.8h0.01M308.3 397.0h0.01M309.2 387.8h0.01M310.0 365.3h0.01M310.8 372.8h0.01M311.7 391.2h0.01M312.5 393.7h0.01M313.3 396.2h0.01M314.2 397.8h0.01M315.0 395.3h0.01M315.8 396.2h0.01M316.7 393.7h0.01M317.5 354.5h0.01M318.3 405.3h0.01M319.2 387.0h0.01M320.0 386.2h0.01M320.8 392.8h0.01M321.7 391.2h0.01M322.5 388.7h0.01M323.3 390.3h0.01M324.2 389.5h0.01M325.0 391.2h0.01M325.8 387.8h0.01M326.7 396.2h0.01M327.5 387.0h0.01M328.3 389.5h0.01M329.2 388.7h0.01M330.0 377.8h0.01M330.8 373.7h0.01M331.7 389.5h0.01M332.5 378.7h0.01M333.3 380.3h0.01M334.2 382.0h0.01M335.0 382.8h0.01M335.8 383.7h0.01M336.7 384.5h0.01M337.5 389.5h0.01M338.3 391.2h0.01M339.2 392.0h0.01M340.0 393.7h0.01M340.8 397.0h0.01M341.7 398.7h0.01M342.5 400.3h0.01M343.3 387.0h0.01M344.2 385.3h0.01M345.0 394.5h0.01M345.8 380.3h0.01M346.7 381.2h0.01M347.5 387.0h0.01M348.3 397.8h0.01M349.2 408.7h0.01M350.0 406.2h0.01M350.8 387.0h0.01M351.7 401.2h0.01M352.5 393.7h0.01M353.3 388.7h0.01M354.2 389.5h0.01M355.0 387.8h0.01M355.8 387.0h0.01M356.7 398.7h0.01M357.5 404.5h0.01M358.3 407.0h0.01M359.2 408.7h0.01M360.0 354.5h0.01M362.5 387.0h0.01M363.3 395.3h0.01M364.2 397.0h0.01M365.0 398.7h0.01M366.7 405.3h0.01M367.5 392.8h0.01M369.2 387.0h0.01M361.7 400.3h0.01M385.0 400.3h0.01M385.8 396.2h0.01M400.8 402.8h0.01M401.7 403.7h0.01M426.7 406.2h0.01M427.5 407.0h0.01M370.0 360.3h0.01M370.8 362.8h0.01M371.7 357.0h0.01M372.5 359.5h0.01M373.3 363.7h0.01M374.2 362.0h0.01M375.0 360.3h0.01M375.8 368.7h0.01M376.7 358.7h0.01M377.5 362.8h0.01M378.3 359.5h0.01M379.2 357.0h0.01M380.0 362.0h0.01M380.8 363.7h0.01M381.7 358.7h0.01M382.5 360.3h0.01M383.3 355.3h0.01M384.2 362.0h0.01M386.7 365.3h0.01M387.5 361.2h0.01M388.3 357.8h0.01M389.2 365.3h0.01M390.0 366.2h0.01M390.8 363.7h0.01M391.7 367.0h0.01M392.5 368.7h0.01M393.3 360.3h0.01M394.2 362.8h0.01M395.0 359.5h0.01M395.8 363.7h0.01M396.7 362.0h0.01M397.5 357.8h0.01M398.3 363.7h0.01M400.0 371.2h0.01M401.7 368.7h0.01M403.3 356.2h0.01M404.2 369.5h0.01M405.0 367.0h0.01M405.8 357.0h0.01M406.7 357.8h0.01M407.5 363.7h0.01M408.3 371.2h0.01M409.2 362.0h0.01M410.0 356.2h0.01M410.8 355.3h0.01M411.7 357.0h0.01M412.5 362.0h0.01M413.3 362.8h0.01M414.2 366.2h0.01M415.0 367.0h0.01M415.8 363.7h0.01M416.7 370.3h0.01M417.5 365.3h0.01M418.3 357.0h0.01M419.2 358.7h0.01M420.0 362.8h0.01M420.8 363.7h0.01M421.7 361.2h0.01M422.5 360.3h0.01M423.3 359.5h0.01M424.2 363.7h0.01M425.0 355.3h0.01M432.5 356.2h0.01M433.3 357.0h0.01M434.2 371.2h0.01M435.0 365.3h0.01M435.8 369.5h0.01M436.7 370.3h0.01M437.5 371.2h0.01M438.3 374.5h0.01M439.2 377.8h0.01M440.0 378.7h0.01M440.8 368.7h0.01M441.7 369.5h0.01M442.5 359.5h0.01M443.3 357.0h0.01M444.2 374.5h0.01M445.0 368.7h0.01M446.7 357.0h0.01M447.5 359.5h0.01M448.3 358.7h0.01M449.2 357.8h0.01M450.0 358.7h0.01M450.8 357.8h0.01M451.7 358.7h0.01M453.3 357.8h0.01M455.0 366.2h0.01M455.8 365.3h0.01M456.7 362.8h0.01M457.5 362.0h0.01M458.3 363.7h0.01M459.2 364.5h0.01M460.0 366.2h0.01M460.8 357.8h0.01M461.7 357.0h0.01M462.5 372.0h0.01M463.3 371.2h0.01M464.2 370.3h0.01M465.0 368.7h0.01M465.8 367.8h0.01M466.7 367.0h0.01M467.5 365.3h0.01M468.3 366.2h0.01M469.2 359.5h0.01M470.0 366.2h0.01M470.8 367.0h0.01M471.7 371.2h0.01M472.5 372.0h0.01M473.3 370.3h0.01M474.2 369.5h0.01M475.0 368.7h0.01M475.8 370.3h0.01M476.7 369.5h0.01M477.5 368.7h0.01M478.3 367.8h0.01M479.2 367.0h0.01M480.0 367.8h0.01M480.8 366.2h0.01M481.7 365.3h0.01M482.5 368.7h0.01M483.3 367.0h0.01M484.2 371.2h0.01M485.0 374.5h0.01M485.8 394.5h0.01M486.7 393.7h0.01M487.5 394.5h0.01M488.3 380.3h0.01M489.2 382.0h0.01M490.0 365.3h0.01M490.8 373.7h0.01M491.7 374.5h0.01M492.5 375.3h0.01M493.3 386.2h0.01M494.2 387.8h0.01M495.0 400.3h0.01M495.8 398.7h0.01M496.7 397.8h0.01M497.5 397.0h0.01M498.3 396.2h0.01M499.2 397.8h0.01M500.0 392.0h0.01M500.8 387.8h0.01M501.7 394.5h0.01M503.3 357.0h0.01M504.2 367.8h0.01M505.0 368.7h0.01M506.7 370.3h0.01M508.3 371.2h0.01M510.0 372.0h0.01M511.7 373.7h0.01M513.3 374.5h0.01M514.2 375.3h0.01M515.0 385.3h0.01M515.8 386.2h0.01M516.7 387.0h0.01M517.5 388.7h0.01M518.3 390.3h0.01M519.2 392.0h0.01M520.0 392.8h0.01M521.7 394.5h0.01M522.5 395.3h0.01M523.3 391.2h0.01M524.2 390.3h0.01M525.0 392.8h0.01M525.8 397.0h0.01M526.7 392.0h0.01M527.5 392.8h0.01M528.3 392.0h0.01M529.2 392.8h0.01M530.0 391.2h0.01M530.8 392.0h0.01M531.7 392.0h0.01M532.5 391.2h0.01M533.3 392.0h0.01M534.2 390.3h0.01M535.0 389.5h0.01M535.8 387.8h0.01M536.7 386.2h0.01M504.6 368.2h0.01M505.4 369.1h0.01M505.8 369.5h0.01M506.2 369.9h0.01M507.2 370.6h0.01M507.8 370.9h0.01M508.9 371.4h0.01M509.4 371.7h0.01M510.4 372.4h0.01M510.8 372.8h0.01M511.2 373.2h0.01M512.2 373.9h0.01M512.8 374.2h0.01M513.8 374.9h0.01M515.4 385.8h0.01M516.2 386.6h0.01M516.9 387.6h0.01M517.2 388.1h0.01M517.8 389.2h0.01M518.1 389.8h0.01M518.6 390.9h0.01M518.9 391.4h0.01M519.6 392.4h0.01M520.4 393.2h0.01M520.8 393.7h0.01M521.2 394.1h0.01M522.1 394.9h0.01M522.6 394.7h0.01M522.7 394.1h0.01M522.9 393.5h0.01M523.0 393.0h0.01M523.1 392.4h0.01M523.2 391.8h0.01M523.8 390.8h0.01M524.4 391.0h0.01M524.6 391.6h0.01M524.8 392.2h0.01M525.1 393.4h0.01M525.2 394.0h0.01M525.4 394.6h0.01M525.5 395.2h0.01M525.6 395.8h0.01M525.7 396.4h0.01M525.9 396.4h0.01M526.0 395.8h0.01M526.1 395.1h0.01M526.2 394.5h0.01M526.4 393.9h0.01M526.5 393.2h0.01M526.6 392.6h0.01M527.1 392.4h0.01M527.9 392.4h0.01M528.8 392.4h0.01M529.4 392.3h0.01M529.7 391.7h0.01M530.4 391.6h0.01M531.2 392.0h0.01M532.1 391.6h0.01M532.9 391.6h0.01M533.6 391.4h0.01M533.9 390.9h0.01M534.6 389.9h0.01M535.3 388.9h0.01M535.6 388.4h0.01M536.1 387.3h0.01M536.4 386.7h0.01" stroke="#0000e6" stroke-width="2.5" stroke-linecap="round" fill="none"/><path d="M63.0 413.7h0.01M64.7 412.8h0.01M66.3 411.2h0.01M68.0 410.3h0.01M69.7 410.0h0.01M71.3 411.2h0.01M73.0 410.3h0.01M72.9 413.4h0.01M74.7 412.8h0.01M76.3 414.5h0.01M77.2 416.2h0.01M77.1 414.4h0.01M78.0 408.7h0.01M78.8 407.8h0.01M79.7 408.7h0.01M79.0 407.1h0.01M81.3 409.5h0.01M83.0 410.3h0.01M84.7 412.0h0.01M85.4 409.5h0.01M86.3 411.2h0.01M88.0 409.5h0.01M86.8 412.1h0.01M88.8 407.0h0.01M88.2 410.4h0.01M89.7 407.8h0.01M90.5 412.8h0.01M91.6 413.1h0.01M91.3 410.3h0.01M92.2 404.5h0.01M93.2 405.8h0.01M93.0 403.7h0.01M94.7 404.5h0.01M96.3 402.8h0.01M96.0 400.5h0.01M98.0 400.3h0.01M97.0 398.9h0.01M98.8 403.7h0.01M99.7 405.3h0.01M100.1 404.2h0.01M100.5 406.2h0.01M101.3 406.0h0.01M102.2 407.8h0.01M102.1 409.3h0.01M103.8 409.5h0.01M105.0 406.2h0.01M105.5 411.2h0.01M106.3 412.8h0.01M107.2 415.3h0.01M107.9 414.4h0.01M108.0 418.7h0.01M108.8 421.2h0.01M107.7 418.9h0.01M109.7 422.8h0.01M110.5 423.7h0.01M111.1 426.7h0.01M111.3 420.3h0.01M113.0 417.0h0.01M112.7 417.2h0.01M114.7 415.3h0.01M116.3 413.7h0.01M116.9 415.7h0.01M118.0 412.8h0.01M119.7 411.2h0.01M120.7 408.3h0.01M121.3 410.3h0.01M121.6 413.3h0.01M123.0 410.0h0.01M124.0 410.3h0.01M124.7 411.2h0.01M124.2 408.9h0.01M126.3 409.5h0.01M125.5 410.8h0.01M128.0 408.7h0.01M129.7 407.0h0.01M128.6 410.4h0.01M131.3 405.0h0.01M133.0 412.0h0.01M132.4 412.7h0.01M134.7 413.7h0.01M136.3 415.3h0.01M136.1 412.2h0.01M138.0 412.8h0.01M139.7 410.3h0.01M139.7 412.7h0.01M141.3 411.2h0.01M141.9 414.3h0.01M143.0 412.8h0.01M143.8 421.2h0.01M144.7 417.0h0.01M144.5 414.5h0.01M146.3 413.7h0.01M148.0 404.5h0.01M147.9 408.0h0.01M149.7 406.2h0.01M151.3 411.2h0.01M153.0 412.8h0.01M153.0 414.4h0.01M154.7 410.3h0.01M154.2 409.7h0.01M156.3 409.5h0.01M156.0 412.9h0.01M158.0 411.2h0.01M159.7 410.3h0.01M160.0 410.3h0.01M159.6 407.5h0.01M160.8 412.8h0.01M161.5 415.4h0.01M161.7 406.2h0.01M162.4 408.1h0.01M162.5 412.8h0.01M163.3 412.0h0.01M164.2 414.5h0.01M165.0 411.2h0.01M165.5 409.6h0.01M165.8 409.5h0.01M166.5 410.8h0.01M166.7 412.8h0.01M167.7 413.9h0.01M167.5 410.3h0.01M168.3 412.0h0.01M168.4 410.3h0.01M169.2 413.7h0.01M170.0 410.3h0.01M170.8 411.4h0.01M170.8 412.8h0.01M171.7 415.3h0.01M172.0 417.0h0.01M172.5 414.5h0.01M173.3 412.8h0.01M174.2 415.4h0.01M174.2 416.2h0.01M175.0 417.0h0.01M175.8 411.2h0.01M176.7 414.5h0.01M177.5 405.3h0.01M178.3 407.8h0.01M179.1 410.9h0.01M179.2 410.3h0.01M179.6 411.9h0.01M180.0 411.2h0.01M180.8 412.8h0.01M181.5 413.4h0.01M181.7 410.3h0.01M182.5 412.8h0.01M182.8 414.8h0.01M183.3 409.5h0.01M184.2 412.0h0.01M185.0 411.2h0.01M184.2 410.8h0.01M185.8 413.7h0.01M186.7 412.0h0.01M187.1 412.9h0.01M187.5 412.8h0.01M187.4 410.9h0.01M188.3 414.5h0.01M187.5 413.2h0.01M189.2 412.0h0.01M188.4 408.7h0.01M190.0 415.3h0.01M189.7 416.1h0.01M190.8 416.2h0.01M191.7 413.7h0.01M192.6 410.2h0.01M192.5 412.8h0.01M192.0 412.2h0.01M193.3 417.8h0.01M194.1 417.0h0.01M194.2 417.0h0.01M194.4 414.2h0.01M195.0 412.0h0.01M195.8 410.3h0.01M196.0 413.5h0.01M196.7 408.7h0.01M197.5 405.3h0.01M198.3 406.3h0.01M198.3 404.5h0.01M197.5 405.2h0.01M199.2 407.0h0.01M200.0 411.2h0.01M200.8 414.5h0.01M201.7 417.0h0.01M202.5 418.7h0.01M203.4 415.2h0.01M203.3 419.5h0.01M203.5 420.3h0.01M204.2 417.8h0.01M204.5 420.6h0.01M205.0 417.0h0.01M204.8 415.1h0.01M205.8 415.3h0.01M207.0 414.5h0.01M206.7 413.7h0.01M207.5 414.5h0.01M208.3 416.2h0.01M209.2 417.8h0.01M210.3 417.8h0.01M210.0 418.7h0.01M209.6 422.1h0.01M210.8 415.3h0.01M210.3 415.2h0.01M211.7 417.0h0.01M212.0 416.6h0.01M212.5 413.7h0.01M213.2 416.0h0.01M213.3 412.8h0.01M213.4 411.2h0.01M214.2 412.0h0.01M215.0 411.2h0.01M215.8 410.3h0.01M215.3 407.9h0.01M216.7 409.5h0.01M217.5 407.0h0.01M217.8 406.8h0.01M218.3 406.2h0.01M219.2 408.7h0.01M220.0 411.2h0.01M220.8 409.5h0.01M221.5 408.1h0.01M221.7 417.0h0.01M222.5 418.7h0.01M222.0 418.9h0.01M223.3 415.3h0.01M223.0 417.0h0.01M224.2 412.8h0.01M225.0 408.7h0.01M224.4 408.4h0.01M225.8 404.5h0.01M226.7 403.7h0.01M227.5 402.8h0.01M228.3 404.5h0.01M229.0 404.0h0.01M229.2 405.3h0.01M230.0 404.5h0.01M230.8 406.2h0.01M231.7 409.5h0.01M232.7 408.7h0.01M232.5 410.3h0.01M233.3 408.2h0.01M233.3 412.8h0.01M234.1 409.8h0.01M234.2 413.7h0.01M235.0 411.2h0.01M235.8 412.8h0.01M235.3 414.8h0.01M236.7 413.7h0.01M237.5 415.3h0.01M237.4 415.7h0.01M238.3 412.8h0.01M237.9 410.4h0.01M239.2 414.5h0.01M240.0 415.3h0.01M240.8 412.8h0.01M240.2 415.1h0.01M241.7 416.2h0.01M243.3 414.5h0.01M244.2 405.3h0.01M244.7 408.7h0.01M245.0 407.8h0.01M245.8 413.7h0.01M246.7 417.0h0.01M247.5 415.0h0.01M247.5 418.7h0.01M248.3 414.5h0.01M249.2 412.8h0.01M250.0 408.7h0.01M249.5 411.6h0.01M250.8 409.5h0.01M251.1 408.9h0.01M251.7 412.0h0.01M252.0 408.8h0.01M252.5 413.7h0.01M252.2 410.7h0.01M253.3 411.2h0.01M253.5 412.9h0.01M254.2 412.8h0.01M255.0 413.7h0.01M254.8 412.4h0.01M255.8 412.0h0.01M256.7 411.2h0.01M257.7 410.3h0.01M258.3 412.8h0.01M258.8 410.4h0.01M260.0 404.5h0.01M260.8 410.3h0.01M261.7 402.8h0.01M262.5 403.7h0.01M263.3 402.8h0.01M264.2 411.2h0.01M264.3 409.4h0.01M265.0 412.8h0.01M265.8 415.3h0.01M266.7 414.5h0.01M266.0 413.6h0.01M267.5 416.2h0.01M268.3 413.7h0.01M268.8 414.8h0.01M269.2 407.0h0.01M269.6 404.1h0.01M270.0 405.3h0.01M270.2 403.5h0.01M270.8 406.2h0.01M271.7 404.5h0.01M271.2 406.6h0.01M272.5 405.3h0.01M273.0 402.2h0.01M273.3 413.7h0.01M274.4 414.9h0.01M274.2 414.5h0.01M273.2 417.8h0.01M275.0 415.3h0.01M275.8 415.3h0.01M276.7 413.7h0.01M277.0 412.6h0.01M277.5 417.0h0.01M277.1 417.8h0.01M278.3 419.5h0.01M278.1 417.0h0.01M279.2 420.3h0.01M280.0 418.7h0.01M280.8 419.5h0.01M281.7 417.8h0.01M282.5 418.0h0.01M282.5 420.3h0.01M283.3 416.2h0.01M284.2 415.3h0.01M285.0 417.0h0.01M284.0 413.7h0.01M285.8 421.2h0.01M284.7 423.9h0.01M286.7 417.8h0.01M287.3 414.3h0.01M287.5 418.7h0.01M288.4 419.5h0.01M288.3 417.0h0.01M288.3 414.2h0.01M289.2 415.3h0.01M288.3 414.5h0.01M290.0 416.2h0.01M290.9 413.7h0.01M290.8 414.5h0.01M290.3 412.1h0.01M291.7 406.2h0.01M291.0 406.0h0.01M292.5 405.3h0.01M293.5 404.4h0.01M293.3 412.8h0.01M294.2 415.3h0.01M295.0 413.7h0.01M295.8 417.0h0.01M296.9 414.3h0.01M296.7 418.7h0.01M297.5 417.8h0.01M297.9 419.4h0.01M298.3 416.2h0.01M297.6 412.8h0.01M299.2 412.8h0.01M298.2 412.1h0.01M300.0 405.3h0.01M300.8 410.3h0.01M300.4 410.1h0.01M301.7 417.0h0.01M302.2 418.5h0.01M302.5 420.3h0.01M301.9 421.5h0.01M303.3 422.8h0.01M304.2 405.3h0.01M305.0 401.2h0.01M306.1 397.7h0.01M305.8 405.3h0.01M306.5 404.7h0.01M306.7 412.8h0.01M306.8 416.3h0.01M307.5 410.3h0.01M308.3 409.5h0.01M307.4 406.5h0.01M309.2 404.5h0.01M310.0 410.3h0.01M311.0 407.2h0.01M310.8 413.7h0.01M309.8 412.9h0.01M311.7 411.2h0.01M311.1 410.5h0.01M312.5 412.8h0.01M311.4 409.6h0.01M313.3 410.3h0.01M314.2 413.7h0.01M314.2 413.0h0.01M315.0 411.2h0.01M315.8 414.5h0.01M315.4 411.8h0.01M316.7 404.5h0.01M317.5 413.7h0.01M318.3 412.8h0.01M319.2 415.3h0.01M320.0 413.7h0.01M318.8 413.9h0.01M320.8 412.8h0.01M321.0 412.0h0.01M321.7 414.5h0.01M322.5 413.7h0.01M323.3 412.8h0.01M324.2 413.7h0.01M324.0 416.0h0.01M325.0 414.5h0.01M324.1 413.2h0.01M325.8 412.8h0.01M326.5 415.1h0.01M326.7 413.7h0.01M325.8 410.7h0.01M327.5 415.3h0.01M326.5 414.8h0.01M328.3 410.3h0.01M329.2 408.7h0.01M328.1 410.1h0.01M330.0 406.2h0.01M329.3 404.7h0.01M330.8 412.0h0.01M329.9 411.4h0.01M331.7 412.8h0.01M332.3 413.2h0.01M332.5 414.5h0.01M333.3 412.8h0.01M334.2 410.3h0.01M335.0 415.3h0.01M335.8 413.7h0.01M336.6 414.8h0.01M336.7 417.0h0.01M337.5 401.2h0.01M338.3 413.7h0.01M339.2 411.2h0.01M339.9 410.3h0.01M340.0 410.3h0.01M339.0 408.0h0.01M340.8 415.3h0.01M341.3 413.8h0.01M341.7 413.7h0.01M342.3 414.1h0.01M342.5 412.0h0.01M341.4 409.4h0.01M343.3 410.3h0.01M344.2 413.5h0.01M344.2 416.2h0.01M345.0 414.5h0.01M344.8 413.5h0.01M345.8 417.0h0.01M344.7 417.6h0.01M346.7 413.7h0.01M347.5 412.0h0.01M348.3 410.3h0.01M348.4 408.0h0.01M349.2 414.5h0.01M350.0 415.3h0.01M351.1 417.4h0.01M350.8 417.0h0.01M350.4 419.9h0.01M351.7 419.5h0.01M351.5 419.1h0.01M352.5 415.3h0.01M353.3 412.0h0.01M354.2 418.7h0.01M355.0 417.0h0.01M355.8 414.5h0.01M356.7 416.2h0.01M357.4 415.6h0.01M357.5 413.7h0.01M358.6 410.4h0.01M358.3 417.0h0.01M359.2 417.8h0.01M360.1 417.1h0.01M360.0 417.0h0.01M359.5 414.9h0.01M360.8 417.8h0.01M361.7 415.3h0.01M362.3 413.5h0.01M362.5 411.2h0.01M361.9 414.5h0.01M363.3 409.5h0.01M364.2 407.8h0.01M365.0 410.3h0.01M365.8 405.3h0.01M365.0 407.7h0.01M366.7 404.5h0.01M365.6 402.2h0.01M367.5 412.0h0.01M368.0 414.8h0.01M368.3 412.8h0.01M369.0 411.6h0.01M369.2 414.5h0.01M370.0 415.3h0.01M370.8 420.3h0.01M371.7 411.2h0.01M372.5 400.3h0.01M371.3 400.4h0.01M373.3 410.3h0.01M374.2 409.5h0.01M373.9 408.2h0.01M375.0 406.2h0.01M374.5 405.3h0.01M375.8 401.2h0.01M376.3 400.5h0.01M376.7 418.7h0.01M377.5 421.2h0.01M378.3 414.5h0.01M379.2 424.5h0.01M380.0 405.3h0.01M380.8 407.8h0.01M381.7 410.3h0.01M382.5 412.0h0.01M382.7 413.3h0.01M383.3 408.7h0.01M384.2 409.5h0.01M383.2 406.6h0.01M385.0 415.3h0.01M385.2 417.2h0.01M385.8 413.7h0.01M386.7 412.8h0.01M387.7 411.3h0.01M387.5 419.5h0.01M388.3 415.3h0.01M388.9 416.5h0.01M389.2 414.5h0.01M390.0 416.2h0.01M390.8 402.0h0.01M391.7 407.0h0.01M392.5 413.7h0.01M393.3 412.8h0.01M394.2 418.7h0.01M394.2 421.4h0.01M395.0 414.5h0.01M396.1 414.8h0.01M395.8 413.7h0.01M394.6 412.9h0.01M396.7 412.8h0.01M397.0 415.6h0.01M397.5 411.2h0.01M398.3 413.7h0.01M399.2 412.0h0.01M398.2 413.3h0.01M400.0 420.3h0.01M400.8 411.2h0.01M401.7 402.0h0.01M402.6 400.0h0.01M402.5 407.8h0.01M401.9 408.7h0.01M403.3 417.0h0.01M404.2 420.3h0.01M404.5 422.2h0.01M405.0 413.7h0.01M404.0 414.1h0.01M405.8 412.0h0.01M406.7 411.2h0.01M407.5 412.8h0.01M408.3 410.3h0.01M408.2 410.5h0.01M409.2 412.8h0.01M410.0 414.5h0.01M409.5 415.2h0.01M410.8 412.8h0.01M411.7 411.2h0.01M410.5 408.5h0.01M412.5 408.7h0.01M413.3 403.7h0.01M414.2 407.0h0.01M413.4 407.7h0.01M415.0 409.5h0.01M415.8 412.0h0.01M416.7 414.5h0.01M417.5 420.3h0.01M417.5 422.7h0.01M418.3 413.7h0.01M419.2 412.8h0.01M420.0 413.8h0.01M420.0 414.5h0.01M420.8 412.0h0.01M421.3 414.4h0.01M421.7 410.3h0.01M420.7 408.2h0.01M422.5 409.5h0.01M421.5 407.1h0.01M423.3 411.2h0.01M424.2 410.3h0.01M424.8 412.0h0.01M425.0 408.7h0.01M425.8 409.5h0.01M426.7 410.3h0.01M427.5 411.2h0.01M428.3 410.3h0.01M429.2 409.5h0.01M430.0 411.2h0.01M430.8 410.3h0.01M429.9 407.3h0.01M431.7 412.0h0.01M431.4 411.7h0.01M432.5 409.5h0.01M433.3 410.3h0.01M434.2 407.8h0.01M433.9 408.1h0.01M435.0 407.0h0.01M434.1 407.7h0.01M435.8 408.7h0.01M436.3 408.6h0.01M436.7 410.3h0.01M437.5 409.5h0.01M438.3 406.2h0.01M439.0 407.7h0.01M439.2 411.2h0.01M438.2 411.0h0.01M440.0 409.5h0.01M440.6 412.4h0.01M440.8 407.0h0.01M440.3 407.0h0.01M441.7 407.8h0.01M442.5 406.2h0.01M443.3 412.8h0.01M444.2 413.7h0.01M443.8 416.1h0.01M445.0 405.3h0.01M445.8 412.8h0.01M445.6 411.0h0.01M446.7 412.0h0.01M447.5 410.3h0.01M447.0 407.5h0.01M448.3 411.2h0.01M449.5 411.5h0.01M449.2 412.0h0.01M450.2 409.1h0.01M450.0 411.2h0.01M450.7 407.7h0.01M450.8 410.3h0.01M451.7 409.5h0.01M450.5 407.8h0.01M452.5 411.2h0.01M452.2 411.3h0.01M453.3 409.5h0.01M452.7 412.8h0.01M454.2 408.7h0.01M454.1 405.8h0.01M455.0 407.8h0.01M456.1 409.1h0.01M455.8 415.3h0.01M456.7 417.8h0.01M456.4 419.8h0.01M457.5 406.2h0.01M457.7 409.0h0.01M458.3 407.0h0.01M459.2 406.2h0.01M460.0 407.0h0.01M458.9 408.9h0.01M460.8 407.8h0.01M461.7 410.1h0.01M461.7 405.3h0.01M462.5 407.0h0.01M463.7 408.8h0.01M463.3 409.5h0.01M464.2 411.2h0.01M464.8 410.6h0.01M465.0 410.3h0.01M465.8 407.8h0.01M466.7 405.3h0.01M466.5 403.7h0.01M467.5 407.8h0.01M467.0 409.0h0.01M468.3 401.2h0.01M467.5 400.9h0.01M469.2 402.0h0.01M468.9 404.8h0.01M470.0 412.8h0.01M470.8 414.5h0.01M469.7 416.8h0.01M471.7 413.7h0.01M472.5 416.2h0.01M473.3 412.8h0.01M472.7 415.8h0.01M474.2 413.7h0.01M475.0 412.8h0.01M474.2 412.3h0.01M475.8 407.0h0.01M476.4 406.1h0.01M476.7 403.7h0.01M477.5 406.2h0.01M477.5 409.5h0.01M478.3 411.2h0.01M479.2 409.5h0.01M478.2 410.5h0.01M480.0 406.2h0.01M479.7 406.0h0.01M480.8 398.7h0.01M481.7 412.0h0.01M482.5 408.7h0.01M482.7 407.0h0.01M483.3 413.7h0.01M484.2 399.5h0.01M485.0 411.2h0.01M485.0 412.6h0.01M485.8 407.0h0.01M486.5 406.4h0.01M486.7 405.3h0.01M487.5 417.0h0.01M488.3 413.7h0.01M489.2 420.3h0.01M489.2 417.1h0.01M490.0 422.8h0.01M489.6 419.5h0.01M490.8 423.7h0.01M490.7 424.8h0.01M491.7 422.8h0.01M492.5 421.2h0.01M492.6 422.7h0.01M493.3 420.3h0.01M494.2 419.5h0.01M495.0 402.0h0.01M495.8 403.7h0.01M495.0 406.7h0.01M496.7 404.5h0.01M496.5 406.2h0.01M497.5 405.3h0.01M498.3 406.2h0.01M499.4 404.8h0.01M499.2 405.3h0.01M500.0 406.2h0.01M500.8 407.0h0.01M500.5 407.0h0.01M501.7 407.0h0.01M502.5 407.8h0.01M502.4 404.8h0.01M503.3 407.0h0.01M503.0 404.5h0.01M504.2 407.8h0.01M505.0 409.5h0.01M504.5 411.5h0.01M505.8 410.3h0.01M506.7 411.2h0.01M507.5 412.0h0.01M507.5 412.8h0.01M507.8 411.1h0.01M508.3 413.7h0.01M509.2 413.2h0.01M509.2 414.5h0.01M510.0 415.3h0.01M509.1 412.2h0.01M510.8 416.2h0.01M511.7 417.0h0.01M512.5 417.8h0.01M511.4 420.1h0.01M513.3 418.7h0.01M514.2 415.4h0.01M514.2 418.7h0.01M515.0 419.5h0.01M515.5 420.3h0.01M515.8 420.3h0.01M516.7 421.2h0.01M517.7 418.4h0.01M517.5 421.2h0.01M517.9 418.3h0.01M518.3 422.0h0.01M518.2 423.0h0.01M519.2 422.8h0.01M520.0 423.7h0.01M520.8 424.5h0.01M521.2 426.9h0.01M521.7 422.8h0.01M522.3 421.1h0.01M522.5 421.2h0.01M521.3 423.0h0.01M523.3 409.5h0.01M524.2 412.8h0.01M525.0 422.0h0.01M524.2 420.0h0.01M525.8 414.5h0.01M526.9 412.4h0.01M526.7 415.3h0.01M526.3 412.4h0.01M527.5 414.5h0.01M527.8 415.6h0.01M528.3 416.2h0.01M527.5 416.1h0.01M529.2 414.5h0.01M530.0 415.3h0.01M530.2 418.2h0.01M530.8 413.7h0.01M530.3 413.6h0.01M531.7 414.5h0.01M532.5 413.7h0.01M533.3 412.8h0.01M534.2 412.8h0.01M535.0 412.0h0.01M535.7 414.4h0.01M535.8 411.2h0.01M534.9 409.5h0.01M536.7 410.3h0.01M537.6 408.7h0.01M504.4 408.4h0.01M504.7 408.9h0.01M505.4 409.9h0.01M506.2 410.8h0.01M506.9 411.7h0.01M507.2 412.3h0.01M507.9 413.2h0.01M508.8 414.1h0.01M509.6 414.9h0.01M510.4 415.8h0.01M511.2 416.6h0.01M512.1 417.4h0.01M512.9 418.2h0.01M513.8 418.7h0.01M514.6 419.1h0.01M515.4 419.9h0.01M516.2 420.8h0.01M517.1 421.2h0.01M517.9 421.6h0.01M518.8 422.4h0.01M519.6 423.2h0.01M520.4 424.1h0.01M521.1 423.9h0.01M521.4 423.4h0.01M521.9 422.3h0.01M522.2 421.7h0.01M523.5 410.2h0.01M523.7 410.8h0.01M523.8 411.5h0.01M524.0 412.2h0.01M525.1 421.3h0.01M525.2 420.6h0.01M525.2 420.0h0.01M525.3 419.3h0.01M525.4 418.6h0.01M525.5 417.9h0.01M525.5 417.2h0.01M525.6 416.5h0.01M525.7 415.9h0.01M525.8 415.2h0.01M526.2 414.9h0.01M527.1 414.9h0.01M527.8 415.1h0.01M528.1 415.6h0.01M528.6 415.6h0.01M528.9 415.1h0.01M529.6 414.9h0.01M530.3 414.8h0.01M530.6 414.2h0.01M531.2 414.1h0.01M532.1 414.1h0.01M532.9 413.2h0.01M533.8 412.8h0.01M534.6 412.4h0.01M535.4 411.6h0.01M536.2 410.8h0.01" stroke="#e61a1a" stroke-width="2.5" stroke-linecap="round" fill="none"/><path d="M63.0 74.2 L66.3 75.0 L70.5 75.8 L73.0 78.3 L75.5 80.8 L78.0 80.0 L80.5 82.0 L83.0 83.3 L85.5 84.2 L88.0 84.7 L89.7 82.5 L91.3 79.2 L92.7 78.0 L94.7 79.7 L97.2 80.5 L99.7 81.3 L102.2 83.3 L103.8 85.0 L106.3 85.5 L108.8 85.0 L111.3 83.0 L113.0 80.8 L114.7 79.2 L116.3 78.3 L117.2 75.8 L118.0 71.7 L119.7 66.7 L121.3 63.3 L123.0 61.7 L125.5 60.8 L127.2 60.5 L128.8 61.7 L130.5 64.2 L132.2 65.0 L133.8 66.7 L136.3 67.5 L138.8 68.7 L141.3 70.0 L143.0 71.3 L144.7 71.7 L146.3 72.5 L148.8 73.8 L151.3 74.7 L153.8 75.0 L156.3 77.0 L158.8 79.7 L160.0 79.2 L161.7 80.0 L163.3 81.7 L165.8 82.5 L168.3 84.2 L170.8 84.2 L172.5 85.0 L174.2 83.3 L175.8 81.3 L177.5 83.3 L180.0 84.7 L182.5 85.3 L185.0 84.2 L186.7 84.2 L188.3 85.8 L190.8 87.5 L193.3 86.3 L195.0 85.8 L196.7 85.5 L198.3 85.0 L200.0 85.3 L201.7 87.5 L203.3 88.7 L205.8 88.0 L208.3 88.3 L210.8 89.2 L212.5 90.3 L213.7 86.7 L215.0 85.3 L216.7 87.5 L218.3 90.8 L219.7 92.5 L220.8 90.0 L222.5 89.2 L224.2 88.0 L225.8 86.3 L227.5 85.8 L229.2 86.3 L230.8 87.5 L232.5 88.7 L235.0 89.7 L237.5 90.0 L239.2 90.8 L241.7 90.0 L243.3 91.7 L245.0 93.0 L246.7 91.3 L248.3 90.0 L249.7 85.0 L250.8 81.7 L252.5 81.3 L254.2 82.5 L255.8 85.0 L257.5 87.5 L259.2 90.0 L260.0 90.8 L261.7 90.0 L264.2 88.7 L266.7 89.2 L268.3 90.0 L270.0 89.2 L272.5 87.8 L274.2 90.0 L275.8 91.3 L277.5 90.3 L279.2 89.7 L281.7 90.3 L284.2 91.7 L286.7 93.0 L289.2 94.2 L290.8 94.7 L292.5 93.0 L294.2 92.5 L295.8 93.7 L298.3 93.3 L300.0 92.0 L301.7 90.8 L303.0 88.3 L304.2 85.0 L305.8 85.3 L308.3 85.3 L310.0 83.3 L311.7 80.8 L313.0 82.5 L313.7 85.8 L314.7 82.5 L315.8 76.7 L317.5 75.3 L319.2 74.7 L320.8 74.2 L322.5 74.2 L324.2 75.0 L325.8 75.8 L327.5 75.3 L329.2 74.7 L330.8 75.5 L332.5 76.7 L334.2 78.0 L335.8 77.0 L337.5 76.7 L339.7 77.2 L341.3 77.5 L342.5 79.2 L344.2 81.3 L345.8 80.8 L347.5 82.0 L350.0 83.3 L351.7 84.2 L353.3 85.0 L355.8 85.3 L358.3 86.7 L360.0 86.7 L362.5 87.5 L365.0 89.2 L367.5 88.3 L369.2 86.7 L370.3 82.5 L371.7 77.5 L373.3 75.8 L374.7 74.7 L375.8 71.7 L377.5 72.5 L378.7 70.0 L379.7 65.0 L380.3 62.0 L381.3 63.3 L382.5 67.0 L383.7 65.0 L385.0 63.0 L386.7 63.7 L388.3 65.0 L390.0 65.3 L391.7 65.3 L393.3 64.7 L394.7 66.7 L395.8 69.2 L397.0 71.7 L398.3 73.0 L400.0 71.7 L401.7 72.5 L403.3 73.3 L405.8 73.7 L407.5 73.7 L409.2 75.0 L410.8 76.7 L412.5 78.3 L414.2 79.7 L415.8 79.2 L417.5 80.3 L419.2 81.3 L420.8 82.5 L422.5 83.7 L424.2 84.7 L425.8 85.5 L427.5 86.3 L429.2 87.0 L430.8 87.5 L432.5 87.5 L434.2 86.7 L435.8 88.0 L437.5 88.3 L439.2 89.2 L441.7 90.0 L443.3 89.7 L445.0 90.3 L446.7 92.5 L448.3 93.7 L450.8 95.0 L453.3 95.5 L455.8 96.0 L458.3 95.8 L460.8 96.7 L462.5 94.7 L464.2 94.2 L465.8 94.7 L467.5 95.7 L470.0 96.2 L472.5 96.7 L475.0 97.0 L477.5 97.2 L480.0 97.5 L482.5 97.2 L484.2 96.7 L486.7 95.3 L488.3 94.7 L490.0 93.7 L491.7 92.5 L493.3 93.0 L495.0 91.3 L496.3 89.2 L497.5 90.0 L499.2 90.8 L500.8 90.5 L502.5 90.0 L504.2 89.7 L505.8 89.2 L507.5 89.7 L509.2 90.8 L510.8 92.5 L512.5 93.7 L514.2 94.2 L515.8 93.3 L517.5 93.7 L518.7 94.2 L520.0 90.8 L521.7 87.5 L523.3 85.0 L524.7 83.3 L525.8 78.3 L527.0 72.5 L528.3 71.7 L530.0 73.7 L531.7 74.2 L533.3 75.3 L534.2 73.3 L535.3 74.7 L535.8 75.8" fill="none" stroke="#1010dc" stroke-width="2.6" stroke-linejoin="round" stroke-linecap="round" /><path d="M63.0 170.8 L64.7 172.5 L67.2 174.2 L69.7 177.5 L72.2 179.2 L74.7 180.0 L76.3 180.8 L78.0 181.7 L79.7 181.7 L81.0 179.2 L82.2 174.2 L83.3 175.8 L84.3 180.0 L86.3 182.2 L88.0 181.7 L89.3 178.3 L90.5 174.2 L91.3 176.7 L92.7 181.7 L93.8 185.0 L95.5 185.8 L97.2 185.0 L98.8 185.0 L100.5 184.7 L102.2 183.7 L103.8 184.7 L105.5 185.3 L107.2 185.0 L108.8 183.3 L110.5 180.0 L111.7 176.7 L113.0 170.8 L114.7 165.8 L116.0 161.7 L116.7 164.2 L117.7 160.0 L118.8 153.3 L119.7 151.7 L120.5 155.8 L121.3 154.2 L122.2 150.0 L123.0 150.8 L123.8 154.2 L125.0 160.8 L126.3 168.3 L128.0 165.8 L129.7 166.7 L131.3 168.0 L133.0 166.7 L134.7 164.7 L136.3 168.3 L138.0 170.8 L139.7 170.0 L141.0 175.0 L142.7 177.5 L144.7 178.3 L147.2 176.7 L149.7 175.0 L152.2 175.8 L154.7 175.0 L156.3 174.7 L158.0 174.2 L159.3 175.0 L160.5 177.5 L163.3 175.0 L165.0 177.5 L166.7 179.2 L168.3 175.8 L170.0 177.5 L171.3 172.5 L172.5 176.7 L174.2 175.0 L175.8 175.8 L177.5 175.5 L179.2 176.7 L180.8 171.7 L182.0 176.7 L183.3 175.8 L185.0 175.0 L186.3 180.0 L187.5 175.0 L189.2 173.3 L190.3 170.0 L191.7 167.5 L193.0 170.0 L194.2 174.2 L194.7 175.0" fill="none" stroke="#1010dc" stroke-width="2.6" stroke-linejoin="round" stroke-linecap="round" /><path d="M195.3 180.0 L196.7 182.5 L198.3 183.3 L200.0 180.8 L201.7 181.7 L203.3 180.0 L205.0 180.8 L207.5 180.8 L209.2 179.2 L210.8 180.8 L212.5 180.8 L213.7 175.8 L215.0 175.0 L216.3 177.5 L217.5 181.7 L218.7 184.2 L219.7 183.3 L220.3 178.3 L221.7 175.8 L223.3 175.0 L225.0 175.0 L226.3 174.2 L227.5 176.7 L229.2 178.3 L230.8 180.0 L232.5 181.7 L234.2 183.3 L235.8 183.3 L237.5 183.8 L239.2 184.2 L240.8 182.5 L242.5 180.0 L244.2 181.7 L245.8 182.0 L247.5 181.7 L249.2 179.7 L250.0 176.7 L251.3 175.8 L252.5 178.3 L254.2 180.0 L256.7 179.7 L258.3 180.8 L260.0 181.3 L261.7 180.8 L263.3 179.7 L265.0 178.8 L266.7 179.7 L268.3 179.7 L270.0 180.8 L271.7 183.0 L273.3 184.7 L275.0 185.3 L276.7 185.3 L278.3 185.0 L280.0 183.3 L281.7 181.3 L283.3 180.8 L285.0 181.7 L286.7 182.5 L289.2 183.0 L290.8 182.5 L292.0 179.2 L293.3 178.0 L294.7 173.3 L295.7 173.0 L296.7 175.8 L298.0 178.7 L299.7 180.8 L301.7 179.7 L303.3 177.5 L304.7 176.7 L305.8 178.0 L307.0 181.7 L308.3 182.5 L309.7 182.5 L310.5 178.3 L311.0 165.0 L311.7 157.5 L312.7 157.5 L313.3 168.3 L314.2 174.2 L315.0 172.5 L316.0 161.7 L316.7 157.5 L317.5 158.3 L318.3 165.8 L319.2 168.3 L320.0 170.8 L321.2 175.0 L322.5 178.7 L324.2 179.2 L325.8 176.7 L327.5 177.5 L328.3 175.8 L329.7 179.2 L330.8 178.7 L332.5 180.0 L334.2 179.2 L335.8 180.0 L336.7 178.7 L337.5 180.8 L339.2 181.7 L341.7 181.7 L344.2 180.8 L346.7 182.0 L349.2 182.2 L351.7 182.0 L354.2 182.5 L356.7 183.3 L358.3 183.7 L360.0 183.3 L362.5 183.0 L365.0 183.3 L367.5 182.0 L369.2 180.0 L370.3 176.7 L371.3 170.8 L372.5 168.3 L373.3 164.2 L374.2 156.7 L375.0 152.5 L375.8 148.3 L376.7 145.0 L377.5 149.2 L378.3 153.3 L379.2 155.0 L380.0 156.7 L380.8 164.2 L381.7 170.8 L383.0 169.2 L384.2 165.8 L385.3 165.0 L386.7 167.5 L388.0 165.0 L389.2 164.2 L390.3 167.5 L391.7 170.0 L393.0 170.8 L394.2 170.0 L395.8 173.0 L397.5 174.2 L399.2 175.8 L400.8 175.0 L402.5 174.2 L403.7 172.0 L405.0 175.0 L406.7 175.8 L408.3 176.7 L410.0 175.5 L411.7 175.0 L413.0 178.0 L414.7 180.3 L416.7 179.2 L418.3 177.5 L419.7 177.0 L420.8 179.7 L422.5 180.8 L424.2 180.0 L425.8 180.8 L427.5 181.3 L429.2 182.0 L430.8 180.8 L432.5 182.5 L434.2 183.7 L435.8 183.0 L437.5 182.5 L439.2 182.5 L440.8 181.3 L442.0 180.0 L443.3 182.5 L445.0 183.8 L446.7 184.2 L448.3 184.7 L451.7 185.0 L455.0 185.3 L458.3 185.3 L461.7 185.3 L464.2 184.7 L466.7 185.0 L470.0 185.3 L473.3 185.5 L476.7 185.5 L480.0 185.3 L483.3 184.7 L485.8 183.7 L487.5 182.5 L489.2 181.3 L490.8 180.0 L492.5 180.3 L493.7 179.2 L495.0 178.0 L496.7 175.8 L498.0 178.3 L499.7 179.2 L501.7 179.7 L503.0 180.3 L504.2 182.5 L505.3 185.0 L506.7 185.8 L508.3 185.0 L510.0 184.7 L511.7 185.0 L513.3 184.7 L515.0 183.3 L516.7 182.5 L518.3 183.3 L519.7 183.3 L520.8 183.0 L521.7 178.3 L522.5 171.7 L523.3 166.7 L524.2 163.3 L525.0 162.5 L525.8 152.5 L526.3 151.7 L527.0 160.0 L528.0 165.0 L529.2 166.7 L530.3 170.0 L531.3 173.3 L532.5 176.7 L533.7 179.2 L535.0 178.7 L535.8 175.0 L536.3 164.2" fill="none" stroke="#1010dc" stroke-width="2.6" stroke-linejoin="round" stroke-linecap="round" /><path d="M63.0 227.5 L64.7 229.2 L66.3 231.3 L68.8 232.5 L70.5 231.7 L72.2 231.3 L73.8 232.5 L75.5 230.8 L77.2 227.5 L78.0 226.7 L78.8 230.0 L80.5 230.0 L82.2 230.0 L83.8 229.2 L85.5 227.5 L87.2 225.0 L88.8 221.7 L90.0 218.3 L91.0 214.7 L91.7 217.5 L93.0 220.0 L94.7 220.0 L96.0 221.3 L97.2 226.7 L98.0 230.0 L98.8 228.3 L99.7 230.8 L100.5 224.2 L101.7 220.0 L103.0 221.3 L103.8 225.8 L104.7 226.7 L105.5 221.7 L106.7 218.3 L108.0 215.0 L109.3 213.3 L110.5 210.8 L111.7 211.7 L112.7 209.7 L113.8 213.3 L115.0 215.8 L116.3 217.5 L117.7 219.2 L118.8 220.8 L120.0 222.5 L121.3 225.0 L122.7 225.8 L124.3 228.3 L126.0 229.7 L128.0 229.2 L129.7 230.0 L131.0 229.2 L132.2 231.7 L133.8 233.3 L135.5 236.7 L137.2 235.0 L138.8 234.2 L140.5 235.0 L142.7 235.8 L144.7 235.8 L146.3 235.0 L148.0 233.3 L149.7 230.8 L151.3 230.0 L153.0 230.3 L155.0 230.8 L157.2 232.0 L159.7 233.3 L163.3 233.3 L165.0 234.2 L166.3 240.0 L167.0 243.3 L168.0 238.3 L169.2 235.8 L170.3 236.7 L171.7 235.0 L173.0 237.0 L174.2 234.7 L175.8 236.7 L177.5 235.0 L179.2 233.7 L180.3 235.0 L181.7 236.3 L183.3 234.7 L184.7 236.7 L185.8 240.8 L187.0 245.8 L188.3 242.5 L189.7 239.2 L190.8 240.3 L192.0 238.3 L193.3 240.8 L194.7 242.5 L195.8 243.3 L197.0 235.8 L198.3 233.3 L199.7 235.0 L200.8 238.3 L201.7 243.3 L202.5 248.3 L203.7 251.7 L204.7 248.3 L205.8 242.5 L207.0 235.8 L208.0 231.3 L209.2 233.3 L210.0 238.3 L211.7 242.5 L213.0 245.0 L214.2 238.3 L215.3 236.7 L216.7 235.8 L218.0 232.5 L219.2 229.2 L220.3 227.5 L221.7 235.8 L223.0 232.5 L224.2 231.7 L225.3 230.0 L226.7 228.3 L228.0 226.7 L229.2 225.0 L230.3 227.5 L231.7 237.5 L232.5 243.3 L233.3 241.7 L234.7 233.3 L235.8 229.2 L236.7 238.3 L237.5 240.8 L238.7 230.8 L240.0 228.3 L241.3 229.2 L242.5 227.5 L243.7 230.0 L245.0 233.3 L246.3 236.7 L247.5 240.0 L248.7 234.2 L250.0 230.0 L251.3 231.7 L252.5 232.5 L254.2 234.2 L255.8 237.5 L257.0 242.5 L258.3 238.3 L260.0 231.7 L261.3 227.5 L262.5 226.7 L263.7 224.2 L265.0 218.3 L266.3 215.0 L268.0 211.7 L269.2 213.3 L270.3 216.7 L272.0 218.3 L273.7 218.0 L275.3 219.7 L276.7 215.0 L277.5 213.7 L278.7 215.8 L280.3 216.7 L281.7 219.2 L283.0 222.5 L284.2 217.5 L285.8 216.7 L287.0 220.8 L288.3 225.0 L289.7 228.3 L291.3 227.5 L293.0 226.7 L294.2 228.3 L295.8 229.2 L297.5 229.2 L299.2 228.3 L300.3 223.3 L301.7 221.7 L302.7 216.7 L303.7 211.7 L305.0 210.8 L306.3 209.2 L307.5 208.3 L308.7 203.3 L309.5 200.0 L310.3 204.2 L311.3 211.7 L312.5 218.3 L313.3 222.5 L314.2 225.0 L315.3 219.2 L316.7 215.8 L317.8 215.0 L318.7 220.0 L319.7 224.2 L320.8 226.7 L322.5 229.2 L324.2 227.5 L325.5 226.3 L326.7 228.3 L328.3 227.5 L330.0 225.8 L331.7 226.7 L333.3 228.0 L335.0 229.2 L336.7 229.7 L338.3 229.7 L340.0 230.3 L341.7 231.7 L343.0 229.2 L345.0 227.5 L346.7 226.3 L349.2 226.3 L350.8 226.7 L352.5 227.5 L354.2 227.5 L355.8 226.3 L358.3 225.0 L360.0 224.7 L362.0 225.3 L364.2 224.2 L365.8 222.5 L367.5 220.3 L368.7 219.7 L369.3 224.2 L370.0 218.3 L370.8 214.7 L372.0 213.3 L373.7 213.7 L375.3 214.2 L376.7 215.8 L378.0 220.0 L379.2 225.8 L380.0 231.7 L381.3 233.3 L383.0 232.5 L384.7 229.2 L385.8 228.3 L387.0 230.3 L388.7 229.2 L390.0 230.0 L391.3 233.0 L393.0 233.3 L394.2 230.8 L395.3 229.2 L396.7 230.0 L398.0 232.0 L399.2 232.5 L400.3 228.3 L401.7 225.8 L403.0 226.7 L404.2 229.2 L405.8 230.0 L407.5 230.8 L409.2 231.7 L410.8 232.5 L412.0 234.7 L413.3 237.5 L415.0 235.8 L416.7 234.2 L418.3 235.0 L420.0 235.8 L421.7 235.0 L423.3 234.2 L424.7 232.5 L425.8 229.2 L427.5 229.2 L429.2 230.0 L430.8 230.8 L432.5 231.7 L434.2 233.3 L435.8 234.7 L437.5 235.8 L439.2 237.5 L440.8 239.2 L442.5 239.7 L444.2 237.5 L445.8 234.2 L447.0 232.5 L448.3 232.5 L450.0 230.0 L451.7 229.2 L453.3 228.0 L455.3 226.7 L456.7 227.5 L458.3 229.7 L460.0 228.7 L461.7 232.5 L463.3 233.7 L465.0 234.7 L467.0 235.8 L468.7 233.7 L470.3 233.7 L472.0 234.7 L473.7 234.2 L475.3 233.7 L477.0 234.2 L478.7 233.7 L480.3 232.5 L482.0 232.5 L483.3 228.3 L484.7 224.2 L486.3 225.0 L488.0 226.3 L489.7 229.2 L491.7 231.7 L493.3 233.3 L494.7 235.8 L495.5 239.2 L496.3 239.2 L497.0 230.8 L498.0 221.7 L499.7 218.3 L500.8 215.0 L502.0 212.5 L503.3 212.5 L505.0 214.2 L506.7 213.3 L508.0 215.8 L509.2 220.0 L510.8 220.8 L512.0 222.5 L513.0 225.0 L514.2 224.2 L515.0 218.3 L515.8 212.5 L517.0 210.0 L518.3 210.8 L519.2 207.5 L520.3 203.3 L521.7 199.2 L522.5 201.7 L523.3 205.8 L524.2 209.2 L525.3 211.7 L526.3 216.7 L527.5 224.2 L528.7 227.5 L530.0 229.7 L531.3 231.7 L532.7 233.0 L534.2 233.0 L535.3 230.8 L536.3 231.3" fill="none" stroke="#1010dc" stroke-width="2.6" stroke-linejoin="round" stroke-linecap="round" /><path d="M63.0 336.3 L64.7 335.8 L66.3 337.5 L68.0 339.2 L69.7 340.0 L72.2 339.2 L74.7 338.3 L77.2 337.5 L78.8 336.7 L80.5 335.8 L83.0 336.3 L85.5 335.8 L87.7 335.0 L88.8 330.8 L89.7 327.5 L91.0 328.0 L92.2 329.2 L93.8 327.5 L95.5 325.0 L97.2 324.2 L98.8 323.3 L100.5 323.3 L102.2 322.5 L103.8 323.0 L105.5 322.5 L106.7 320.8 L107.7 319.7 L108.8 318.7 L109.7 321.7 L110.2 318.3 L111.0 315.0 L111.7 313.0 L112.7 314.2 L113.8 316.7 L115.0 317.5 L116.0 320.0 L117.2 322.5 L118.3 325.8 L119.7 329.2 L121.3 331.7 L122.7 335.0 L123.8 333.7 L125.5 333.0 L127.2 333.7 L128.8 334.2 L130.5 334.2 L132.2 335.3 L133.8 337.5 L135.5 339.2 L137.2 338.3 L138.8 338.0 L140.5 337.0 L142.2 336.7 L143.8 335.8 L145.0 334.7 L146.3 335.8 L148.0 337.0 L149.7 338.3 L151.3 339.7 L153.0 340.0 L154.7 339.2 L156.3 338.3 L158.8 337.5 L161.3 337.0 L163.3 336.3 L165.8 335.8 L168.3 334.7 L170.0 335.3 L171.7 334.7 L173.3 335.3 L174.7 337.5 L176.3 339.2 L178.3 339.7 L180.8 339.2 L183.3 338.0 L185.8 337.0 L188.3 335.8 L190.8 335.0 L193.3 334.2 L195.0 333.7 L196.7 332.5 L198.3 331.3 L200.0 331.7 L201.7 332.5 L203.3 333.7 L205.0 335.0 L206.7 337.5 L208.3 338.7 L210.0 337.5 L211.7 335.0 L213.0 331.3 L214.2 330.0 L215.3 332.5 L216.7 331.7 L218.3 332.0 L219.7 330.8 L220.8 329.2 L222.0 327.5 L223.0 330.0 L224.2 331.7 L225.3 330.0 L226.7 330.8 L228.0 333.3 L229.7 334.7 L231.3 332.5 L232.5 329.2 L233.7 327.5 L234.7 326.3 L235.8 325.0 L237.0 327.5 L238.0 325.8 L239.2 327.5 L240.3 330.8 L241.7 335.0 L243.0 338.3 L244.2 340.8 L245.3 339.2 L246.7 338.3 L248.3 337.5 L250.0 336.7 L251.7 336.3 L253.0 334.7 L254.2 333.7 L255.3 334.2 L256.7 335.3 L258.3 336.7 L260.0 338.0 L261.3 339.2 L262.0 335.0 L263.3 334.2 L265.0 330.8 L266.3 329.7 L267.5 331.7 L269.2 333.7 L270.8 332.5 L272.5 331.7 L274.2 330.3 L275.8 330.0 L277.5 329.2 L278.7 328.0 L280.0 327.5 L281.3 329.7 L283.0 331.3 L284.7 332.5 L286.3 334.2 L288.0 334.7 L290.0 335.0 L291.7 337.0 L293.3 339.7 L295.0 337.5 L296.7 336.7 L299.2 337.0 L300.8 337.5 L301.7 335.0 L302.5 331.7 L303.3 320.0 L304.2 313.3 L305.0 314.2 L305.8 317.5 L306.7 320.0 L307.5 325.0 L308.3 330.0 L309.2 330.8 L310.0 318.3 L310.8 313.3 L311.7 317.5 L312.5 322.5 L313.3 320.8 L314.7 321.7 L315.8 325.8 L316.7 331.7 L317.5 332.5 L318.7 325.8 L319.7 327.5 L320.3 332.5 L321.3 335.8 L323.0 334.2 L324.7 335.3 L326.3 336.7 L327.5 338.3 L328.7 340.8 L330.0 341.7 L331.3 340.0 L333.0 338.0 L334.2 339.2 L335.8 340.3 L337.5 340.8 L339.7 340.8 L341.7 340.0 L343.3 340.8 L345.0 339.2 L346.3 337.5 L347.5 339.2 L349.2 340.3 L350.8 341.3 L352.5 342.0 L354.7 341.7 L356.7 341.3 L358.3 341.0 L360.0 340.8 L361.7 340.3 L363.3 340.8 L365.0 341.3 L366.3 339.2 L367.5 335.0 L368.3 330.0 L369.2 325.8 L370.0 322.5 L370.8 323.3 L371.7 327.5 L372.5 319.2 L373.3 315.8 L374.2 317.5 L375.0 320.8 L375.8 317.5 L376.7 323.3 L377.5 320.8 L378.3 319.2 L379.2 320.8 L379.7 326.7 L380.3 333.3 L381.3 336.7 L382.5 335.3 L384.2 333.7 L385.8 335.0 L387.5 337.5 L389.2 338.3 L390.8 338.7 L392.5 339.2 L394.2 338.7 L395.8 337.5 L397.0 335.3 L398.3 334.7 L399.7 335.3 L400.8 337.5 L402.0 335.8 L403.3 337.5 L405.0 339.2 L406.7 340.0 L408.3 340.3 L410.0 339.7 L411.7 338.7 L413.3 339.2 L415.0 340.0 L416.7 340.8 L418.3 341.7 L420.0 340.3 L421.3 339.2 L422.5 340.8 L424.2 340.0 L425.8 340.8 L427.5 340.0 L429.2 339.2 L430.8 340.0 L432.5 341.3 L434.2 341.7 L435.8 342.0 L437.5 341.3 L439.2 340.3 L440.8 340.8 L442.5 341.7 L444.2 343.0 L445.8 341.7 L447.5 341.3 L450.0 343.0 L452.0 343.7 L454.2 341.3 L456.7 339.7 L459.2 339.2 L460.8 340.0 L463.3 337.5 L465.0 336.7 L467.0 336.3 L468.7 336.7 L470.0 339.2 L471.7 340.8 L473.3 339.7 L475.3 339.2 L477.5 338.7 L479.7 338.3 L481.7 339.2 L483.0 340.0 L484.2 335.8 L485.3 333.3 L486.3 330.0 L487.0 326.7 L488.3 327.5 L490.0 328.3 L491.7 329.2 L493.3 327.5 L495.0 326.7 L496.7 325.3 L498.0 326.7 L499.2 327.5 L500.3 329.2 L501.3 328.3 L502.0 326.7 L503.3 325.8 L505.0 324.2 L506.7 323.0 L508.3 322.5 L510.0 320.8 L511.7 320.3 L513.0 321.7 L514.2 324.2 L515.0 328.3 L515.8 330.8 L517.0 328.3 L518.0 320.8 L519.2 308.3 L520.0 296.7 L520.8 294.2 L522.0 295.8 L523.3 294.7 L524.2 293.3 L525.0 295.0 L525.8 301.7 L526.3 313.3 L527.0 325.0 L527.7 328.3 L529.2 328.7 L530.8 327.5 L532.5 327.0 L534.2 327.5 L535.3 328.7 L536.3 329.7" fill="none" stroke="#1010dc" stroke-width="2.6" stroke-linejoin="round" stroke-linecap="round" /><path d="M63.0 737.5 L64.3 739.7 L65.5 743.3 L66.7 740.8 L68.0 738.7 L69.3 740.0 L70.5 737.5 L71.7 735.3 L72.7 736.7 L73.8 740.8 L74.7 745.8 L75.5 741.7 L76.3 739.2 L77.7 738.7 L78.8 740.0 L80.0 737.5 L81.3 735.0 L82.7 733.7 L83.8 735.8 L85.0 735.0 L86.3 734.7 L87.7 735.8 L88.8 735.0 L90.0 734.2 L91.3 736.7 L92.7 735.3 L93.8 735.0 L95.0 734.2 L96.0 737.5 L97.2 739.2 L97.7 728.3 L98.3 713.3 L99.0 711.7 L99.7 716.7 L100.5 728.3 L101.7 734.7 L102.7 730.0 L103.8 722.5 L105.0 719.2 L106.0 717.5 L106.7 715.0 L107.3 714.2 L108.0 723.3 L108.8 731.7 L109.7 735.0 L110.5 737.5 L111.3 739.7 L112.2 736.7 L113.3 735.0 L114.3 737.5 L115.5 735.8 L116.7 739.2 L118.0 740.0 L119.3 738.7 L121.0 740.0 L122.2 742.0 L123.3 740.8 L124.3 743.3 L125.5 740.3 L126.7 738.3 L127.7 736.7 L128.8 739.7 L130.0 738.7 L131.3 739.2 L132.7 740.8 L133.8 739.7 L135.0 738.7 L136.3 735.8 L137.7 735.0 L138.8 739.2 L140.0 736.7 L141.3 735.8 L142.2 743.3 L143.0 738.3 L143.8 745.0 L144.7 739.2 L145.5 735.0 L146.3 745.8 L147.2 740.0 L148.0 736.7 L148.8 745.0 L149.7 740.0 L151.0 738.7 L152.2 740.8 L153.3 735.8 L154.7 735.3 L156.0 737.5 L157.2 741.7 L158.3 745.8" fill="none" stroke="#1010dc" stroke-width="2.6" stroke-linejoin="round" stroke-linecap="round" /><path d="M198.3 747.0 L200.8 747.0 L203.3 746.7 L204.7 744.2 L205.8 740.8 L207.0 742.5 L208.3 735.0 L209.2 730.8 L210.0 733.3 L210.8 744.2 L212.0 745.8 L213.0 744.7 L214.2 744.2 L215.3 745.8 L216.7 746.7 L218.0 745.0 L218.7 738.3 L219.7 734.2 L220.8 736.7 L222.0 738.7 L223.3 738.0 L224.7 739.2 L225.8 740.3 L227.0 738.7 L228.3 739.2 L229.7 739.7 L230.8 738.3 L232.0 739.2 L233.0 745.8 L234.2 747.0 L235.8 745.8 L237.0 744.7 L238.0 743.3 L239.2 735.8 L240.8 734.7 L242.0 733.3 L243.3 730.0 L244.2 725.8 L245.3 727.5 L246.3 730.0 L247.5 730.8 L248.7 730.3 L249.7 732.5 L250.8 735.0 L251.7 732.5 L252.5 739.2 L253.3 733.3 L254.2 744.7 L255.0 743.3 L255.8 732.5 L256.7 731.7 L257.5 733.3 L258.3 737.5 L259.2 740.8 L260.0 739.2 L260.8 742.0 L262.0 740.8 L263.0 743.3 L264.2 740.0 L265.0 744.7 L265.8 740.3 L267.0 741.7 L268.0 745.0 L269.2 745.8 L270.3 745.0 L271.7 746.3 L273.3 746.7 L275.8 746.7 L278.3 746.7 L279.7 743.3 L280.8 735.8 L281.7 728.3 L282.5 726.7 L283.7 730.0 L284.7 738.3 L285.3 745.0 L286.3 745.0 L287.0 740.8 L288.0 739.2 L289.7 738.0 L290.8 740.8 L292.0 741.7 L293.3 742.5 L294.7 744.2 L295.8 740.8 L297.0 739.2 L298.0 743.3 L299.2 740.0 L300.3 741.7 L301.7 739.7 L303.3 738.3 L304.7 735.8 L306.3 733.0 L307.5 730.8 L308.3 729.2 L309.2 725.0 L309.7 715.8 L310.3 715.3 L311.0 723.3 L311.7 736.7 L312.5 739.7 L313.7 738.7 L315.0 738.0 L316.3 738.7 L317.5 739.2 L318.7 737.5 L319.7 738.7 L320.8 737.5 L322.0 738.7 L323.3 737.5 L324.7 737.0 L325.8 738.7 L327.0 740.0 L328.3 740.8 L330.0 740.3 L331.7 741.3 L333.3 741.7 L335.0 743.0 L336.7 743.3 L338.3 743.0 L340.0 742.5 L341.7 741.7 L343.3 740.8 L345.0 742.0 L346.3 740.8 L347.5 738.7 L348.3 738.3 L349.2 740.0 L350.3 742.5 L351.3 741.7 L352.5 740.3 L353.7 742.5 L355.0 743.3 L356.3 740.8 L357.5 740.3 L358.7 741.7 L360.0 742.2 L360.8 745.0 L361.7 743.3 L362.5 740.8 L364.2 740.0 L365.3 737.5 L366.3 728.3 L367.0 720.8 L367.7 720.0 L368.7 725.0 L369.7 730.8 L370.8 736.3 L372.0 738.7 L373.3 738.7 L374.7 737.5 L375.8 735.0 L377.0 735.8 L378.3 738.7 L379.7 740.8 L381.3 743.0 L383.0 742.5 L384.2 740.3 L385.3 739.2 L386.7 738.7 L388.0 739.7 L389.2 738.7 L390.3 738.7 L391.7 740.3 L393.0 742.0 L394.2 743.3 L395.3 742.5 L396.7 742.5 L398.0 740.8 L399.2 739.2 L400.3 738.0 L402.0 738.7 L403.7 738.7 L405.0 740.0 L406.3 738.7 L407.5 740.8 L408.3 739.7 L409.7 742.5 L410.8 740.8 L411.7 738.3 L412.5 735.0 L413.3 738.3 L414.7 739.2 L416.7 739.2 L418.7 738.7 L420.3 738.7 L421.7 736.3 L422.5 733.7 L423.7 735.8 L424.7 739.2 L425.8 738.7 L427.0 740.0 L428.0 739.7 L428.7 743.3 L429.7 745.0 L430.3 735.8 L431.3 726.7 L432.0 727.5 L432.7 739.2 L433.3 737.5 L434.2 733.3 L435.0 729.2 L436.3 728.3 L437.5 729.2 L438.3 735.0 L439.2 740.0 L440.0 735.8 L440.8 745.0 L441.7 741.7 L442.5 733.3 L443.3 733.0 L444.2 737.5 L445.0 745.0 L445.8 745.8 L446.7 745.0 L447.5 743.3 L448.3 739.7 L449.2 740.0 L450.3 741.7 L450.8 745.0 L451.7 746.7 L453.3 747.0 L455.8 746.7 L458.3 746.3 L459.7 745.0 L460.8 741.7 L461.7 730.0 L462.5 710.0 L463.0 685.0 L463.7 668.3 L464.3 666.7 L465.0 685.0 L465.8 699.2 L467.0 701.7 L468.0 711.7 L469.2 721.7 L470.0 723.3 L470.5 715.0 L471.0 698.3 L471.7 694.2 L472.5 701.7 L473.3 706.7 L474.7 705.8 L475.8 690.0 L476.7 678.3 L477.5 673.3 L478.3 685.0 L479.2 710.0 L480.0 732.5 L480.5 718.3 L481.2 680.0 L481.7 671.7 L482.5 676.7 L483.3 698.3 L484.2 716.7 L485.0 726.7 L485.7 716.7 L486.3 720.0 L487.2 726.7 L488.0 730.0 L488.7 724.2 L489.5 720.0 L490.3 725.8 L491.3 731.7 L492.5 736.7 L493.3 732.5 L494.2 731.7 L495.0 736.7 L495.8 744.2 L496.7 746.7 L499.2 746.7 L501.3 746.7 L502.2 742.5 L503.0 733.3 L503.8 727.5 L504.7 725.8 L505.5 731.7 L506.3 738.3 L507.2 733.3 L508.3 723.3 L509.7 708.3 L510.5 695.8 L511.3 698.3 L512.5 693.3 L513.3 691.7 L514.2 698.3 L515.0 713.3 L516.3 730.0 L517.5 738.3 L518.7 733.3 L519.7 730.0 L520.8 729.2 L521.7 735.0 L522.5 735.8 L523.7 735.8 L524.7 735.0 L525.8 734.2 L527.0 733.3 L528.0 734.2 L528.8 738.3 L529.7 743.3 L530.8 745.8 L532.5 746.7 L534.2 745.3 L535.3 744.2" fill="none" stroke="#1010dc" stroke-width="2.6" stroke-linejoin="round" stroke-linecap="round" /></g>
<g><line x1="92.6" y1="27.90" x2="92.6" y2="107.83" stroke="#e8262b" stroke-width="2.4"/><line x1="503.0" y1="27.90" x2="503.0" y2="107.83" stroke="#e8262b" stroke-width="2.4"/><line x1="110.0" y1="107.83" x2="110.0" y2="27.90" stroke="#d81e28" stroke-width="2.2" stroke-dasharray="6.8 7.2"/><line x1="522.4" y1="107.83" x2="522.4" y2="27.90" stroke="#d81e28" stroke-width="2.2" stroke-dasharray="6.8 7.2"/><line x1="92.6" y1="107.83" x2="92.6" y2="187.76" stroke="#e8262b" stroke-width="2.4"/><line x1="503.0" y1="107.83" x2="503.0" y2="187.76" stroke="#e8262b" stroke-width="2.4"/><line x1="110.0" y1="187.76" x2="110.0" y2="107.83" stroke="#d81e28" stroke-width="2.2" stroke-dasharray="6.8 7.2"/><line x1="522.4" y1="187.76" x2="522.4" y2="107.83" stroke="#d81e28" stroke-width="2.2" stroke-dasharray="6.8 7.2"/><line x1="92.6" y1="187.76" x2="92.6" y2="267.69" stroke="#e8262b" stroke-width="2.4"/><line x1="503.0" y1="187.76" x2="503.0" y2="267.69" stroke="#e8262b" stroke-width="2.4"/><line x1="110.0" y1="267.69" x2="110.0" y2="187.76" stroke="#d81e28" stroke-width="2.2" stroke-dasharray="6.8 7.2"/><line x1="522.4" y1="267.69" x2="522.4" y2="187.76" stroke="#d81e28" stroke-width="2.2" stroke-dasharray="6.8 7.2"/><line x1="92.6" y1="267.69" x2="92.6" y2="347.62" stroke="#e8262b" stroke-width="2.4"/><line x1="503.0" y1="267.69" x2="503.0" y2="347.62" stroke="#e8262b" stroke-width="2.4"/><line x1="110.0" y1="347.62" x2="110.0" y2="267.69" stroke="#d81e28" stroke-width="2.2" stroke-dasharray="6.8 7.2"/><line x1="522.4" y1="347.62" x2="522.4" y2="267.69" stroke="#d81e28" stroke-width="2.2" stroke-dasharray="6.8 7.2"/><line x1="92.6" y1="347.62" x2="92.6" y2="427.55" stroke="#e8262b" stroke-width="2.4"/><line x1="503.0" y1="347.62" x2="503.0" y2="427.55" stroke="#e8262b" stroke-width="2.4"/><line x1="110.0" y1="427.55" x2="110.0" y2="347.62" stroke="#d81e28" stroke-width="2.2" stroke-dasharray="6.8 7.2"/><line x1="522.4" y1="427.55" x2="522.4" y2="347.62" stroke="#d81e28" stroke-width="2.2" stroke-dasharray="6.8 7.2"/><line x1="92.6" y1="427.55" x2="92.6" y2="507.48" stroke="#e8262b" stroke-width="2.4"/><line x1="503.0" y1="427.55" x2="503.0" y2="507.48" stroke="#e8262b" stroke-width="2.4"/><line x1="110.0" y1="507.48" x2="110.0" y2="427.55" stroke="#d81e28" stroke-width="2.2" stroke-dasharray="6.8 7.2"/><line x1="522.4" y1="507.48" x2="522.4" y2="427.55" stroke="#d81e28" stroke-width="2.2" stroke-dasharray="6.8 7.2"/><line x1="92.6" y1="507.48" x2="92.6" y2="587.41" stroke="#e8262b" stroke-width="2.4"/><line x1="503.0" y1="507.48" x2="503.0" y2="587.41" stroke="#e8262b" stroke-width="2.4"/><line x1="110.0" y1="587.41" x2="110.0" y2="507.48" stroke="#d81e28" stroke-width="2.2" stroke-dasharray="6.8 7.2"/><line x1="522.4" y1="587.41" x2="522.4" y2="507.48" stroke="#d81e28" stroke-width="2.2" stroke-dasharray="6.8 7.2"/><line x1="92.6" y1="587.41" x2="92.6" y2="667.34" stroke="#e8262b" stroke-width="2.4"/><line x1="503.0" y1="587.41" x2="503.0" y2="667.34" stroke="#e8262b" stroke-width="2.4"/><line x1="110.0" y1="667.34" x2="110.0" y2="587.41" stroke="#d81e28" stroke-width="2.2" stroke-dasharray="6.8 7.2"/><line x1="522.4" y1="667.34" x2="522.4" y2="587.41" stroke="#d81e28" stroke-width="2.2" stroke-dasharray="6.8 7.2"/><line x1="92.6" y1="667.34" x2="92.6" y2="747.27" stroke="#e8262b" stroke-width="2.4"/><line x1="503.0" y1="667.34" x2="503.0" y2="747.27" stroke="#e8262b" stroke-width="2.4"/><line x1="110.0" y1="747.27" x2="110.0" y2="667.34" stroke="#d81e28" stroke-width="2.2" stroke-dasharray="6.8 7.2"/><line x1="522.4" y1="747.27" x2="522.4" y2="667.34" stroke="#d81e28" stroke-width="2.2" stroke-dasharray="6.8 7.2"/></g>
<g fill="none" stroke="#000" stroke-width="2.2"><rect x="63.4" y="27.90" width="473.40" height="79.93"/><rect x="63.4" y="107.83" width="473.40" height="79.93"/><rect x="63.4" y="187.76" width="473.40" height="79.93"/><rect x="63.4" y="267.69" width="473.40" height="79.93"/><rect x="63.4" y="347.62" width="473.40" height="79.93"/><rect x="63.4" y="427.55" width="473.40" height="79.93"/><rect x="63.4" y="507.48" width="473.40" height="79.93"/><rect x="63.4" y="587.41" width="473.40" height="79.93"/><rect x="63.4" y="667.34" width="473.40" height="79.93"/></g>
<path d="M58.60 27.90H63.40M58.60 54.54H63.40M58.60 81.19H63.40M58.60 107.83H63.40M58.60 116.71H63.40M58.60 152.24H63.40M58.60 187.76H63.40M58.60 187.76H63.40M58.60 241.05H63.40M58.60 281.01H63.40M58.60 314.32H63.40M58.60 347.62H63.40M58.60 347.62H63.40M58.60 379.96H63.40M58.60 412.30H63.40M58.60 436.44H63.40M58.60 480.84H63.40M58.60 520.80H63.40M58.60 547.40H63.40M58.60 574.10H63.40M58.60 607.39H63.40M58.60 647.35H63.40M58.60 697.31H63.40M58.60 747.27H63.40M536.80 27.90H541.60M536.80 54.54H541.60M536.80 81.19H541.60M536.80 107.83H541.60M536.80 116.71H541.60M536.80 152.24H541.60M536.80 187.76H541.60M536.80 187.76H541.60M536.80 241.05H541.60M536.80 281.01H541.60M536.80 314.32H541.60M536.80 347.62H541.60M536.80 347.62H541.60M536.80 379.96H541.60M536.80 412.30H541.60M536.80 436.44H541.60M536.80 480.84H541.60M536.80 520.80H541.60M536.80 547.40H541.60M536.80 574.10H541.60M536.80 607.39H541.60M536.80 647.35H541.60M536.80 697.31H541.60M536.80 747.27H541.60M113.30 23.70V27.90M177.40 23.70V27.90M241.50 23.70V27.90M305.60 23.70V27.90M369.70 23.70V27.90M433.80 23.70V27.90M497.90 23.70V27.90M113.30 107.83V111.83M177.40 107.83V111.83M241.50 107.83V111.83M305.60 107.83V111.83M369.70 107.83V111.83M433.80 107.83V111.83M497.90 107.83V111.83M113.30 187.76V191.76M177.40 187.76V191.76M241.50 187.76V191.76M305.60 187.76V191.76M369.70 187.76V191.76M433.80 187.76V191.76M497.90 187.76V191.76M113.30 267.69V271.69M177.40 267.69V271.69M241.50 267.69V271.69M305.60 267.69V271.69M369.70 267.69V271.69M433.80 267.69V271.69M497.90 267.69V271.69M113.30 347.62V351.62M177.40 347.62V351.62M241.50 347.62V351.62M305.60 347.62V351.62M369.70 347.62V351.62M433.80 347.62V351.62M497.90 347.62V351.62M113.30 427.55V431.55M177.40 427.55V431.55M241.50 427.55V431.55M305.60 427.55V431.55M369.70 427.55V431.55M433.80 427.55V431.55M497.90 427.55V431.55M113.30 507.48V511.48M177.40 507.48V511.48M241.50 507.48V511.48M305.60 507.48V511.48M369.70 507.48V511.48M433.80 507.48V511.48M497.90 507.48V511.48M113.30 587.41V591.41M177.40 587.41V591.41M241.50 587.41V591.41M305.60 587.41V591.41M369.70 587.41V591.41M433.80 587.41V591.41M497.90 587.41V591.41M113.30 667.34V671.34M177.40 667.34V671.34M241.50 667.34V671.34M305.60 667.34V671.34M369.70 667.34V671.34M433.80 667.34V671.34M497.90 667.34V671.34M74.84 667.34V669.14M87.66 667.34V669.14M100.48 667.34V669.14M126.12 667.34V669.14M138.94 667.34V669.14M151.76 667.34V669.14M164.58 667.34V669.14M190.22 667.34V669.14M203.04 667.34V669.14M215.86 667.34V669.14M228.68 667.34V669.14M254.32 667.34V669.14M267.14 667.34V669.14M279.96 667.34V669.14M292.78 667.34V669.14M318.42 667.34V669.14M331.24 667.34V669.14M344.06 667.34V669.14M356.88 667.34V669.14M382.52 667.34V669.14M395.34 667.34V669.14M408.16 667.34V669.14M420.98 667.34V669.14M446.62 667.34V669.14M459.44 667.34V669.14M472.26 667.34V669.14M485.08 667.34V669.14M510.72 667.34V669.14M523.54 667.34V669.14M115.80 747.27V751.47M203.53 747.27V751.47M291.25 747.27V751.47M378.98 747.27V751.47M466.70 747.27V751.47" stroke="#000" stroke-width="2" fill="none"/>
<rect x="561.0" y="426.3" width="12.9" height="81.5" fill="url(#jet)" stroke="#000" stroke-width="1"/><rect x="26.0" y="508.3" width="12.0" height="82.7" fill="url(#jet)" stroke="#000" stroke-width="1"/><rect x="561.0" y="588.6" width="12.9" height="82.0" fill="url(#jet)" stroke="#000" stroke-width="1"/>
<g><text x="300.60" y="15.30" font-size="15.5" text-anchor="middle" font-weight="bold" letter-spacing="0.45">ACE CR2085</text><text x="69.40" y="42.90" font-size="16" text-anchor="start" font-weight="bold" letter-spacing="0.5">(a)</text><text x="67.40" y="122.90" font-size="16" text-anchor="start" font-weight="bold" letter-spacing="0.5">(b)</text><text x="67.40" y="204.60" font-size="16" text-anchor="start" font-weight="bold" letter-spacing="0.5">(c)</text><text x="68.10" y="292.20" font-size="16" text-anchor="start" font-weight="bold" letter-spacing="0.5">(d)</text><text x="67.40" y="362.20" font-size="16" text-anchor="start" font-weight="bold" letter-spacing="0.5">(e)</text><text x="70.40" y="442.60" font-size="16" text-anchor="start" font-weight="bold" letter-spacing="0.5">(f)</text><text x="69.40" y="572.20" font-size="16" text-anchor="start" font-weight="bold" letter-spacing="0.5">(g)</text><text x="73.10" y="653.60" font-size="16" text-anchor="start" font-weight="bold" letter-spacing="0.5">(h)</text><text x="73.10" y="690.60" font-size="16" text-anchor="start" font-weight="bold" letter-spacing="0.5">(i)</text><text x="545.00" y="34.20" font-size="16" text-anchor="start" font-weight="bold" >800</text><text x="545.00" y="60.84" font-size="16" text-anchor="start" font-weight="bold" >600</text><text x="545.00" y="87.49" font-size="16" text-anchor="start" font-weight="bold" >400</text><text x="545.00" y="114.13" font-size="16" text-anchor="start" font-weight="bold" >200</text><text x="545.00" y="353.92" font-size="16" text-anchor="start" font-weight="bold" >400</text><text x="545.00" y="386.26" font-size="16" text-anchor="start" font-weight="bold" >200</text><text x="545.00" y="418.60" font-size="16" text-anchor="start" font-weight="bold" >0</text><text x="545.00" y="527.10" font-size="16" text-anchor="start" font-weight="normal" >8</text><text x="545.00" y="553.70" font-size="16" text-anchor="start" font-weight="normal" >6</text><text x="545.00" y="580.40" font-size="16" text-anchor="start" font-weight="normal" >4</text><text x="545.00" y="703.61" font-size="16" text-anchor="start" font-weight="normal" >0.5</text><text x="545.00" y="753.57" font-size="16" text-anchor="start" font-weight="normal" >0</text><text x="545.50" y="194.06" font-size="16" text-anchor="start" font-weight="normal" >10<tspan dy="-10.7" font-size="10">2</tspan></text><text x="545.50" y="247.35" font-size="16" text-anchor="start" font-weight="normal" >10<tspan dy="-10.7" font-size="10">0</tspan></text><text x="55.40" y="123.01" font-size="16" text-anchor="end" font-weight="bold" >4</text><text x="55.40" y="158.54" font-size="16" text-anchor="end" font-weight="bold" >2</text><text x="55.40" y="194.06" font-size="16" text-anchor="end" font-weight="bold" >0</text><text x="55.40" y="287.31" font-size="16" text-anchor="end" font-weight="bold" >20</text><text x="55.40" y="320.62" font-size="16" text-anchor="end" font-weight="bold" >10</text><text x="55.40" y="353.92" font-size="16" text-anchor="end" font-weight="bold" >0</text><text x="55.40" y="442.74" font-size="16" text-anchor="end" font-weight="normal" >20</text><text x="55.40" y="487.14" font-size="16" text-anchor="end" font-weight="normal" >10</text><text x="55.40" y="613.69" font-size="16" text-anchor="end" font-weight="normal" >6</text><text x="55.40" y="653.65" font-size="16" text-anchor="end" font-weight="normal" >4</text><text x="116.40" y="770.60" font-size="16" text-anchor="middle" font-weight="normal" >180</text><text x="204.12" y="770.60" font-size="16" text-anchor="middle" font-weight="normal" >185</text><text x="291.85" y="770.60" font-size="16" text-anchor="middle" font-weight="normal" >190</text><text x="379.58" y="770.60" font-size="16" text-anchor="middle" font-weight="normal" >195</text><text x="467.30" y="770.60" font-size="16" text-anchor="middle" font-weight="normal" >200</text><text x="300.80" y="787.60" font-size="15.5" text-anchor="middle" font-weight="bold" letter-spacing="0.5">DOY in 2009</text><text transform="translate(586.10,67.95) rotate(-90)" x="0" y="0" font-size="16" text-anchor="middle" font-weight="bold" letter-spacing="0.35"><tspan>V</tspan><tspan dy="9" font-size="13">p</tspan><tspan dy="-9"> (km/s)</tspan></text><text transform="translate(584.00,227.50) rotate(-90)" x="0" y="0" font-size="16" text-anchor="middle" font-weight="bold" letter-spacing="0.35"><tspan>N</tspan><tspan dy="9" font-size="13">p</tspan><tspan dy="-9"> (cm</tspan><tspan dy="-8" font-size="12">−</tspan><tspan dy="8" font-size="14">3</tspan><tspan>)</tspan></text><text transform="translate(29.20,148.40) rotate(-90)" x="0" y="0" font-size="16" text-anchor="middle" font-weight="bold" letter-spacing="0.35"><tspan>T</tspan><tspan dy="9" font-size="13">p</tspan><tspan dy="-9"> (10</tspan><tspan dy="-10" font-size="12">5</tspan><tspan dy="10"> K)</tspan></text><text transform="translate(27.60,307.70) rotate(-90)" x="0" y="0" font-size="16" text-anchor="middle" font-weight="bold" letter-spacing="0.35">&lt;|B|&gt; (nT)</text><text transform="translate(19.60,467.80) rotate(-90)" x="0" y="0" font-size="16" text-anchor="middle" font-weight="normal" letter-spacing="0.35"><tspan>Q</tspan><tspan dy="9" font-size="13">Fe</tspan></text><text transform="translate(567.00,547.50) rotate(-90)" x="0" y="0" font-size="16" text-anchor="middle" font-weight="normal" letter-spacing="0.35"><tspan>Q</tspan><tspan dy="9" font-size="13">O</tspan></text><text transform="translate(29.00,627.30) rotate(-90)" x="0" y="0" font-size="16" text-anchor="middle" font-weight="normal" letter-spacing="0.35"><tspan>Q</tspan><tspan dy="9" font-size="13">C</tspan></text><text transform="translate(585.20,707.40) rotate(-90)" x="0" y="0" font-size="16" text-anchor="middle" font-weight="bold" letter-spacing="0.35">Fe/O</text><text transform="translate(589.30,388.50) rotate(-90)" x="0" y="0" font-size="16" text-anchor="middle" font-weight="normal" letter-spacing="0.5"><tspan font-family="Liberation Serif" font-style="italic">λ, δ</tspan></text><text x="578.00" y="431.90" font-size="16" text-anchor="start" font-weight="bold" >1</text><text x="577.00" y="474.30" font-size="16" text-anchor="start" font-weight="bold" >0.5</text><text x="20.60" y="515.80" font-size="16" text-anchor="end" font-weight="normal" >1</text><text x="22.60" y="557.50" font-size="16" text-anchor="end" font-weight="normal" >0.5</text><text x="578.00" y="595.30" font-size="16" text-anchor="start" font-weight="bold" >1</text><text x="577.00" y="637.30" font-size="16" text-anchor="start" font-weight="bold" >0.5</text></g>
</svg></body></html>
